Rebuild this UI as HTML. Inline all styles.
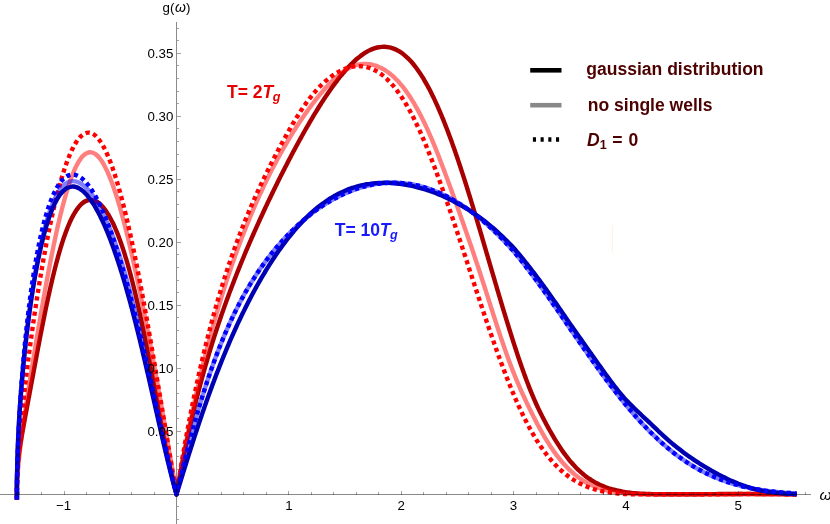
<!DOCTYPE html>
<html><head><meta charset="utf-8"><title>g(omega) plot</title>
<style>html,body{margin:0;padding:0;background:#fff;overflow:hidden}svg{display:block;will-change:transform}</style>
</head><body>
<svg width="830" height="524" viewBox="0 0 830 524">
<rect width="830" height="524" fill="#fff"/>
<rect x="611.8" y="225" width="1.1" height="27.5" fill="#fff1e0"/>
<g fill="none" stroke-width="4.4" stroke-linejoin="round" stroke-linecap="butt">
<path d="M16.90,499.60 L16.90,494.30C16.90,493.74 16.91,492.01 16.91,490.96C16.91,489.90 16.92,488.95 16.92,487.95C16.92,486.95 16.93,485.95 16.93,484.94C16.93,483.94 16.93,482.94 16.94,481.94C16.95,480.93 16.97,479.93 16.99,478.93C17.01,477.93 17.03,476.93 17.07,475.92C17.10,474.92 17.13,473.92 17.18,472.92C17.22,471.92 17.27,470.92 17.33,469.92C17.39,468.92 17.46,467.92 17.53,466.92C17.61,465.92 17.69,464.92 17.78,463.92C17.87,462.92 17.96,461.93 18.07,460.93C18.17,459.93 18.28,458.94 18.40,457.94C18.52,456.95 18.65,455.95 18.77,454.96C18.90,453.96 19.04,452.97 19.18,451.98C19.32,450.99 19.47,449.99 19.61,449.00C19.76,448.01 19.92,447.02 20.07,446.03C20.23,445.04 20.39,444.05 20.55,443.06C20.71,442.07 20.88,441.09 21.04,440.10C21.21,439.11 21.38,438.12 21.55,437.13C21.72,436.15 21.89,435.16 22.07,434.17C22.24,433.19 22.41,432.20 22.59,431.21C22.77,430.23 22.94,429.24 23.12,428.25C23.30,427.27 23.48,426.28 23.66,425.29C23.84,424.31 24.02,423.32 24.20,422.34C24.38,421.35 24.56,420.37 24.74,419.38C24.92,418.39 25.10,417.41 25.28,416.42C25.47,415.44 25.65,414.45 25.83,413.47C26.01,412.48 26.20,411.50 26.38,410.51C26.56,409.52 26.74,408.54 26.93,407.55C27.11,406.57 27.29,405.58 27.47,404.60C27.66,403.61 27.84,402.63 28.02,401.64C28.21,400.66 28.39,399.67 28.57,398.69C28.76,397.70 28.94,396.71 29.12,395.73C29.30,394.74 29.49,393.76 29.67,392.77C29.85,391.79 30.04,390.80 30.22,389.82C30.40,388.83 30.59,387.85 30.77,386.86C30.95,385.88 31.14,384.89 31.32,383.91C31.50,382.92 31.69,381.93 31.87,380.95C32.05,379.96 32.24,378.98 32.42,377.99C32.60,377.01 32.79,376.02 32.97,375.04C33.15,374.05 33.34,373.07 33.52,372.08C33.70,371.10 33.89,370.11 34.07,369.13C34.26,368.14 34.44,367.16 34.62,366.17C34.81,365.19 34.99,364.20 35.18,363.22C35.36,362.23 35.55,361.25 35.73,360.26C35.92,359.28 36.10,358.29 36.29,357.31C36.47,356.32 36.66,355.34 36.85,354.35C37.03,353.37 37.22,352.38 37.41,351.40C37.59,350.41 37.78,349.43 37.97,348.44C38.15,347.46 38.34,346.48 38.53,345.49C38.72,344.51 38.91,343.52 39.10,342.54C39.28,341.55 39.47,340.57 39.66,339.59C39.85,338.60 40.04,337.62 40.23,336.63C40.42,335.65 40.62,334.67 40.81,333.68C41.00,332.70 41.19,331.72 41.38,330.73C41.58,329.75 41.77,328.76 41.96,327.78C42.16,326.80 42.35,325.82 42.55,324.83C42.74,323.85 42.94,322.87 43.14,321.88C43.33,320.90 43.53,319.92 43.73,318.94C43.93,317.95 44.12,316.97 44.32,315.99C44.52,315.01 44.72,314.03 44.92,313.04C45.13,312.06 45.33,311.08 45.53,310.10C45.73,309.12 45.94,308.14 46.14,307.16C46.35,306.17 46.55,305.19 46.76,304.21C46.97,303.23 47.18,302.25 47.39,301.27C47.59,300.29 47.80,299.31 48.02,298.33C48.23,297.35 48.44,296.37 48.65,295.39C48.87,294.41 49.08,293.44 49.30,292.46C49.52,291.48 49.73,290.50 49.95,289.52C50.17,288.54 50.39,287.57 50.62,286.59C50.84,285.61 51.06,284.64 51.29,283.66C51.51,282.68 51.74,281.71 51.97,280.73C52.20,279.76 52.43,278.78 52.66,277.81C52.89,276.83 53.13,275.86 53.36,274.88C53.60,273.91 53.84,272.93 54.08,271.96C54.32,270.99 54.56,270.02 54.81,269.04C55.05,268.07 55.30,267.10 55.55,266.13C55.80,265.16 56.05,264.19 56.30,263.22C56.56,262.25 56.82,261.28 57.08,260.32C57.34,259.35 57.60,258.38 57.86,257.41C58.13,256.45 58.40,255.48 58.67,254.52C58.94,253.55 59.22,252.59 59.50,251.63C59.78,250.66 60.06,249.70 60.35,248.74C60.64,247.78 60.93,246.82 61.22,245.87C61.52,244.91 61.81,243.95 62.12,243.00C62.42,242.04 62.73,241.09 63.05,240.14C63.36,239.18 63.68,238.23 64.00,237.29C64.33,236.34 64.66,235.39 65.00,234.45C65.33,233.50 65.68,232.56 66.03,231.62C66.38,230.69 66.73,229.75 67.10,228.82C67.47,227.88 67.84,226.95 68.22,226.03C68.61,225.10 69.00,224.18 69.40,223.26C69.80,222.34 70.22,221.43 70.64,220.52C71.07,219.61 71.50,218.71 71.95,217.82C72.41,216.92 72.87,216.03 73.35,215.16C73.84,214.28 74.33,213.41 74.85,212.55C75.37,211.70 75.91,210.85 76.48,210.02C77.04,209.19 77.63,208.38 78.25,207.59C78.87,206.81 79.52,206.04 80.21,205.31C80.90,204.59 81.62,203.88 82.39,203.25C83.17,202.62 83.99,202.02 84.85,201.53C85.72,201.05 86.65,200.61 87.61,200.34C88.56,200.07 89.58,199.91 90.57,199.90C91.56,199.90 92.58,200.06 93.54,200.32C94.50,200.58 95.43,200.99 96.31,201.46C97.19,201.93 98.03,202.51 98.82,203.11C99.62,203.72 100.36,204.40 101.08,205.10C101.80,205.79 102.47,206.54 103.13,207.30C103.78,208.06 104.40,208.85 105.00,209.65C105.60,210.45 106.17,211.27 106.73,212.11C107.29,212.94 107.82,213.79 108.34,214.64C108.86,215.50 109.36,216.37 109.85,217.24C110.34,218.12 110.82,219.00 111.28,219.89C111.74,220.78 112.19,221.67 112.63,222.57C113.07,223.47 113.50,224.38 113.92,225.29C114.34,226.20 114.75,227.12 115.15,228.03C115.55,228.95 115.95,229.87 116.33,230.80C116.72,231.72 117.10,232.65 117.47,233.58C117.84,234.51 118.20,235.45 118.56,236.38C118.92,237.32 119.27,238.26 119.62,239.20C119.97,240.14 120.31,241.08 120.64,242.02C120.98,242.97 121.31,243.91 121.64,244.86C121.96,245.81 122.28,246.76 122.60,247.71C122.92,248.66 123.23,249.61 123.54,250.57C123.85,251.52 124.15,252.47 124.45,253.43C124.75,254.39 125.05,255.34 125.34,256.30C125.64,257.26 125.93,258.22 126.21,259.18C126.50,260.14 126.78,261.10 127.06,262.06C127.34,263.03 127.62,263.99 127.89,264.95C128.17,265.92 128.44,266.88 128.71,267.85C128.97,268.81 129.24,269.78 129.50,270.75C129.77,271.71 130.03,272.68 130.29,273.65C130.54,274.62 130.80,275.59 131.05,276.56C131.31,277.53 131.56,278.50 131.81,279.47C132.06,280.44 132.31,281.41 132.55,282.38C132.80,283.35 133.04,284.32 133.28,285.30C133.52,286.27 133.76,287.24 134.00,288.22C134.24,289.19 134.47,290.16 134.71,291.14C134.94,292.11 135.17,293.09 135.40,294.06C135.63,295.04 135.86,296.01 136.09,296.99C136.32,297.97 136.54,298.94 136.77,299.92C136.99,300.90 137.22,301.87 137.44,302.85C137.66,303.83 137.88,304.81 138.10,305.78C138.32,306.76 138.54,307.74 138.75,308.72C138.97,309.70 139.18,310.68 139.40,311.65C139.61,312.63 139.83,313.61 140.04,314.59C140.25,315.57 140.46,316.55 140.67,317.53C140.88,318.51 141.09,319.49 141.30,320.47C141.50,321.45 141.71,322.43 141.92,323.41C142.12,324.40 142.33,325.38 142.53,326.36C142.73,327.34 142.94,328.32 143.14,329.30C143.34,330.28 143.54,331.27 143.74,332.25C143.94,333.23 144.14,334.21 144.34,335.19C144.54,336.18 144.74,337.16 144.93,338.14C145.13,339.12 145.33,340.11 145.52,341.09C145.72,342.07 145.92,343.06 146.11,344.04C146.31,345.02 146.50,346.00 146.69,346.99C146.89,347.97 147.08,348.95 147.27,349.94C147.46,350.92 147.65,351.91 147.85,352.89C148.04,353.87 148.23,354.86 148.42,355.84C148.61,356.82 148.80,357.81 148.99,358.79C149.18,359.78 149.37,360.76 149.55,361.75C149.74,362.73 149.93,363.71 150.12,364.70C150.31,365.68 150.49,366.67 150.68,367.65C150.87,368.64 151.05,369.62 151.24,370.61C151.43,371.59 151.61,372.58 151.80,373.56C151.98,374.55 152.17,375.53 152.35,376.52C152.54,377.50 152.72,378.49 152.91,379.47C153.09,380.46 153.28,381.44 153.46,382.43C153.65,383.41 153.83,384.40 154.01,385.38C154.20,386.37 154.38,387.35 154.57,388.34C154.75,389.32 154.93,390.31 155.12,391.29C155.30,392.28 155.49,393.26 155.67,394.25C155.85,395.23 156.04,396.22 156.22,397.20C156.40,398.19 156.59,399.17 156.77,400.16C156.96,401.14 157.14,402.13 157.32,403.11C157.51,404.10 157.69,405.08 157.88,406.07C158.06,407.06 158.24,408.04 158.43,409.03C158.61,410.01 158.80,411.00 158.98,411.98C159.17,412.97 159.35,413.95 159.54,414.94C159.72,415.92 159.91,416.90 160.09,417.89C160.28,418.87 160.47,419.86 160.65,420.84C160.84,421.83 161.03,422.81 161.21,423.80C161.40,424.78 161.59,425.77 161.78,426.75C161.96,427.74 162.15,428.72 162.34,429.70C162.53,430.69 162.72,431.67 162.91,432.66C163.10,433.64 163.29,434.62 163.48,435.61C163.67,436.59 163.87,437.58 164.06,438.56C164.25,439.54 164.45,440.53 164.64,441.51C164.83,442.49 165.03,443.48 165.22,444.46C165.42,445.44 165.62,446.42 165.81,447.41C166.01,448.39 166.21,449.37 166.41,450.35C166.61,451.34 166.81,452.32 167.01,453.30C167.21,454.28 167.41,455.26 167.62,456.24C167.82,457.22 168.03,458.21 168.23,459.19C168.44,460.17 168.65,461.15 168.85,462.13C169.06,463.11 169.27,464.09 169.49,465.07C169.70,466.05 169.91,467.03 170.13,468.01C170.34,468.98 170.56,469.96 170.78,470.94C171.00,471.92 171.22,472.90 171.44,473.87C171.66,474.85 171.89,475.83 172.11,476.80C172.34,477.78 172.57,478.76 172.80,479.73C173.03,480.71 173.27,481.68 173.50,482.65C173.74,483.63 173.98,484.60 174.22,485.57C174.47,486.55 174.71,487.52 174.96,488.49C175.21,489.46 175.46,490.43 175.72,491.40C175.98,492.37 176.37,493.82 176.50,494.30C176.59,493.81 176.85,492.33 177.02,491.34C177.19,490.36 177.37,489.37 177.55,488.38C177.72,487.40 177.90,486.41 178.08,485.43C178.26,484.44 178.43,483.46 178.61,482.47C178.79,481.49 178.98,480.50 179.16,479.52C179.34,478.53 179.52,477.55 179.71,476.56C179.89,475.58 180.07,474.59 180.26,473.61C180.44,472.63 180.63,471.64 180.82,470.66C181.01,469.68 181.20,468.69 181.39,467.71C181.57,466.73 181.77,465.74 181.96,464.76C182.15,463.78 182.34,462.79 182.54,461.81C182.73,460.83 182.92,459.85 183.12,458.87C183.32,457.88 183.51,456.90 183.71,455.92C183.91,454.94 184.11,453.96 184.31,452.98C184.51,452.00 184.71,451.01 184.91,450.03C185.11,449.05 185.32,448.07 185.52,447.09C185.72,446.11 185.93,445.13 186.14,444.15C186.34,443.17 186.55,442.19 186.76,441.21C186.97,440.23 187.18,439.25 187.39,438.28C187.60,437.30 187.81,436.32 188.03,435.34C188.24,434.36 188.45,433.38 188.67,432.41C188.89,431.43 189.10,430.45 189.32,429.47C189.54,428.50 189.76,427.52 189.98,426.54C190.20,425.57 190.42,424.59 190.64,423.61C190.87,422.64 191.09,421.66 191.32,420.69C191.54,419.71 191.77,418.73 192.00,417.76C192.22,416.78 192.45,415.81 192.68,414.83C192.91,413.86 193.14,412.89 193.38,411.91C193.61,410.94 193.84,409.96 194.08,408.99C194.31,408.02 194.55,407.04 194.79,406.07C195.03,405.10 195.27,404.13 195.51,403.16C195.75,402.18 195.99,401.21 196.23,400.24C196.47,399.27 196.72,398.30 196.96,397.33C197.21,396.36 197.46,395.39 197.70,394.42C197.95,393.45 198.20,392.48 198.45,391.51C198.70,390.54 198.96,389.57 199.21,388.60C199.46,387.63 199.72,386.66 199.98,385.69C200.23,384.73 200.49,383.76 200.75,382.79C201.01,381.82 201.27,380.86 201.53,379.89C201.79,378.92 202.06,377.96 202.32,376.99C202.59,376.03 202.85,375.06 203.12,374.10C203.39,373.13 203.66,372.17 203.93,371.20C204.20,370.24 204.47,369.28 204.74,368.31C205.01,367.35 205.29,366.39 205.56,365.42C205.84,364.46 206.12,363.50 206.40,362.54C206.68,361.57 206.96,360.61 207.24,359.65C207.52,358.69 207.80,357.73 208.09,356.77C208.37,355.81 208.66,354.85 208.95,353.89C209.23,352.93 209.52,351.97 209.81,351.02C210.10,350.06 210.39,349.10 210.69,348.14C210.98,347.19 211.28,346.23 211.57,345.27C211.87,344.32 212.17,343.36 212.47,342.40C212.76,341.45 213.07,340.49 213.37,339.54C213.67,338.58 213.97,337.63 214.28,336.68C214.58,335.72 214.89,334.77 215.20,333.82C215.51,332.86 215.82,331.91 216.13,330.96C216.44,330.01 216.75,329.06 217.06,328.11C217.38,327.15 217.69,326.20 218.01,325.25C218.33,324.30 218.65,323.35 218.97,322.41C219.29,321.46 219.61,320.51 219.93,319.56C220.25,318.61 220.58,317.67 220.90,316.72C221.23,315.77 221.55,314.83 221.88,313.88C222.21,312.93 222.54,311.99 222.87,311.04C223.20,310.10 223.54,309.15 223.87,308.21C224.21,307.27 224.54,306.32 224.88,305.38C225.22,304.44 225.56,303.50 225.90,302.55C226.24,301.61 226.58,300.67 226.92,299.73C227.26,298.79 227.61,297.85 227.95,296.91C228.30,295.97 228.65,295.03 229.00,294.09C229.34,293.15 229.69,292.21 230.05,291.28C230.40,290.34 230.75,289.40 231.10,288.47C231.46,287.53 231.81,286.59 232.17,285.66C232.53,284.72 232.89,283.79 233.25,282.85C233.61,281.92 233.97,280.98 234.33,280.05C234.69,279.12 235.06,278.18 235.42,277.25C235.79,276.32 236.15,275.39 236.52,274.46C236.89,273.53 237.26,272.59 237.63,271.66C238.00,270.73 238.37,269.80 238.74,268.88C239.12,267.95 239.49,267.02 239.87,266.09C240.24,265.16 240.62,264.23 241.00,263.31C241.38,262.38 241.76,261.45 242.14,260.53C242.52,259.60 242.90,258.67 243.28,257.75C243.67,256.82 244.05,255.90 244.44,254.98C244.82,254.05 245.21,253.13 245.60,252.21C245.99,251.28 246.38,250.36 246.77,249.44C247.16,248.52 247.55,247.60 247.94,246.67C248.34,245.75 248.73,244.83 249.13,243.91C249.52,242.99 249.92,242.07 250.32,241.15C250.72,240.24 251.11,239.32 251.51,238.40C251.92,237.48 252.32,236.56 252.72,235.65C253.12,234.73 253.53,233.81 253.93,232.90C254.33,231.98 254.74,231.07 255.15,230.15C255.55,229.24 255.96,228.32 256.37,227.41C256.78,226.50 257.19,225.58 257.60,224.67C258.01,223.76 258.43,222.84 258.84,221.93C259.25,221.02 259.67,220.11 260.09,219.20C260.50,218.29 260.92,217.38 261.34,216.47C261.75,215.56 262.17,214.65 262.59,213.74C263.01,212.83 263.43,211.92 263.86,211.01C264.28,210.11 264.70,209.20 265.13,208.29C265.55,207.38 265.98,206.48 266.40,205.57C266.83,204.67 267.26,203.76 267.68,202.85C268.11,201.95 268.54,201.05 268.97,200.14C269.40,199.24 269.84,198.33 270.27,197.43C270.70,196.53 271.13,195.62 271.57,194.72C272.00,193.82 272.44,192.92 272.88,192.02C273.31,191.12 273.75,190.22 274.19,189.32C274.63,188.42 275.07,187.52 275.51,186.62C275.95,185.72 276.39,184.82 276.84,183.92C277.28,183.02 277.72,182.13 278.17,181.23C278.61,180.33 279.06,179.44 279.51,178.54C279.95,177.65 280.40,176.75 280.85,175.85C281.30,174.96 281.75,174.07 282.20,173.17C282.66,172.28 283.11,171.39 283.56,170.49C284.02,169.60 284.47,168.71 284.93,167.82C285.38,166.93 285.84,166.03 286.30,165.14C286.76,164.25 287.22,163.36 287.68,162.48C288.14,161.59 288.60,160.70 289.06,159.81C289.53,158.92 289.99,158.03 290.45,157.15C290.92,156.26 291.39,155.38 291.85,154.49C292.32,153.60 292.79,152.72 293.26,151.84C293.73,150.95 294.20,150.07 294.68,149.19C295.15,148.30 295.62,147.42 296.10,146.54C296.58,145.66 297.05,144.78 297.53,143.90C298.01,143.02 298.49,142.14 298.97,141.26C299.45,140.38 299.93,139.51 300.42,138.63C300.90,137.75 301.39,136.88 301.88,136.00C302.36,135.13 302.85,134.26 303.34,133.38C303.83,132.51 304.32,131.64 304.82,130.77C305.31,129.89 305.81,129.02 306.30,128.16C306.80,127.29 307.30,126.42 307.80,125.55C308.30,124.68 308.80,123.82 309.31,122.95C309.81,122.09 310.32,121.22 310.83,120.36C311.34,119.50 311.85,118.64 312.36,117.78C312.87,116.92 313.39,116.06 313.90,115.20C314.42,114.34 314.94,113.49 315.46,112.63C315.98,111.78 316.50,110.92 317.03,110.07C317.56,109.22 318.08,108.37 318.62,107.52C319.15,106.67 319.68,105.82 320.22,104.98C320.75,104.13 321.29,103.29 321.83,102.44C322.38,101.60 322.92,100.76 323.47,99.92C324.02,99.09 324.57,98.25 325.12,97.41C325.67,96.58 326.23,95.75 326.79,94.92C327.35,94.09 327.92,93.26 328.48,92.44C329.05,91.61 329.62,90.79 330.20,89.97C330.77,89.15 331.35,88.33 331.94,87.52C332.52,86.71 333.11,85.89 333.70,85.09C334.29,84.28 334.89,83.48 335.49,82.67C336.09,81.87 336.69,81.08 337.31,80.28C337.92,79.49 338.53,78.70 339.15,77.92C339.78,77.13 340.40,76.35 341.04,75.57C341.67,74.80 342.31,74.03 342.96,73.26C343.60,72.50 344.25,71.74 344.91,70.98C345.57,70.23 346.24,69.48 346.91,68.74C347.59,68.00 348.27,67.27 348.96,66.54C349.65,65.82 350.34,65.10 351.05,64.39C351.76,63.68 352.47,62.98 353.20,62.29C353.93,61.60 354.66,60.92 355.41,60.25C356.16,59.59 356.91,58.93 357.68,58.29C358.45,57.65 359.23,57.02 360.02,56.41C360.82,55.80 361.62,55.20 362.44,54.62C363.26,54.05 364.09,53.49 364.94,52.96C365.79,52.42 366.65,51.91 367.52,51.43C368.40,50.94 369.29,50.48 370.20,50.06C371.10,49.64 372.03,49.24 372.96,48.89C373.90,48.53 374.85,48.21 375.81,47.94C376.77,47.67 377.75,47.43 378.73,47.25C379.72,47.07 380.72,46.94 381.71,46.86C382.71,46.79 383.72,46.76 384.71,46.80C385.71,46.83 386.72,46.92 387.70,47.06C388.69,47.21 389.68,47.41 390.65,47.66C391.61,47.91 392.57,48.22 393.51,48.57C394.45,48.91 395.37,49.32 396.27,49.75C397.17,50.19 398.05,50.67 398.91,51.18C399.77,51.69 400.61,52.24 401.43,52.81C402.25,53.38 403.05,53.99 403.83,54.61C404.62,55.24 405.38,55.89 406.12,56.56C406.87,57.23 407.59,57.92 408.30,58.62C409.01,59.33 409.71,60.05 410.39,60.79C411.06,61.52 411.73,62.28 412.38,63.04C413.03,63.80 413.66,64.57 414.29,65.35C414.91,66.14 415.52,66.93 416.12,67.73C416.73,68.53 417.31,69.34 417.89,70.16C418.47,70.98 419.04,71.80 419.60,72.63C420.16,73.46 420.71,74.30 421.25,75.15C421.79,75.99 422.32,76.84 422.84,77.69C423.37,78.54 423.88,79.40 424.39,80.26C424.90,81.13 425.40,81.99 425.89,82.86C426.39,83.74 426.88,84.61 427.36,85.49C427.84,86.37 428.31,87.25 428.78,88.13C429.25,89.02 429.72,89.90 430.17,90.79C430.63,91.69 431.08,92.58 431.53,93.47C431.98,94.37 432.42,95.27 432.86,96.17C433.30,97.07 433.73,97.97 434.16,98.88C434.59,99.78 435.01,100.69 435.43,101.60C435.85,102.51 436.27,103.42 436.68,104.33C437.09,105.24 437.50,106.16 437.91,107.07C438.31,107.99 438.71,108.91 439.11,109.82C439.51,110.74 439.90,111.66 440.29,112.59C440.69,113.51 441.07,114.43 441.46,115.36C441.84,116.28 442.22,117.21 442.60,118.13C442.98,119.06 443.36,119.99 443.73,120.92C444.11,121.85 444.48,122.78 444.85,123.71C445.21,124.64 445.58,125.57 445.94,126.50C446.31,127.44 446.67,128.37 447.02,129.31C447.38,130.24 447.74,131.18 448.09,132.11C448.45,133.05 448.80,133.99 449.15,134.93C449.50,135.86 449.85,136.80 450.19,137.74C450.54,138.68 450.88,139.62 451.22,140.56C451.57,141.50 451.91,142.45 452.24,143.39C452.58,144.33 452.92,145.27 453.25,146.22C453.59,147.16 453.92,148.11 454.25,149.05C454.59,150.00 454.92,150.94 455.24,151.89C455.57,152.83 455.90,153.78 456.23,154.73C456.55,155.67 456.87,156.62 457.20,157.57C457.52,158.52 457.84,159.46 458.16,160.41C458.48,161.36 458.80,162.31 459.12,163.26C459.44,164.21 459.75,165.16 460.07,166.11C460.38,167.06 460.70,168.01 461.01,168.96C461.32,169.92 461.63,170.87 461.94,171.82C462.25,172.77 462.56,173.72 462.87,174.68C463.18,175.63 463.49,176.58 463.79,177.54C464.10,178.49 464.40,179.44 464.71,180.40C465.01,181.35 465.32,182.30 465.62,183.26C465.92,184.21 466.22,185.17 466.52,186.12C466.83,187.08 467.13,188.03 467.42,188.99C467.72,189.94 468.02,190.90 468.32,191.86C468.62,192.81 468.92,193.77 469.21,194.73C469.51,195.68 469.80,196.64 470.10,197.60C470.39,198.55 470.69,199.51 470.98,200.47C471.27,201.42 471.57,202.38 471.86,203.34C472.15,204.30 472.44,205.25 472.74,206.21C473.03,207.17 473.32,208.13 473.61,209.09C473.90,210.05 474.19,211.00 474.48,211.96C474.77,212.92 475.05,213.88 475.34,214.84C475.63,215.80 475.92,216.76 476.21,217.72C476.49,218.68 476.78,219.64 477.07,220.59C477.35,221.55 477.64,222.51 477.92,223.47C478.21,224.43 478.50,225.39 478.78,226.35C479.07,227.31 479.35,228.27 479.63,229.23C479.92,230.19 480.20,231.15 480.49,232.11C480.77,233.07 481.05,234.03 481.34,234.99C481.62,235.96 481.90,236.92 482.19,237.88C482.47,238.84 482.75,239.80 483.03,240.76C483.32,241.72 483.60,242.68 483.88,243.64C484.16,244.60 484.45,245.56 484.73,246.52C485.01,247.48 485.29,248.44 485.57,249.41C485.85,250.37 486.14,251.33 486.42,252.29C486.70,253.25 486.98,254.21 487.26,255.17C487.54,256.13 487.82,257.09 488.10,258.05C488.39,259.02 488.67,259.98 488.95,260.94C489.23,261.90 489.51,262.86 489.79,263.82C490.07,264.78 490.35,265.74 490.64,266.70C490.92,267.66 491.20,268.63 491.48,269.59C491.76,270.55 492.04,271.51 492.32,272.47C492.61,273.43 492.89,274.39 493.17,275.35C493.45,276.31 493.73,277.27 494.02,278.23C494.30,279.19 494.58,280.16 494.86,281.12C495.15,282.08 495.43,283.04 495.71,284.00C495.99,284.96 496.28,285.92 496.56,286.88C496.85,287.84 497.13,288.80 497.41,289.76C497.70,290.72 497.98,291.68 498.27,292.64C498.55,293.60 498.84,294.56 499.12,295.52C499.41,296.48 499.69,297.44 499.98,298.40C500.26,299.36 500.55,300.32 500.84,301.28C501.12,302.24 501.41,303.20 501.70,304.16C501.99,305.11 502.27,306.07 502.56,307.03C502.85,307.99 503.14,308.95 503.43,309.91C503.72,310.87 504.01,311.83 504.30,312.78C504.59,313.74 504.88,314.70 505.17,315.66C505.46,316.62 505.76,317.57 506.05,318.53C506.34,319.49 506.64,320.45 506.93,321.40C507.22,322.36 507.52,323.32 507.81,324.27C508.11,325.23 508.40,326.19 508.70,327.14C509.00,328.10 509.29,329.06 509.59,330.01C509.89,330.97 510.19,331.93 510.49,332.88C510.79,333.84 511.09,334.79 511.39,335.75C511.69,336.70 511.99,337.66 512.30,338.61C512.60,339.56 512.90,340.52 513.21,341.47C513.51,342.43 513.82,343.38 514.13,344.33C514.44,345.29 514.74,346.24 515.05,347.19C515.36,348.14 515.67,349.09 515.99,350.05C516.30,351.00 516.61,351.95 516.93,352.90C517.24,353.85 517.56,354.80 517.87,355.75C518.19,356.70 518.51,357.65 518.83,358.60C519.15,359.55 519.47,360.49 519.80,361.44C520.12,362.39 520.45,363.34 520.77,364.28C521.10,365.23 521.43,366.17 521.76,367.12C522.09,368.06 522.42,369.01 522.76,369.95C523.09,370.90 523.43,371.84 523.77,372.78C524.11,373.72 524.45,374.67 524.79,375.61C525.13,376.55 525.48,377.49 525.83,378.43C526.17,379.36 526.53,380.30 526.88,381.24C527.23,382.18 527.59,383.11 527.95,384.05C528.30,384.98 528.67,385.92 529.03,386.85C529.39,387.78 529.76,388.71 530.13,389.64C530.50,390.57 530.88,391.50 531.26,392.43C531.63,393.36 532.01,394.28 532.40,395.21C532.79,396.13 533.17,397.05 533.57,397.98C533.96,398.90 534.36,399.82 534.76,400.73C535.16,401.65 535.57,402.56 535.98,403.48C536.39,404.39 536.81,405.30 537.23,406.21C537.65,407.12 538.08,408.02 538.51,408.93C538.94,409.83 539.38,410.73 539.82,411.63C540.26,412.53 540.71,413.43 541.16,414.32C541.61,415.21 542.06,416.11 542.52,417.00C542.98,417.89 543.44,418.78 543.91,419.66C544.37,420.55 544.84,421.43 545.31,422.32C545.78,423.20 546.26,424.08 546.73,424.96C547.21,425.84 547.69,426.72 548.18,427.60C548.66,428.47 549.15,429.35 549.64,430.22C550.13,431.09 550.63,431.96 551.13,432.83C551.63,433.70 552.13,434.56 552.64,435.43C553.15,436.29 553.66,437.15 554.18,438.01C554.69,438.87 555.21,439.72 555.74,440.57C556.27,441.42 556.80,442.27 557.33,443.12C557.87,443.97 558.41,444.81 558.96,445.65C559.50,446.49 560.06,447.32 560.61,448.15C561.17,448.98 561.74,449.81 562.31,450.63C562.88,451.46 563.45,452.28 564.04,453.09C564.62,453.90 565.21,454.71 565.81,455.52C566.41,456.32 567.01,457.12 567.63,457.91C568.24,458.70 568.87,459.48 569.50,460.26C570.13,461.03 570.77,461.80 571.43,462.56C572.08,463.32 572.74,464.07 573.41,464.81C574.09,465.55 574.77,466.29 575.46,467.01C576.16,467.73 576.86,468.44 577.58,469.14C578.29,469.84 579.02,470.53 579.76,471.21C580.49,471.89 581.24,472.55 582.00,473.20C582.76,473.85 583.54,474.49 584.32,475.12C585.10,475.74 585.90,476.35 586.70,476.95C587.51,477.54 588.32,478.12 589.15,478.68C589.98,479.24 590.82,479.79 591.67,480.32C592.52,480.85 593.38,481.37 594.25,481.86C595.12,482.36 596.00,482.83 596.89,483.30C597.78,483.76 598.68,484.20 599.58,484.62C600.49,485.05 601.41,485.45 602.33,485.84C603.25,486.23 604.18,486.60 605.12,486.95C606.05,487.31 607.00,487.64 607.95,487.96C608.90,488.28 609.85,488.58 610.81,488.87C611.77,489.15 612.74,489.42 613.70,489.68C614.67,489.93 615.65,490.17 616.62,490.40C617.60,490.62 618.58,490.83 619.56,491.03C620.54,491.23 621.52,491.41 622.51,491.58C623.50,491.75 624.49,491.91 625.48,492.06C626.47,492.21 627.46,492.35 628.45,492.48C629.44,492.61 630.44,492.73 631.43,492.84C632.43,492.95 633.42,493.05 634.42,493.14C635.42,493.23 636.42,493.32 637.41,493.40C638.41,493.48 639.41,493.55 640.41,493.61C641.41,493.68 642.41,493.74 643.41,493.79C644.41,493.85 645.41,493.90 646.41,493.94C647.41,493.99 648.41,494.03 649.41,494.06C650.41,494.10 651.41,494.13 652.41,494.16C653.41,494.19 654.42,494.21 655.42,494.23C656.42,494.26 657.42,494.28 658.42,494.29C659.42,494.30 660.42,494.30 661.42,494.30C662.43,494.30 663.43,494.30 664.43,494.30C665.43,494.30 666.43,494.30 667.43,494.30C668.43,494.30 669.43,494.30 670.44,494.30C671.44,494.30 672.44,494.30 673.44,494.30C674.44,494.30 675.44,494.30 676.44,494.30C677.45,494.30 678.45,494.30 679.45,494.30C680.45,494.30 681.45,494.30 682.45,494.30C683.45,494.30 684.45,494.30 685.46,494.30C686.46,494.30 687.46,494.30 688.46,494.30C689.46,494.30 690.46,494.30 691.46,494.29C692.47,494.29 693.47,494.28 694.47,494.27C695.47,494.26 696.47,494.25 697.47,494.24C698.47,494.23 699.47,494.22 700.48,494.21C701.48,494.20 702.48,494.19 703.48,494.18C704.48,494.17 705.48,494.17 706.48,494.16C707.48,494.15 708.49,494.14 709.49,494.13C710.49,494.12 711.49,494.11 712.49,494.10C713.49,494.09 714.49,494.08 715.50,494.08C716.50,494.07 717.50,494.06 718.50,494.05C719.50,494.04 720.50,494.03 721.50,494.03C722.50,494.02 723.51,494.01 724.51,494.01C725.51,494.00 726.51,493.99 727.51,493.99C728.51,493.98 729.51,493.97 730.51,493.97C731.52,493.96 732.52,493.96 733.52,493.95C734.52,493.95 735.52,493.94 736.52,493.94C737.52,493.93 738.53,493.93 739.53,493.93C740.53,493.92 741.53,493.92 742.53,493.92C743.53,493.92 744.53,493.92 745.53,493.91C746.54,493.91 747.54,493.91 748.54,493.91C749.54,493.91 750.54,493.91 751.54,493.91C752.54,493.92 753.55,493.92 754.55,493.92C755.55,493.92 756.55,493.93 757.55,493.93C758.55,493.93 759.55,493.94 760.55,493.94C761.56,493.95 762.56,493.95 763.56,493.96C764.56,493.97 765.56,493.97 766.56,493.98C767.56,493.99 768.57,494.00 769.57,494.01C770.57,494.02 771.57,494.03 772.57,494.04C773.57,494.05 774.57,494.06 775.57,494.07C776.58,494.09 777.58,494.10 778.58,494.12C779.58,494.13 780.58,494.15 781.58,494.16C782.58,494.18 783.58,494.20 784.58,494.21C785.59,494.23 786.59,494.26 787.59,494.27C788.59,494.28 789.59,494.30 790.59,494.30C791.59,494.30 792.59,494.30 793.60,494.30C794.60,494.30 796.10,494.30 796.60,494.30" stroke="#a80000"/>
<path d="M16.90,499.60 L16.90,494.30C16.90,493.80 16.92,492.29 16.93,491.29C16.94,490.29 16.95,489.28 16.98,488.28C17.00,487.28 17.03,486.28 17.07,485.28C17.10,484.28 17.14,483.27 17.19,482.27C17.23,481.27 17.28,480.27 17.33,479.27C17.39,478.27 17.44,477.27 17.51,476.27C17.57,475.27 17.63,474.27 17.71,473.27C17.78,472.27 17.85,471.27 17.93,470.27C18.01,469.27 18.09,468.27 18.17,467.27C18.26,466.27 18.34,465.28 18.44,464.28C18.53,463.28 18.62,462.28 18.72,461.28C18.82,460.29 18.92,459.29 19.02,458.29C19.12,457.30 19.23,456.30 19.33,455.30C19.44,454.31 19.55,453.31 19.67,452.31C19.78,451.32 19.89,450.32 20.01,449.33C20.13,448.33 20.24,447.34 20.37,446.34C20.49,445.35 20.61,444.35 20.73,443.36C20.86,442.36 20.98,441.37 21.11,440.37C21.24,439.38 21.37,438.39 21.50,437.39C21.63,436.40 21.76,435.41 21.89,434.41C22.03,433.42 22.16,432.43 22.30,431.43C22.43,430.44 22.57,429.45 22.71,428.45C22.84,427.46 22.98,426.47 23.12,425.48C23.26,424.48 23.40,423.49 23.54,422.50C23.69,421.51 23.83,420.52 23.97,419.52C24.12,418.53 24.26,417.54 24.40,416.55C24.55,415.56 24.70,414.57 24.84,413.57C24.99,412.58 25.13,411.59 25.28,410.60C25.43,409.61 25.58,408.62 25.73,407.63C25.88,406.63 26.03,405.64 26.18,404.65C26.33,403.66 26.48,402.67 26.63,401.68C26.78,400.69 26.93,399.70 27.08,398.71C27.23,397.72 27.39,396.73 27.54,395.74C27.69,394.75 27.84,393.76 28.00,392.77C28.15,391.77 28.31,390.78 28.46,389.79C28.61,388.80 28.77,387.81 28.92,386.82C29.08,385.83 29.23,384.84 29.39,383.85C29.55,382.86 29.70,381.87 29.86,380.88C30.02,379.89 30.17,378.90 30.33,377.91C30.49,376.92 30.64,375.93 30.80,374.94C30.96,373.95 31.12,372.96 31.27,371.98C31.43,370.99 31.59,370.00 31.75,369.01C31.91,368.02 32.07,367.03 32.23,366.04C32.39,365.05 32.55,364.06 32.71,363.07C32.87,362.08 33.03,361.09 33.19,360.10C33.35,359.11 33.51,358.12 33.67,357.13C33.83,356.14 33.99,355.16 34.15,354.17C34.31,353.18 34.48,352.19 34.64,351.20C34.80,350.21 34.96,349.22 35.12,348.23C35.29,347.24 35.45,346.25 35.61,345.27C35.78,344.28 35.94,343.29 36.10,342.30C36.27,341.31 36.43,340.32 36.60,339.33C36.76,338.34 36.93,337.36 37.09,336.37C37.25,335.38 37.42,334.39 37.59,333.40C37.75,332.41 37.92,331.42 38.08,330.44C38.25,329.45 38.42,328.46 38.58,327.47C38.75,326.48 38.92,325.49 39.08,324.51C39.25,323.52 39.42,322.53 39.59,321.54C39.76,320.55 39.92,319.57 40.09,318.58C40.26,317.59 40.43,316.60 40.60,315.62C40.77,314.63 40.94,313.64 41.11,312.65C41.28,311.66 41.45,310.68 41.63,309.69C41.80,308.70 41.97,307.71 42.14,306.73C42.31,305.74 42.49,304.75 42.66,303.77C42.83,302.78 43.01,301.79 43.18,300.80C43.35,299.82 43.53,298.83 43.70,297.84C43.88,296.86 44.05,295.87 44.23,294.88C44.41,293.90 44.58,292.91 44.76,291.92C44.94,290.94 45.11,289.95 45.29,288.96C45.47,287.98 45.65,286.99 45.83,286.01C46.01,285.02 46.19,284.03 46.37,283.05C46.55,282.06 46.73,281.08 46.91,280.09C47.10,279.11 47.28,278.12 47.46,277.14C47.64,276.15 47.83,275.16 48.01,274.18C48.20,273.19 48.38,272.21 48.57,271.23C48.76,270.24 48.94,269.26 49.13,268.27C49.32,267.29 49.51,266.30 49.70,265.32C49.89,264.33 50.08,263.35 50.27,262.37C50.46,261.38 50.65,260.40 50.84,259.42C51.04,258.43 51.23,257.45 51.42,256.47C51.62,255.48 51.82,254.50 52.01,253.52C52.21,252.53 52.41,251.55 52.61,250.57C52.80,249.59 53.00,248.60 53.21,247.62C53.41,246.64 53.61,245.66 53.81,244.68C54.02,243.70 54.22,242.72 54.43,241.74C54.63,240.75 54.84,239.77 55.05,238.79C55.26,237.81 55.47,236.83 55.68,235.85C55.89,234.87 56.10,233.89 56.32,232.92C56.53,231.94 56.75,230.96 56.97,229.98C57.18,229.00 57.40,228.02 57.62,227.05C57.84,226.07 58.07,225.09 58.29,224.11C58.52,223.14 58.74,222.16 58.97,221.19C59.20,220.21 59.43,219.23 59.66,218.26C59.89,217.28 60.13,216.31 60.37,215.34C60.60,214.36 60.84,213.39 61.08,212.42C61.32,211.44 61.57,210.47 61.81,209.50C62.06,208.53 62.31,207.56 62.56,206.59C62.81,205.62 63.07,204.65 63.33,203.68C63.58,202.71 63.84,201.74 64.11,200.78C64.37,199.81 64.64,198.84 64.91,197.88C65.18,196.91 65.46,195.95 65.74,194.99C66.02,194.03 66.30,193.06 66.59,192.10C66.87,191.14 67.17,190.18 67.46,189.23C67.76,188.27 68.06,187.31 68.37,186.36C68.68,185.41 68.99,184.45 69.31,183.50C69.63,182.56 69.95,181.61 70.29,180.66C70.62,179.72 70.96,178.77 71.31,177.83C71.66,176.89 72.01,175.96 72.38,175.02C72.74,174.09 73.12,173.16 73.50,172.24C73.89,171.31 74.29,170.39 74.70,169.48C75.11,168.56 75.53,167.65 75.97,166.75C76.42,165.85 76.87,164.96 77.35,164.08C77.83,163.20 78.32,162.33 78.85,161.47C79.37,160.62 79.92,159.78 80.50,158.97C81.09,158.16 81.70,157.35 82.38,156.61C83.05,155.87 83.75,155.14 84.53,154.53C85.32,153.91 86.16,153.31 87.07,152.93C87.98,152.54 89.00,152.26 89.97,152.22C90.95,152.19 91.99,152.39 92.92,152.71C93.85,153.03 94.74,153.58 95.55,154.15C96.36,154.72 97.10,155.42 97.81,156.13C98.52,156.84 99.16,157.61 99.78,158.40C100.40,159.18 100.98,160.01 101.54,160.84C102.10,161.67 102.62,162.53 103.13,163.39C103.64,164.25 104.13,165.13 104.60,166.01C105.08,166.89 105.53,167.79 105.97,168.69C106.42,169.58 106.84,170.49 107.26,171.40C107.68,172.31 108.09,173.23 108.48,174.15C108.88,175.07 109.27,175.99 109.65,176.92C110.03,177.85 110.40,178.78 110.76,179.71C111.12,180.65 111.48,181.59 111.83,182.52C112.18,183.46 112.52,184.41 112.86,185.35C113.20,186.29 113.53,187.24 113.86,188.18C114.19,189.13 114.51,190.08 114.83,191.03C115.15,191.98 115.46,192.93 115.77,193.89C116.08,194.84 116.38,195.79 116.69,196.75C116.99,197.71 117.28,198.66 117.58,199.62C117.87,200.58 118.16,201.54 118.45,202.50C118.74,203.46 119.03,204.42 119.31,205.38C119.59,206.34 119.87,207.31 120.14,208.27C120.42,209.23 120.69,210.20 120.97,211.16C121.24,212.13 121.51,213.09 121.77,214.06C122.04,215.02 122.30,215.99 122.56,216.96C122.83,217.93 123.09,218.89 123.34,219.86C123.60,220.83 123.86,221.80 124.11,222.77C124.37,223.74 124.62,224.71 124.87,225.68C125.12,226.65 125.37,227.62 125.61,228.59C125.86,229.56 126.10,230.53 126.35,231.51C126.59,232.48 126.83,233.45 127.07,234.42C127.31,235.40 127.55,236.37 127.79,237.34C128.03,238.32 128.26,239.29 128.50,240.27C128.73,241.24 128.96,242.22 129.20,243.19C129.43,244.17 129.66,245.14 129.89,246.12C130.12,247.09 130.35,248.07 130.57,249.04C130.80,250.02 131.03,251.00 131.25,251.97C131.48,252.95 131.70,253.93 131.92,254.90C132.15,255.88 132.37,256.86 132.59,257.84C132.81,258.81 133.03,259.79 133.25,260.77C133.47,261.75 133.68,262.73 133.90,263.71C134.12,264.68 134.33,265.66 134.55,266.64C134.76,267.62 134.98,268.60 135.19,269.58C135.40,270.56 135.61,271.54 135.83,272.52C136.04,273.50 136.25,274.48 136.46,275.46C136.67,276.44 136.88,277.42 137.09,278.40C137.29,279.38 137.50,280.36 137.71,281.34C137.92,282.32 138.12,283.30 138.33,284.28C138.53,285.26 138.74,286.24 138.94,287.22C139.15,288.21 139.35,289.19 139.55,290.17C139.76,291.15 139.96,292.13 140.16,293.11C140.36,294.09 140.56,295.08 140.76,296.06C140.96,297.04 141.16,298.02 141.36,299.00C141.56,299.99 141.76,300.97 141.96,301.95C142.16,302.93 142.35,303.92 142.55,304.90C142.75,305.88 142.94,306.87 143.14,307.85C143.34,308.83 143.53,309.81 143.73,310.80C143.92,311.78 144.12,312.76 144.31,313.75C144.50,314.73 144.70,315.71 144.89,316.70C145.08,317.68 145.28,318.66 145.47,319.65C145.66,320.63 145.85,321.61 146.04,322.60C146.23,323.58 146.42,324.57 146.61,325.55C146.80,326.53 146.99,327.52 147.18,328.50C147.37,329.49 147.56,330.47 147.75,331.46C147.94,332.44 148.13,333.42 148.31,334.41C148.50,335.39 148.69,336.38 148.88,337.36C149.06,338.35 149.25,339.33 149.44,340.32C149.62,341.30 149.81,342.29 149.99,343.27C150.18,344.26 150.37,345.24 150.55,346.23C150.74,347.21 150.92,348.20 151.10,349.18C151.29,350.17 151.47,351.15 151.66,352.14C151.84,353.12 152.02,354.11 152.20,355.09C152.39,356.08 152.57,357.06 152.75,358.05C152.93,359.03 153.12,360.02 153.30,361.01C153.48,361.99 153.66,362.98 153.84,363.96C154.02,364.95 154.20,365.93 154.38,366.92C154.56,367.91 154.74,368.89 154.92,369.88C155.10,370.86 155.28,371.85 155.46,372.84C155.64,373.82 155.82,374.81 156.00,375.79C156.18,376.78 156.36,377.77 156.54,378.75C156.71,379.74 156.89,380.73 157.07,381.71C157.25,382.70 157.43,383.68 157.60,384.67C157.78,385.66 157.96,386.64 158.13,387.63C158.31,388.62 158.49,389.60 158.66,390.59C158.84,391.58 159.02,392.56 159.19,393.55C159.37,394.54 159.54,395.52 159.72,396.51C159.89,397.50 160.07,398.48 160.24,399.47C160.42,400.46 160.59,401.44 160.77,402.43C160.94,403.42 161.12,404.40 161.29,405.39C161.46,406.38 161.64,407.37 161.81,408.35C161.99,409.34 162.16,410.33 162.33,411.31C162.51,412.30 162.68,413.29 162.85,414.28C163.02,415.26 163.20,416.25 163.37,417.24C163.54,418.22 163.71,419.21 163.89,420.20C164.06,421.19 164.23,422.17 164.40,423.16C164.57,424.15 164.75,425.14 164.92,426.12C165.09,427.11 165.26,428.10 165.43,429.09C165.60,430.07 165.77,431.06 165.94,432.05C166.11,433.04 166.29,434.02 166.46,435.01C166.63,436.00 166.80,436.99 166.97,437.97C167.14,438.96 167.31,439.95 167.48,440.94C167.65,441.93 167.81,442.91 167.98,443.90C168.15,444.89 168.32,445.88 168.49,446.86C168.66,447.85 168.83,448.84 169.00,449.83C169.17,450.82 169.34,451.80 169.50,452.79C169.67,453.78 169.84,454.77 170.01,455.76C170.18,456.74 170.35,457.73 170.51,458.72C170.68,459.71 170.85,460.70 171.02,461.68C171.18,462.67 171.35,463.66 171.52,464.65C171.69,465.64 171.85,466.63 172.02,467.61C172.19,468.60 172.35,469.59 172.52,470.58C172.69,471.57 172.86,472.55 173.02,473.54C173.19,474.53 173.35,475.52 173.52,476.51C173.69,477.50 173.85,478.48 174.02,479.47C174.19,480.46 174.35,481.45 174.52,482.44C174.68,483.43 174.85,484.41 175.01,485.40C175.18,486.39 175.34,487.38 175.51,488.37C175.68,489.36 175.84,490.35 176.01,491.33C176.17,492.32 176.42,493.81 176.50,494.30C176.59,493.81 176.85,492.33 177.03,491.34C177.20,490.35 177.38,489.37 177.55,488.38C177.73,487.39 177.91,486.41 178.08,485.42C178.26,484.44 178.44,483.45 178.62,482.46C178.80,481.48 178.97,480.49 179.15,479.51C179.33,478.52 179.51,477.53 179.69,476.55C179.87,475.56 180.05,474.58 180.23,473.59C180.42,472.61 180.60,471.62 180.78,470.64C180.96,469.65 181.14,468.67 181.33,467.68C181.51,466.70 181.69,465.71 181.88,464.73C182.06,463.74 182.25,462.76 182.43,461.77C182.62,460.79 182.80,459.80 182.99,458.82C183.18,457.83 183.36,456.85 183.55,455.86C183.74,454.88 183.93,453.90 184.11,452.91C184.30,451.93 184.49,450.94 184.68,449.96C184.87,448.98 185.06,447.99 185.25,447.01C185.44,446.02 185.64,445.04 185.83,444.06C186.02,443.07 186.21,442.09 186.41,441.11C186.60,440.12 186.79,439.14 186.99,438.16C187.18,437.18 187.38,436.19 187.57,435.21C187.77,434.23 187.97,433.25 188.16,432.26C188.36,431.28 188.56,430.30 188.76,429.32C188.96,428.33 189.16,427.35 189.36,426.37C189.56,425.39 189.76,424.41 189.96,423.42C190.16,422.44 190.36,421.46 190.56,420.48C190.77,419.50 190.97,418.52 191.18,417.54C191.38,416.56 191.58,415.58 191.79,414.59C192.00,413.61 192.20,412.63 192.41,411.65C192.62,410.67 192.82,409.69 193.03,408.71C193.24,407.73 193.45,406.75 193.66,405.77C193.87,404.79 194.08,403.81 194.30,402.83C194.51,401.86 194.72,400.88 194.93,399.90C195.15,398.92 195.36,397.94 195.58,396.96C195.79,395.98 196.01,395.00 196.22,394.03C196.44,393.05 196.66,392.07 196.88,391.09C197.10,390.11 197.32,389.14 197.54,388.16C197.76,387.18 197.98,386.20 198.20,385.23C198.42,384.25 198.65,383.27 198.87,382.30C199.09,381.32 199.32,380.34 199.54,379.37C199.77,378.39 200.00,377.41 200.22,376.44C200.45,375.46 200.68,374.49 200.91,373.51C201.14,372.54 201.37,371.56 201.60,370.59C201.84,369.61 202.07,368.64 202.30,367.66C202.54,366.69 202.77,365.71 203.01,364.74C203.24,363.77 203.48,362.79 203.72,361.82C203.95,360.85 204.19,359.87 204.43,358.90C204.67,357.93 204.91,356.96 205.16,355.98C205.40,355.01 205.64,354.04 205.89,353.07C206.13,352.10 206.38,351.12 206.62,350.15C206.87,349.18 207.12,348.21 207.37,347.24C207.62,346.27 207.87,345.30 208.12,344.33C208.37,343.36 208.62,342.39 208.88,341.42C209.13,340.45 209.39,339.48 209.64,338.51C209.90,337.55 210.16,336.58 210.41,335.61C210.67,334.64 210.93,333.67 211.19,332.71C211.45,331.74 211.72,330.77 211.98,329.80C212.24,328.84 212.51,327.87 212.78,326.91C213.04,325.94 213.31,324.97 213.58,324.01C213.85,323.04 214.12,322.08 214.39,321.11C214.66,320.15 214.93,319.19 215.21,318.22C215.48,317.26 215.76,316.29 216.03,315.33C216.31,314.37 216.59,313.41 216.87,312.44C217.15,311.48 217.43,310.52 217.71,309.56C217.99,308.60 218.28,307.64 218.56,306.68C218.85,305.71 219.13,304.75 219.42,303.79C219.71,302.84 220.00,301.88 220.29,300.92C220.58,299.96 220.87,299.00 221.17,298.04C221.46,297.08 221.75,296.13 222.05,295.17C222.35,294.21 222.65,293.26 222.94,292.30C223.24,291.34 223.55,290.39 223.85,289.43C224.15,288.48 224.45,287.52 224.76,286.57C225.06,285.61 225.37,284.66 225.68,283.71C225.99,282.75 226.30,281.80 226.61,280.85C226.92,279.89 227.23,278.94 227.55,277.99C227.86,277.04 228.18,276.09 228.49,275.14C228.81,274.19 229.13,273.24 229.45,272.29C229.77,271.34 230.09,270.39 230.42,269.44C230.74,268.49 231.07,267.55 231.39,266.60C231.72,265.65 232.05,264.70 232.38,263.76C232.71,262.81 233.04,261.87 233.37,260.92C233.70,259.98 234.04,259.03 234.37,258.09C234.71,257.14 235.04,256.20 235.38,255.26C235.72,254.31 236.06,253.37 236.40,252.43C236.74,251.49 237.09,250.54 237.43,249.60C237.78,248.66 238.12,247.72 238.47,246.78C238.82,245.84 239.17,244.90 239.52,243.97C239.87,243.03 240.22,242.09 240.58,241.15C240.93,240.21 241.29,239.28 241.64,238.34C242.00,237.41 242.36,236.47 242.72,235.54C243.08,234.60 243.44,233.67 243.81,232.73C244.17,231.80 244.54,230.87 244.90,229.93C245.27,229.00 245.64,228.07 246.01,227.14C246.38,226.21 246.76,225.28 247.13,224.35C247.50,223.42 247.88,222.49 248.26,221.56C248.64,220.64 249.02,219.71 249.40,218.78C249.78,217.85 250.16,216.93 250.55,216.00C250.93,215.08 251.32,214.15 251.71,213.23C252.09,212.31 252.49,211.38 252.88,210.46C253.27,209.54 253.66,208.62 254.06,207.70C254.46,206.78 254.86,205.86 255.26,204.94C255.66,204.02 256.06,203.10 256.46,202.19C256.87,201.27 257.27,200.35 257.68,199.44C258.09,198.52 258.50,197.61 258.91,196.70C259.32,195.78 259.74,194.87 260.15,193.96C260.57,193.05 260.99,192.14 261.41,191.23C261.83,190.32 262.25,189.41 262.68,188.50C263.10,187.59 263.53,186.69 263.96,185.78C264.39,184.88 264.82,183.97 265.25,183.07C265.69,182.17 266.12,181.27 266.56,180.36C267.00,179.46 267.44,178.56 267.89,177.67C268.33,176.77 268.77,175.87 269.22,174.97C269.67,174.08 270.12,173.18 270.57,172.29C271.03,171.39 271.48,170.50 271.94,169.61C272.40,168.72 272.86,167.83 273.32,166.94C273.78,166.05 274.25,165.16 274.72,164.28C275.18,163.39 275.65,162.51 276.13,161.62C276.60,160.74 277.07,159.86 277.55,158.98C278.03,158.09 278.51,157.21 278.99,156.34C279.47,155.46 279.96,154.58 280.44,153.71C280.93,152.83 281.42,151.96 281.91,151.08C282.40,150.21 282.90,149.34 283.40,148.47C283.89,147.60 284.39,146.73 284.90,145.86C285.40,145.00 285.90,144.13 286.41,143.27C286.92,142.40 287.43,141.54 287.94,140.68C288.46,139.82 288.97,138.96 289.49,138.10C290.01,137.25 290.53,136.39 291.05,135.54C291.58,134.68 292.10,133.83 292.63,132.98C293.16,132.13 293.70,131.28 294.23,130.43C294.77,129.59 295.30,128.74 295.85,127.90C296.39,127.05 296.93,126.21 297.48,125.37C298.02,124.53 298.57,123.70 299.13,122.86C299.68,122.02 300.24,121.19 300.80,120.36C301.35,119.53 301.92,118.70 302.48,117.87C303.05,117.05 303.62,116.22 304.19,115.40C304.76,114.58 305.34,113.75 305.92,112.94C306.50,112.12 307.08,111.30 307.66,110.49C308.25,109.68 308.84,108.87 309.43,108.06C310.03,107.25 310.62,106.45 311.22,105.65C311.83,104.85 312.43,104.05 313.04,103.25C313.65,102.46 314.26,101.66 314.88,100.87C315.50,100.08 316.12,99.30 316.74,98.51C317.37,97.73 318.00,96.95 318.63,96.18C319.27,95.40 319.91,94.63 320.55,93.86C321.19,93.10 321.84,92.33 322.50,91.57C323.15,90.81 323.81,90.06 324.48,89.31C325.14,88.56 325.81,87.81 326.49,87.07C327.16,86.33 327.84,85.60 328.53,84.87C329.22,84.14 329.91,83.42 330.62,82.71C331.32,81.99 332.03,81.28 332.75,80.59C333.47,79.89 334.19,79.20 334.93,78.52C335.66,77.84 336.41,77.17 337.16,76.51C337.92,75.85 338.68,75.20 339.46,74.57C340.24,73.94 341.03,73.32 341.83,72.72C342.63,72.12 343.44,71.53 344.27,70.97C345.10,70.40 345.94,69.86 346.80,69.34C347.65,68.82 348.53,68.32 349.41,67.86C350.30,67.40 351.21,66.96 352.13,66.57C353.05,66.17 353.98,65.81 354.93,65.49C355.88,65.18 356.85,64.90 357.83,64.67C358.80,64.45 359.79,64.26 360.78,64.13C361.77,64.00 362.77,63.91 363.77,63.88C364.77,63.84 365.78,63.86 366.78,63.92C367.78,63.98 368.78,64.09 369.77,64.24C370.76,64.40 371.74,64.60 372.71,64.84C373.68,65.08 374.65,65.36 375.60,65.68C376.55,65.99 377.49,66.35 378.41,66.73C379.34,67.12 380.25,67.54 381.14,67.99C382.04,68.44 382.92,68.92 383.78,69.43C384.64,69.93 385.49,70.47 386.32,71.03C387.16,71.59 387.97,72.17 388.77,72.78C389.57,73.38 390.35,74.00 391.12,74.65C391.89,75.29 392.64,75.95 393.38,76.63C394.12,77.30 394.85,78.00 395.56,78.70C396.27,79.41 396.96,80.13 397.65,80.86C398.33,81.59 399.00,82.34 399.66,83.09C400.32,83.85 400.97,84.61 401.61,85.38C402.25,86.16 402.87,86.94 403.49,87.73C404.10,88.52 404.71,89.32 405.30,90.13C405.90,90.93 406.48,91.75 407.06,92.57C407.64,93.39 408.20,94.21 408.76,95.04C409.32,95.87 409.87,96.71 410.42,97.55C410.96,98.39 411.50,99.24 412.03,100.09C412.56,100.94 413.08,101.80 413.59,102.66C414.11,103.52 414.62,104.38 415.12,105.25C415.62,106.11 416.12,106.98 416.61,107.86C417.10,108.73 417.58,109.61 418.06,110.49C418.54,111.37 419.01,112.25 419.48,113.14C419.95,114.03 420.41,114.91 420.87,115.81C421.33,116.70 421.78,117.59 422.23,118.49C422.68,119.38 423.12,120.28 423.56,121.18C424.00,122.08 424.44,122.98 424.87,123.89C425.30,124.79 425.73,125.70 426.15,126.61C426.57,127.51 426.99,128.42 427.41,129.34C427.83,130.25 428.24,131.16 428.65,132.08C429.06,132.99 429.46,133.91 429.86,134.82C430.27,135.74 430.67,136.66 431.06,137.58C431.46,138.50 431.85,139.42 432.24,140.35C432.63,141.27 433.02,142.19 433.40,143.12C433.79,144.04 434.17,144.97 434.55,145.90C434.92,146.83 435.30,147.76 435.67,148.68C436.05,149.61 436.42,150.54 436.79,151.48C437.16,152.41 437.53,153.34 437.89,154.27C438.26,155.20 438.62,156.14 438.99,157.07C439.35,158.01 439.71,158.94 440.07,159.88C440.43,160.81 440.79,161.75 441.14,162.68C441.50,163.62 441.86,164.56 442.21,165.49C442.56,166.43 442.92,167.37 443.27,168.31C443.62,169.25 443.97,170.18 444.32,171.12C444.67,172.06 445.02,173.00 445.37,173.94C445.72,174.88 446.07,175.82 446.42,176.76C446.77,177.70 447.11,178.64 447.46,179.58C447.81,180.52 448.15,181.46 448.50,182.40C448.85,183.34 449.19,184.28 449.54,185.22C449.88,186.16 450.22,187.10 450.57,188.04C450.91,188.98 451.25,189.93 451.60,190.87C451.94,191.81 452.28,192.75 452.62,193.69C452.96,194.63 453.31,195.58 453.65,196.52C453.99,197.46 454.33,198.40 454.67,199.35C455.01,200.29 455.34,201.23 455.68,202.18C456.02,203.12 456.36,204.06 456.70,205.01C457.03,205.95 457.37,206.89 457.71,207.84C458.04,208.78 458.38,209.72 458.71,210.67C459.05,211.61 459.39,212.56 459.72,213.50C460.05,214.45 460.39,215.39 460.72,216.34C461.06,217.28 461.39,218.23 461.72,219.17C462.05,220.12 462.39,221.06 462.72,222.01C463.05,222.95 463.38,223.90 463.71,224.84C464.04,225.79 464.37,226.74 464.70,227.68C465.03,228.63 465.36,229.57 465.69,230.52C466.02,231.47 466.35,232.41 466.68,233.36C467.00,234.31 467.33,235.25 467.66,236.20C467.99,237.15 468.31,238.10 468.64,239.04C468.97,239.99 469.29,240.94 469.62,241.89C469.94,242.83 470.26,243.78 470.59,244.73C470.91,245.68 471.24,246.63 471.56,247.58C471.88,248.52 472.20,249.47 472.52,250.42C472.85,251.37 473.17,252.32 473.49,253.27C473.81,254.22 474.13,255.17 474.45,256.12C474.77,257.07 475.08,258.02 475.40,258.97C475.72,259.92 476.04,260.87 476.35,261.82C476.67,262.77 476.99,263.72 477.30,264.67C477.62,265.62 477.93,266.58 478.24,267.53C478.56,268.48 478.87,269.43 479.18,270.38C479.50,271.33 479.81,272.29 480.12,273.24C480.43,274.19 480.74,275.14 481.05,276.10C481.36,277.05 481.67,278.00 481.98,278.96C482.29,279.91 482.59,280.86 482.90,281.82C483.21,282.77 483.52,283.72 483.82,284.68C484.13,285.63 484.43,286.59 484.74,287.54C485.05,288.50 485.35,289.45 485.66,290.40C485.96,291.36 486.27,292.31 486.57,293.27C486.87,294.22 487.18,295.18 487.48,296.13C487.79,297.09 488.09,298.04 488.40,299.00C488.70,299.95 489.00,300.91 489.31,301.86C489.61,302.81 489.92,303.77 490.22,304.72C490.53,305.68 490.83,306.63 491.13,307.59C491.44,308.54 491.74,309.50 492.05,310.45C492.36,311.41 492.66,312.36 492.97,313.31C493.27,314.27 493.58,315.22 493.89,316.18C494.19,317.13 494.50,318.08 494.81,319.04C495.12,319.99 495.43,320.94 495.74,321.90C496.04,322.85 496.35,323.80 496.66,324.76C496.98,325.71 497.29,326.66 497.60,327.61C497.91,328.56 498.22,329.52 498.54,330.47C498.85,331.42 499.17,332.37 499.48,333.32C499.80,334.27 500.12,335.22 500.43,336.17C500.75,337.12 501.07,338.07 501.39,339.02C501.71,339.97 502.03,340.92 502.36,341.87C502.68,342.82 503.00,343.77 503.33,344.71C503.66,345.66 503.98,346.61 504.31,347.55C504.64,348.50 504.97,349.45 505.30,350.39C505.63,351.34 505.97,352.28 506.30,353.23C506.64,354.17 506.98,355.11 507.31,356.06C507.65,357.00 508.00,357.94 508.34,358.88C508.68,359.83 509.03,360.77 509.38,361.71C509.72,362.64 510.07,363.58 510.43,364.52C510.78,365.46 511.14,366.40 511.49,367.33C511.85,368.27 512.21,369.20 512.58,370.14C512.94,371.07 513.31,372.00 513.68,372.93C514.05,373.86 514.42,374.79 514.80,375.72C515.18,376.65 515.56,377.58 515.94,378.50C516.32,379.43 516.71,380.36 517.09,381.28C517.48,382.20 517.87,383.13 518.27,384.05C518.66,384.97 519.06,385.89 519.46,386.81C519.86,387.73 520.26,388.64 520.67,389.56C521.07,390.48 521.48,391.39 521.89,392.30C522.30,393.22 522.72,394.13 523.13,395.04C523.55,395.95 523.97,396.86 524.39,397.77C524.81,398.68 525.23,399.59 525.66,400.50C526.09,401.40 526.51,402.31 526.94,403.21C527.37,404.12 527.81,405.02 528.24,405.93C528.68,406.83 529.11,407.73 529.55,408.63C529.99,409.53 530.43,410.43 530.87,411.33C531.32,412.23 531.76,413.13 532.21,414.02C532.66,414.92 533.11,415.81 533.56,416.71C534.02,417.60 534.47,418.49 534.93,419.38C535.39,420.27 535.85,421.16 536.32,422.05C536.78,422.94 537.25,423.82 537.72,424.71C538.20,425.59 538.67,426.47 539.15,427.35C539.63,428.23 540.11,429.11 540.60,429.99C541.09,430.86 541.58,431.74 542.07,432.61C542.57,433.48 543.06,434.35 543.57,435.22C544.07,436.08 544.58,436.95 545.09,437.81C545.61,438.67 546.13,439.52 546.65,440.38C547.17,441.23 547.70,442.08 548.24,442.93C548.77,443.78 549.31,444.62 549.86,445.46C550.41,446.30 550.96,447.14 551.52,447.97C552.08,448.80 552.65,449.62 553.22,450.45C553.79,451.27 554.37,452.08 554.96,452.89C555.55,453.71 556.15,454.51 556.75,455.31C557.36,456.11 557.97,456.90 558.59,457.69C559.21,458.48 559.84,459.26 560.48,460.03C561.11,460.80 561.76,461.57 562.42,462.33C563.07,463.08 563.74,463.83 564.41,464.57C565.09,465.31 565.77,466.05 566.47,466.77C567.16,467.49 567.86,468.20 568.58,468.91C569.29,469.61 570.02,470.30 570.75,470.98C571.49,471.66 572.24,472.33 572.99,472.98C573.75,473.64 574.52,474.28 575.30,474.91C576.08,475.54 576.87,476.16 577.67,476.76C578.47,477.36 579.28,477.95 580.11,478.52C580.93,479.09 581.76,479.65 582.61,480.19C583.45,480.73 584.31,481.25 585.17,481.76C586.03,482.27 586.91,482.75 587.79,483.23C588.68,483.70 589.57,484.15 590.48,484.59C591.38,485.02 592.29,485.44 593.21,485.84C594.13,486.24 595.05,486.62 595.99,486.98C596.92,487.34 597.86,487.69 598.81,488.01C599.76,488.34 600.71,488.65 601.67,488.94C602.63,489.23 603.59,489.51 604.56,489.77C605.53,490.03 606.50,490.27 607.47,490.50C608.45,490.73 609.43,490.94 610.41,491.14C611.39,491.34 612.38,491.52 613.37,491.70C614.35,491.87 615.34,492.03 616.33,492.18C617.32,492.33 618.32,492.46 619.31,492.59C620.30,492.71 621.30,492.83 622.30,492.94C623.29,493.04 624.29,493.14 625.29,493.23C626.29,493.32 627.28,493.40 628.28,493.48C629.28,493.55 630.28,493.62 631.28,493.68C632.28,493.74 633.28,493.79 634.28,493.84C635.28,493.90 636.29,493.94 637.29,493.98C638.29,494.02 639.29,494.06 640.29,494.09C641.29,494.12 642.29,494.15 643.30,494.18C644.30,494.20 645.30,494.22 646.30,494.24C647.30,494.26 648.30,494.29 649.31,494.30C650.31,494.31 651.31,494.30 652.31,494.30C653.31,494.30 654.32,494.30 655.32,494.30C656.32,494.30 657.32,494.30 658.32,494.30C659.33,494.30 660.33,494.30 661.33,494.30C662.33,494.30 663.33,494.30 664.34,494.30C665.34,494.30 666.34,494.30 667.34,494.30C668.34,494.30 669.35,494.30 670.35,494.30C671.35,494.30 672.35,494.30 673.35,494.30C674.36,494.30 675.36,494.30 676.36,494.30C677.36,494.30 678.36,494.30 679.37,494.30C680.37,494.30 681.37,494.30 682.37,494.30C683.37,494.30 684.38,494.30 685.38,494.30C686.38,494.30 687.38,494.30 688.38,494.30C689.39,494.30 690.39,494.30 691.39,494.30C692.39,494.30 693.39,494.30 694.40,494.30C695.40,494.30 696.40,494.30 697.40,494.30C698.40,494.30 699.41,494.30 700.41,494.30C701.41,494.30 702.41,494.30 703.41,494.30C704.42,494.30 705.42,494.30 706.42,494.30C707.42,494.30 708.42,494.30 709.43,494.30C710.43,494.30 711.43,494.30 712.43,494.30C713.43,494.30 714.44,494.30 715.44,494.30C716.44,494.30 717.44,494.29 718.44,494.29C719.45,494.29 720.45,494.29 721.45,494.28C722.45,494.28 723.45,494.28 724.46,494.28C725.46,494.27 726.46,494.27 727.46,494.27C728.46,494.27 729.47,494.26 730.47,494.26C731.47,494.26 732.47,494.26 733.47,494.25C734.48,494.25 735.48,494.25 736.48,494.25C737.48,494.25 738.48,494.25 739.49,494.24C740.49,494.24 741.49,494.24 742.49,494.24C743.49,494.24 744.50,494.24 745.50,494.24C746.50,494.23 747.50,494.23 748.50,494.23C749.51,494.23 750.51,494.23 751.51,494.23C752.51,494.23 753.51,494.23 754.52,494.23C755.52,494.23 756.52,494.23 757.52,494.23C758.52,494.23 759.53,494.23 760.53,494.23C761.53,494.23 762.53,494.23 763.53,494.23C764.54,494.23 765.54,494.23 766.54,494.23C767.54,494.23 768.54,494.23 769.55,494.24C770.55,494.24 771.55,494.24 772.55,494.24C773.55,494.24 774.56,494.24 775.56,494.25C776.56,494.25 777.56,494.25 778.56,494.25C779.57,494.25 780.57,494.26 781.57,494.26C782.57,494.26 783.57,494.27 784.58,494.27C785.58,494.27 786.58,494.28 787.58,494.28C788.58,494.28 789.59,494.29 790.59,494.29C791.59,494.30 792.59,494.30 793.59,494.30C794.60,494.30 796.10,494.30 796.60,494.30" stroke="#ff0000" stroke-opacity="0.5"/>
<path d="M16.90,499.60 L16.90,494.30C16.91,493.80 16.92,492.29 16.93,491.29C16.95,490.29 16.97,489.28 16.99,488.28C17.02,487.28 17.04,486.27 17.07,485.27C17.10,484.27 17.14,483.27 17.17,482.26C17.21,481.26 17.25,480.26 17.29,479.26C17.33,478.25 17.37,477.25 17.42,476.25C17.46,475.25 17.51,474.25 17.56,473.24C17.60,472.24 17.66,471.24 17.71,470.24C17.76,469.24 17.81,468.23 17.87,467.23C17.93,466.23 17.98,465.23 18.04,464.23C18.10,463.23 18.16,462.23 18.23,461.22C18.29,460.22 18.35,459.22 18.42,458.22C18.49,457.22 18.55,456.22 18.62,455.22C18.69,454.22 18.76,453.22 18.83,452.22C18.90,451.21 18.97,450.21 19.05,449.21C19.12,448.21 19.20,447.21 19.27,446.21C19.35,445.21 19.43,444.21 19.51,443.21C19.58,442.21 19.66,441.21 19.75,440.21C19.83,439.21 19.91,438.21 19.99,437.21C20.08,436.21 20.16,435.21 20.25,434.21C20.33,433.21 20.42,432.21 20.51,431.22C20.59,430.22 20.68,429.22 20.77,428.22C20.86,427.22 20.95,426.22 21.05,425.22C21.14,424.22 21.23,423.22 21.32,422.22C21.42,421.23 21.51,420.23 21.61,419.23C21.70,418.23 21.80,417.23 21.90,416.23C22.00,415.23 22.09,414.24 22.19,413.24C22.29,412.24 22.39,411.24 22.49,410.24C22.60,409.24 22.70,408.25 22.80,407.25C22.90,406.25 23.01,405.25 23.11,404.26C23.22,403.26 23.32,402.26 23.43,401.26C23.53,400.26 23.64,399.27 23.75,398.27C23.86,397.27 23.96,396.28 24.07,395.28C24.18,394.28 24.29,393.28 24.40,392.29C24.52,391.29 24.63,390.29 24.74,389.30C24.85,388.30 24.96,387.30 25.08,386.31C25.19,385.31 25.31,384.31 25.42,383.32C25.54,382.32 25.65,381.32 25.77,380.33C25.89,379.33 26.01,378.33 26.12,377.34C26.24,376.34 26.36,375.34 26.48,374.35C26.60,373.35 26.72,372.36 26.84,371.36C26.96,370.37 27.08,369.37 27.21,368.37C27.33,367.38 27.45,366.38 27.58,365.39C27.70,364.39 27.83,363.40 27.95,362.40C28.08,361.41 28.20,360.41 28.33,359.41C28.46,358.42 28.58,357.42 28.71,356.43C28.84,355.43 28.97,354.44 29.10,353.44C29.23,352.45 29.36,351.46 29.49,350.46C29.62,349.47 29.75,348.47 29.88,347.48C30.01,346.48 30.14,345.49 30.28,344.49C30.41,343.50 30.55,342.51 30.68,341.51C30.81,340.52 30.95,339.52 31.09,338.53C31.22,337.54 31.36,336.54 31.50,335.55C31.63,334.55 31.77,333.56 31.91,332.57C32.05,331.57 32.19,330.58 32.33,329.59C32.47,328.59 32.61,327.60 32.75,326.61C32.89,325.61 33.03,324.62 33.18,323.63C33.32,322.63 33.46,321.64 33.61,320.65C33.75,319.66 33.89,318.66 34.04,317.67C34.19,316.68 34.33,315.69 34.48,314.69C34.62,313.70 34.77,312.71 34.92,311.72C35.07,310.72 35.22,309.73 35.37,308.74C35.52,307.75 35.67,306.76 35.82,305.76C35.97,304.77 36.12,303.78 36.27,302.79C36.43,301.80 36.58,300.81 36.73,299.81C36.89,298.82 37.04,297.83 37.20,296.84C37.35,295.85 37.51,294.86 37.67,293.87C37.82,292.88 37.98,291.89 38.14,290.90C38.30,289.91 38.46,288.92 38.62,287.93C38.78,286.93 38.94,285.94 39.10,284.95C39.26,283.96 39.43,282.97 39.59,281.98C39.75,280.99 39.92,280.01 40.08,279.02C40.25,278.03 40.41,277.04 40.58,276.05C40.75,275.06 40.91,274.07 41.08,273.08C41.25,272.09 41.42,271.10 41.59,270.11C41.76,269.13 41.93,268.14 42.10,267.15C42.28,266.16 42.45,265.17 42.62,264.18C42.80,263.20 42.97,262.21 43.15,261.22C43.33,260.23 43.50,259.25 43.68,258.26C43.86,257.27 44.04,256.28 44.22,255.30C44.40,254.31 44.58,253.32 44.76,252.34C44.94,251.35 45.13,250.36 45.31,249.38C45.50,248.39 45.68,247.41 45.87,246.42C46.05,245.43 46.24,244.45 46.43,243.46C46.62,242.48 46.81,241.49 47.00,240.51C47.19,239.52 47.39,238.54 47.58,237.56C47.77,236.57 47.97,235.59 48.17,234.60C48.36,233.62 48.56,232.64 48.76,231.65C48.96,230.67 49.16,229.69 49.36,228.70C49.57,227.72 49.77,226.74 49.97,225.76C50.18,224.78 50.39,223.79 50.59,222.81C50.80,221.83 51.01,220.85 51.22,219.87C51.44,218.89 51.65,217.91 51.86,216.93C52.08,215.95 52.30,214.97 52.51,213.99C52.73,213.01 52.95,212.03 53.17,211.05C53.40,210.08 53.62,209.10 53.85,208.12C54.07,207.14 54.30,206.17 54.53,205.19C54.76,204.21 54.99,203.24 55.23,202.26C55.46,201.29 55.70,200.31 55.94,199.34C56.18,198.36 56.42,197.39 56.67,196.42C56.91,195.44 57.16,194.47 57.41,193.50C57.66,192.53 57.91,191.56 58.17,190.59C58.42,189.62 58.68,188.65 58.94,187.68C59.20,186.71 59.47,185.74 59.73,184.78C60.00,183.81 60.27,182.84 60.55,181.88C60.82,180.92 61.10,179.95 61.39,178.99C61.67,178.03 61.95,177.06 62.25,176.10C62.54,175.14 62.83,174.19 63.13,173.23C63.43,172.27 63.74,171.32 64.05,170.36C64.36,169.41 64.67,168.45 64.99,167.50C65.31,166.55 65.64,165.61 65.97,164.66C66.31,163.71 66.65,162.77 66.99,161.83C67.34,160.89 67.70,159.95 68.06,159.01C68.42,158.08 68.79,157.15 69.17,156.22C69.55,155.29 69.94,154.36 70.34,153.45C70.75,152.53 71.16,151.61 71.58,150.70C72.01,149.79 72.44,148.89 72.90,148.00C73.35,147.10 73.82,146.21 74.31,145.34C74.80,144.46 75.31,143.60 75.84,142.75C76.37,141.90 76.93,141.06 77.52,140.25C78.11,139.44 78.72,138.64 79.38,137.88C80.04,137.13 80.73,136.39 81.49,135.74C82.24,135.09 83.05,134.45 83.92,133.97C84.78,133.49 85.74,133.06 86.70,132.86C87.66,132.66 88.72,132.62 89.69,132.76C90.66,132.90 91.64,133.26 92.54,133.70C93.43,134.13 94.26,134.73 95.04,135.36C95.82,135.98 96.53,136.70 97.22,137.43C97.90,138.16 98.53,138.95 99.14,139.74C99.75,140.54 100.32,141.37 100.87,142.20C101.43,143.04 101.95,143.90 102.45,144.76C102.96,145.63 103.45,146.51 103.92,147.39C104.39,148.28 104.84,149.18 105.28,150.08C105.72,150.98 106.15,151.88 106.57,152.80C106.98,153.71 107.39,154.63 107.78,155.55C108.18,156.47 108.56,157.40 108.94,158.33C109.32,159.26 109.69,160.19 110.05,161.13C110.41,162.06 110.77,163.00 111.12,163.94C111.46,164.88 111.80,165.82 112.14,166.77C112.48,167.71 112.81,168.66 113.13,169.61C113.46,170.56 113.78,171.51 114.09,172.46C114.41,173.42 114.72,174.37 115.02,175.33C115.33,176.28 115.63,177.24 115.93,178.20C116.22,179.15 116.52,180.11 116.81,181.07C117.10,182.03 117.38,183.00 117.67,183.96C117.95,184.92 118.23,185.88 118.51,186.85C118.78,187.81 119.06,188.78 119.33,189.74C119.60,190.71 119.87,191.68 120.13,192.64C120.40,193.61 120.66,194.58 120.92,195.55C121.18,196.52 121.44,197.49 121.70,198.46C121.95,199.43 122.20,200.40 122.46,201.37C122.71,202.34 122.96,203.31 123.20,204.28C123.45,205.26 123.69,206.23 123.94,207.20C124.18,208.18 124.42,209.15 124.66,210.12C124.90,211.10 125.14,212.07 125.37,213.05C125.61,214.02 125.84,215.00 126.07,215.97C126.31,216.95 126.54,217.93 126.77,218.90C126.99,219.88 127.22,220.86 127.45,221.83C127.67,222.81 127.90,223.79 128.12,224.77C128.35,225.75 128.57,226.72 128.79,227.70C129.01,228.68 129.23,229.66 129.45,230.64C129.66,231.62 129.88,232.60 130.10,233.58C130.31,234.56 130.53,235.54 130.74,236.52C130.95,237.50 131.17,238.48 131.38,239.46C131.59,240.44 131.80,241.42 132.01,242.40C132.22,243.38 132.42,244.37 132.63,245.35C132.84,246.33 133.04,247.31 133.25,248.29C133.45,249.27 133.66,250.26 133.86,251.24C134.06,252.22 134.27,253.20 134.47,254.19C134.67,255.17 134.87,256.15 135.07,257.14C135.27,258.12 135.47,259.10 135.66,260.09C135.86,261.07 136.06,262.05 136.26,263.04C136.45,264.02 136.65,265.00 136.84,265.99C137.04,266.97 137.23,267.96 137.42,268.94C137.62,269.93 137.81,270.91 138.00,271.89C138.19,272.88 138.39,273.86 138.58,274.85C138.77,275.83 138.96,276.82 139.15,277.80C139.34,278.79 139.52,279.77 139.71,280.76C139.90,281.75 140.09,282.73 140.28,283.72C140.46,284.70 140.65,285.69 140.83,286.67C141.02,287.66 141.21,288.65 141.39,289.63C141.58,290.62 141.76,291.60 141.94,292.59C142.13,293.58 142.31,294.56 142.49,295.55C142.68,296.54 142.86,297.52 143.04,298.51C143.22,299.49 143.40,300.48 143.58,301.47C143.76,302.46 143.94,303.44 144.12,304.43C144.30,305.42 144.48,306.40 144.66,307.39C144.84,308.38 145.02,309.36 145.20,310.35C145.38,311.34 145.55,312.33 145.73,313.31C145.91,314.30 146.09,315.29 146.26,316.28C146.44,317.26 146.61,318.25 146.79,319.24C146.97,320.23 147.14,321.21 147.32,322.20C147.49,323.19 147.67,324.18 147.84,325.17C148.02,326.15 148.19,327.14 148.36,328.13C148.54,329.12 148.71,330.11 148.88,331.09C149.06,332.08 149.23,333.07 149.40,334.06C149.58,335.05 149.75,336.03 149.92,337.02C150.09,338.01 150.26,339.00 150.43,339.99C150.61,340.98 150.78,341.96 150.95,342.95C151.12,343.94 151.29,344.93 151.46,345.92C151.63,346.91 151.80,347.90 151.97,348.89C152.14,349.87 152.31,350.86 152.48,351.85C152.65,352.84 152.82,353.83 152.99,354.82C153.16,355.81 153.33,356.80 153.49,357.78C153.66,358.77 153.83,359.76 154.00,360.75C154.17,361.74 154.34,362.73 154.50,363.72C154.67,364.71 154.84,365.70 155.01,366.69C155.18,367.67 155.34,368.66 155.51,369.65C155.68,370.64 155.84,371.63 156.01,372.62C156.18,373.61 156.35,374.60 156.51,375.59C156.68,376.58 156.85,377.57 157.01,378.56C157.18,379.55 157.34,380.53 157.51,381.52C157.68,382.51 157.84,383.50 158.01,384.49C158.17,385.48 158.34,386.47 158.51,387.46C158.67,388.45 158.84,389.44 159.00,390.43C159.17,391.42 159.33,392.41 159.50,393.40C159.67,394.39 159.83,395.38 160.00,396.36C160.16,397.35 160.33,398.34 160.49,399.33C160.66,400.32 160.82,401.31 160.99,402.30C161.15,403.29 161.32,404.28 161.48,405.27C161.65,406.26 161.81,407.25 161.98,408.24C162.14,409.23 162.31,410.22 162.47,411.21C162.64,412.20 162.80,413.19 162.97,414.18C163.13,415.17 163.30,416.16 163.46,417.14C163.63,418.13 163.79,419.12 163.96,420.11C164.12,421.10 164.29,422.09 164.45,423.08C164.62,424.07 164.78,425.06 164.95,426.05C165.11,427.04 165.28,428.03 165.44,429.02C165.61,430.01 165.77,431.00 165.94,431.99C166.10,432.98 166.27,433.97 166.43,434.96C166.60,435.95 166.76,436.94 166.93,437.92C167.09,438.91 167.26,439.90 167.42,440.89C167.59,441.88 167.75,442.87 167.92,443.86C168.09,444.85 168.25,445.84 168.42,446.83C168.58,447.82 168.75,448.81 168.92,449.80C169.08,450.79 169.25,451.78 169.41,452.77C169.58,453.76 169.75,454.74 169.91,455.73C170.08,456.72 170.25,457.71 170.41,458.70C170.58,459.69 170.75,460.68 170.91,461.67C171.08,462.66 171.25,463.65 171.42,464.64C171.58,465.63 171.75,466.61 171.92,467.60C172.09,468.59 172.25,469.58 172.42,470.57C172.59,471.56 172.76,472.55 172.93,473.54C173.10,474.53 173.27,475.52 173.43,476.50C173.60,477.49 173.77,478.48 173.94,479.47C174.11,480.46 174.28,481.45 174.45,482.44C174.62,483.43 174.79,484.41 174.96,485.40C175.13,486.39 175.30,487.38 175.47,488.37C175.64,489.36 175.81,490.35 175.99,491.33C176.16,492.32 176.41,493.81 176.50,494.30C176.58,493.81 176.81,492.32 176.96,491.33C177.12,490.34 177.27,489.35 177.43,488.36C177.59,487.37 177.74,486.38 177.90,485.40C178.06,484.41 178.21,483.42 178.37,482.43C178.53,481.44 178.69,480.45 178.85,479.46C179.01,478.47 179.17,477.48 179.33,476.50C179.50,475.51 179.66,474.52 179.82,473.53C179.98,472.54 180.15,471.55 180.31,470.57C180.47,469.58 180.64,468.59 180.80,467.60C180.97,466.62 181.14,465.63 181.30,464.64C181.47,463.65 181.64,462.66 181.81,461.68C181.97,460.69 182.14,459.70 182.31,458.72C182.48,457.73 182.65,456.74 182.82,455.76C183.00,454.77 183.17,453.78 183.34,452.80C183.51,451.81 183.69,450.82 183.86,449.84C184.03,448.85 184.21,447.86 184.38,446.88C184.56,445.89 184.74,444.91 184.91,443.92C185.09,442.93 185.27,441.95 185.45,440.96C185.63,439.98 185.81,438.99 185.99,438.01C186.17,437.02 186.35,436.04 186.53,435.05C186.71,434.07 186.89,433.08 187.08,432.10C187.26,431.11 187.44,430.13 187.63,429.14C187.81,428.16 188.00,427.18 188.19,426.19C188.37,425.21 188.56,424.22 188.75,423.24C188.94,422.26 189.13,421.27 189.32,420.29C189.51,419.31 189.70,418.32 189.89,417.34C190.08,416.36 190.27,415.37 190.47,414.39C190.66,413.41 190.85,412.43 191.05,411.44C191.24,410.46 191.44,409.48 191.64,408.50C191.83,407.51 192.03,406.53 192.23,405.55C192.43,404.57 192.63,403.59 192.83,402.61C193.03,401.63 193.23,400.64 193.43,399.66C193.64,398.68 193.84,397.70 194.04,396.72C194.25,395.74 194.45,394.76 194.66,393.78C194.86,392.80 195.07,391.82 195.28,390.84C195.49,389.86 195.70,388.88 195.91,387.90C196.12,386.92 196.33,385.94 196.54,384.96C196.75,383.99 196.96,383.01 197.18,382.03C197.39,381.05 197.60,380.07 197.82,379.09C198.04,378.12 198.25,377.14 198.47,376.16C198.69,375.18 198.91,374.21 199.13,373.23C199.35,372.25 199.57,371.27 199.79,370.30C200.01,369.32 200.23,368.34 200.46,367.37C200.68,366.39 200.91,365.42 201.13,364.44C201.36,363.46 201.59,362.49 201.81,361.51C202.04,360.54 202.27,359.56 202.50,358.59C202.73,357.61 202.96,356.64 203.20,355.67C203.43,354.69 203.66,353.72 203.90,352.74C204.13,351.77 204.37,350.80 204.60,349.82C204.84,348.85 205.08,347.88 205.32,346.91C205.56,345.93 205.80,344.96 206.04,343.99C206.28,343.02 206.53,342.04 206.77,341.07C207.01,340.10 207.26,339.13 207.50,338.16C207.75,337.19 208.00,336.22 208.25,335.25C208.50,334.28 208.75,333.31 209.00,332.34C209.25,331.37 209.50,330.40 209.75,329.43C210.01,328.46 210.26,327.49 210.52,326.53C210.77,325.56 211.03,324.59 211.29,323.62C211.55,322.65 211.81,321.69 212.07,320.72C212.33,319.75 212.59,318.79 212.86,317.82C213.12,316.85 213.39,315.89 213.65,314.92C213.92,313.96 214.19,312.99 214.46,312.03C214.73,311.06 215.00,310.10 215.27,309.13C215.54,308.17 215.81,307.21 216.09,306.24C216.36,305.28 216.64,304.32 216.91,303.36C217.19,302.39 217.47,301.43 217.75,300.47C218.03,299.51 218.31,298.55 218.59,297.59C218.88,296.62 219.16,295.66 219.45,294.70C219.73,293.74 220.02,292.79 220.31,291.83C220.60,290.87 220.89,289.91 221.18,288.95C221.47,287.99 221.76,287.03 222.06,286.08C222.35,285.12 222.65,284.16 222.95,283.21C223.24,282.25 223.54,281.29 223.84,280.34C224.14,279.38 224.45,278.43 224.75,277.47C225.05,276.52 225.36,275.57 225.67,274.61C225.97,273.66 226.28,272.71 226.59,271.75C226.90,270.80 227.21,269.85 227.53,268.90C227.84,267.95 228.16,267.00 228.47,266.05C228.79,265.10 229.11,264.15 229.43,263.20C229.75,262.25 230.07,261.30 230.39,260.35C230.72,259.40 231.04,258.46 231.37,257.51C231.70,256.56 232.02,255.62 232.35,254.67C232.68,253.73 233.02,252.78 233.35,251.84C233.69,250.89 234.02,249.95 234.36,249.01C234.70,248.06 235.04,247.12 235.38,246.18C235.72,245.24 236.06,244.30 236.41,243.36C236.75,242.42 237.10,241.48 237.45,240.54C237.80,239.60 238.15,238.66 238.50,237.73C238.85,236.79 239.21,235.85 239.56,234.92C239.92,233.98 240.28,233.04 240.64,232.11C241.00,231.17 241.36,230.24 241.73,229.31C242.09,228.37 242.46,227.44 242.82,226.51C243.19,225.58 243.56,224.65 243.93,223.72C244.30,222.79 244.68,221.86 245.05,220.93C245.43,220.00 245.81,219.07 246.19,218.15C246.57,217.22 246.95,216.29 247.33,215.37C247.71,214.44 248.10,213.52 248.49,212.60C248.87,211.67 249.26,210.75 249.65,209.83C250.04,208.91 250.44,207.98 250.83,207.06C251.23,206.14 251.62,205.22 252.02,204.31C252.42,203.39 252.82,202.47 253.23,201.55C253.63,200.63 254.03,199.72 254.44,198.80C254.85,197.89 255.26,196.97 255.67,196.06C256.08,195.15 256.49,194.23 256.90,193.32C257.32,192.41 257.73,191.50 258.15,190.59C258.57,189.68 258.99,188.77 259.41,187.86C259.84,186.95 260.26,186.05 260.69,185.14C261.11,184.23 261.54,183.33 261.97,182.42C262.40,181.52 262.83,180.61 263.26,179.71C263.69,178.81 264.13,177.91 264.57,177.00C265.00,176.10 265.44,175.20 265.88,174.30C266.32,173.40 266.76,172.50 267.21,171.61C267.65,170.71 268.10,169.81 268.54,168.91C268.99,168.02 269.44,167.12 269.89,166.23C270.34,165.33 270.79,164.44 271.24,163.55C271.70,162.65 272.15,161.76 272.61,160.87C273.07,159.98 273.52,159.09 273.98,158.20C274.44,157.31 274.90,156.42 275.37,155.53C275.83,154.64 276.29,153.76 276.76,152.87C277.23,151.98 277.69,151.10 278.16,150.21C278.63,149.33 279.10,148.44 279.57,147.56C280.04,146.67 280.52,145.79 280.99,144.91C281.46,144.03 281.94,143.15 282.42,142.26C282.89,141.38 283.37,140.50 283.85,139.63C284.33,138.75 284.82,137.87 285.30,136.99C285.79,136.12 286.27,135.24 286.76,134.37C287.25,133.49 287.74,132.62 288.23,131.75C288.73,130.88 289.22,130.00 289.72,129.14C290.22,128.27 290.72,127.40 291.22,126.53C291.72,125.67 292.23,124.80 292.74,123.94C293.25,123.08 293.76,122.22 294.27,121.36C294.79,120.50 295.31,119.64 295.83,118.79C296.35,117.93 296.88,117.08 297.41,116.23C297.94,115.38 298.47,114.53 299.01,113.69C299.55,112.85 300.09,112.00 300.64,111.16C301.19,110.33 301.74,109.49 302.30,108.66C302.86,107.83 303.42,107.00 303.99,106.17C304.56,105.35 305.13,104.53 305.71,103.71C306.29,102.90 306.88,102.09 307.48,101.28C308.07,100.47 308.67,99.67 309.28,98.88C309.89,98.08 310.50,97.29 311.13,96.51C311.75,95.72 312.38,94.95 313.02,94.17C313.66,93.40 314.30,92.64 314.96,91.88C315.61,91.12 316.28,90.37 316.95,89.63C317.62,88.89 318.30,88.15 318.99,87.42C319.68,86.70 320.38,85.98 321.09,85.27C321.80,84.57 322.52,83.87 323.25,83.18C323.98,82.50 324.72,81.82 325.47,81.16C326.22,80.50 326.98,79.84 327.75,79.21C328.52,78.57 329.31,77.95 330.10,77.34C330.90,76.73 331.71,76.14 332.53,75.56C333.35,74.99 334.18,74.43 335.03,73.89C335.87,73.36 336.73,72.84 337.60,72.34C338.47,71.85 339.35,71.37 340.25,70.92C341.14,70.47 342.05,70.05 342.97,69.65C343.89,69.25 344.82,68.88 345.76,68.55C346.70,68.21 347.66,67.90 348.62,67.62C349.58,67.35 350.56,67.11 351.54,66.90C352.52,66.70 353.51,66.54 354.50,66.41C355.49,66.29 356.50,66.21 357.49,66.17C358.49,66.14 359.50,66.14 360.50,66.20C361.50,66.25 362.50,66.35 363.49,66.49C364.48,66.63 365.46,66.82 366.44,67.06C367.41,67.29 368.38,67.57 369.33,67.88C370.28,68.20 371.21,68.55 372.13,68.95C373.05,69.34 373.96,69.77 374.85,70.23C375.74,70.69 376.61,71.19 377.47,71.71C378.32,72.23 379.16,72.78 379.98,73.35C380.80,73.92 381.61,74.52 382.39,75.14C383.18,75.76 383.95,76.40 384.71,77.06C385.46,77.71 386.20,78.39 386.93,79.08C387.66,79.77 388.37,80.47 389.07,81.19C389.76,81.91 390.45,82.64 391.12,83.38C391.79,84.13 392.45,84.88 393.10,85.64C393.75,86.41 394.38,87.18 395.01,87.97C395.63,88.75 396.25,89.54 396.85,90.34C397.45,91.14 398.05,91.94 398.63,92.76C399.22,93.57 399.79,94.39 400.36,95.22C400.92,96.04 401.48,96.88 402.03,97.71C402.58,98.55 403.12,99.39 403.65,100.24C404.19,101.09 404.71,101.94 405.23,102.80C405.75,103.65 406.26,104.52 406.77,105.38C407.27,106.25 407.77,107.11 408.26,107.99C408.76,108.86 409.24,109.73 409.72,110.61C410.20,111.49 410.68,112.37 411.15,113.26C411.62,114.14 412.08,115.03 412.54,115.92C413.00,116.81 413.45,117.70 413.90,118.60C414.35,119.49 414.79,120.39 415.23,121.29C415.67,122.19 416.11,123.09 416.54,124.00C416.97,124.90 417.40,125.81 417.82,126.71C418.25,127.62 418.67,128.53 419.08,129.44C419.50,130.35 419.91,131.27 420.32,132.18C420.73,133.10 421.13,134.01 421.54,134.93C421.94,135.85 422.34,136.76 422.73,137.68C423.13,138.60 423.52,139.53 423.91,140.45C424.30,141.37 424.69,142.29 425.08,143.22C425.46,144.14 425.85,145.07 426.23,145.99C426.61,146.92 426.98,147.85 427.36,148.78C427.74,149.70 428.11,150.63 428.48,151.56C428.85,152.49 429.22,153.42 429.59,154.36C429.96,155.29 430.32,156.22 430.69,157.15C431.05,158.09 431.42,159.02 431.78,159.95C432.14,160.89 432.49,161.82 432.85,162.76C433.21,163.70 433.56,164.63 433.92,165.57C434.27,166.51 434.63,167.44 434.98,168.38C435.33,169.32 435.68,170.26 436.03,171.20C436.38,172.13 436.72,173.07 437.07,174.01C437.42,174.95 437.76,175.89 438.11,176.83C438.45,177.77 438.79,178.72 439.13,179.66C439.48,180.60 439.82,181.54 440.16,182.48C440.50,183.43 440.83,184.37 441.17,185.31C441.51,186.25 441.85,187.20 442.18,188.14C442.52,189.08 442.85,190.03 443.18,190.97C443.52,191.92 443.85,192.86 444.18,193.81C444.52,194.75 444.85,195.70 445.18,196.64C445.51,197.59 445.84,198.53 446.17,199.48C446.49,200.43 446.82,201.37 447.15,202.32C447.48,203.27 447.80,204.21 448.13,205.16C448.45,206.11 448.78,207.05 449.10,208.00C449.43,208.95 449.75,209.90 450.07,210.84C450.40,211.79 450.72,212.74 451.04,213.69C451.36,214.64 451.68,215.59 452.01,216.54C452.33,217.48 452.65,218.43 452.97,219.38C453.29,220.33 453.60,221.28 453.92,222.23C454.24,223.18 454.56,224.13 454.88,225.08C455.19,226.03 455.51,226.98 455.83,227.93C456.15,228.88 456.46,229.83 456.78,230.78C457.09,231.73 457.41,232.68 457.72,233.63C458.04,234.58 458.35,235.53 458.67,236.48C458.98,237.44 459.30,238.39 459.61,239.34C459.92,240.29 460.24,241.24 460.55,242.19C460.86,243.14 461.18,244.09 461.49,245.05C461.80,246.00 462.11,246.95 462.43,247.90C462.74,248.85 463.05,249.80 463.36,250.76C463.67,251.71 463.99,252.66 464.30,253.61C464.61,254.56 464.92,255.52 465.23,256.47C465.54,257.42 465.85,258.37 466.17,259.32C466.48,260.28 466.79,261.23 467.10,262.18C467.41,263.13 467.72,264.08 468.03,265.04C468.34,265.99 468.65,266.94 468.96,267.89C469.27,268.84 469.58,269.80 469.89,270.75C470.20,271.70 470.51,272.65 470.83,273.61C471.14,274.56 471.45,275.51 471.76,276.46C472.07,277.41 472.38,278.37 472.69,279.32C473.00,280.27 473.31,281.22 473.62,282.17C473.94,283.13 474.25,284.08 474.56,285.03C474.87,285.98 475.18,286.93 475.49,287.89C475.80,288.84 476.12,289.79 476.43,290.74C476.74,291.69 477.05,292.64 477.37,293.59C477.68,294.55 477.99,295.50 478.31,296.45C478.62,297.40 478.93,298.35 479.25,299.30C479.56,300.25 479.87,301.20 480.19,302.16C480.50,303.11 480.82,304.06 481.13,305.01C481.45,305.96 481.77,306.91 482.08,307.86C482.40,308.81 482.71,309.76 483.03,310.71C483.35,311.66 483.66,312.61 483.98,313.56C484.30,314.51 484.62,315.46 484.94,316.41C485.26,317.36 485.58,318.31 485.90,319.26C486.22,320.21 486.54,321.15 486.86,322.10C487.18,323.05 487.50,324.00 487.82,324.95C488.14,325.90 488.47,326.85 488.79,327.79C489.11,328.74 489.44,329.69 489.76,330.64C490.09,331.58 490.41,332.53 490.74,333.48C491.07,334.42 491.39,335.37 491.72,336.32C492.05,337.26 492.38,338.21 492.71,339.16C493.04,340.10 493.37,341.05 493.70,341.99C494.03,342.94 494.36,343.88 494.69,344.83C495.03,345.77 495.36,346.72 495.70,347.66C496.03,348.60 496.37,349.55 496.71,350.49C497.04,351.43 497.38,352.38 497.72,353.32C498.06,354.26 498.40,355.20 498.74,356.14C499.08,357.08 499.43,358.03 499.77,358.97C500.12,359.91 500.46,360.85 500.81,361.79C501.16,362.73 501.50,363.66 501.85,364.60C502.20,365.54 502.56,366.48 502.91,367.42C503.26,368.35 503.61,369.29 503.97,370.23C504.33,371.16 504.68,372.10 505.04,373.03C505.40,373.97 505.76,374.90 506.12,375.84C506.49,376.77 506.85,377.70 507.22,378.64C507.58,379.57 507.95,380.50 508.32,381.43C508.69,382.36 509.06,383.29 509.44,384.22C509.81,385.15 510.19,386.08 510.56,387.01C510.94,387.93 511.32,388.86 511.71,389.78C512.09,390.71 512.47,391.64 512.86,392.56C513.25,393.48 513.64,394.41 514.03,395.33C514.42,396.25 514.82,397.17 515.21,398.09C515.61,399.01 516.01,399.93 516.41,400.84C516.82,401.76 517.22,402.68 517.63,403.59C518.04,404.50 518.45,405.42 518.87,406.33C519.28,407.24 519.70,408.15 520.12,409.06C520.54,409.97 520.97,410.88 521.39,411.78C521.82,412.69 522.25,413.59 522.69,414.49C523.12,415.39 523.56,416.29 524.01,417.19C524.45,418.09 524.90,418.99 525.35,419.88C525.80,420.77 526.26,421.67 526.72,422.56C527.18,423.45 527.64,424.33 528.11,425.22C528.58,426.10 529.05,426.99 529.53,427.87C530.01,428.75 530.49,429.62 530.98,430.50C531.47,431.37 531.96,432.24 532.46,433.11C532.96,433.98 533.46,434.85 533.97,435.71C534.48,436.57 535.00,437.43 535.52,438.29C536.04,439.14 536.57,439.99 537.10,440.84C537.63,441.69 538.17,442.53 538.72,443.37C539.26,444.21 539.81,445.05 540.37,445.88C540.93,446.71 541.50,447.54 542.07,448.36C542.64,449.18 543.22,450.00 543.81,450.81C544.40,451.62 544.99,452.43 545.59,453.23C546.20,454.03 546.81,454.82 547.42,455.61C548.04,456.40 548.67,457.18 549.30,457.95C549.94,458.73 550.58,459.49 551.23,460.25C551.89,461.01 552.55,461.77 553.22,462.51C553.89,463.25 554.57,463.99 555.26,464.72C555.95,465.44 556.65,466.16 557.35,466.87C558.06,467.58 558.78,468.28 559.51,468.96C560.24,469.65 560.98,470.33 561.72,470.99C562.47,471.66 563.23,472.31 564.00,472.95C564.77,473.60 565.55,474.22 566.34,474.84C567.13,475.46 567.93,476.06 568.74,476.65C569.55,477.24 570.37,477.81 571.20,478.37C572.03,478.93 572.87,479.47 573.72,480.00C574.57,480.53 575.43,481.04 576.30,481.54C577.17,482.04 578.05,482.52 578.94,482.98C579.83,483.45 580.72,483.90 581.63,484.33C582.53,484.76 583.44,485.18 584.36,485.57C585.28,485.97 586.21,486.35 587.14,486.72C588.07,487.08 589.01,487.43 589.96,487.76C590.90,488.09 591.85,488.41 592.81,488.71C593.76,489.01 594.72,489.29 595.69,489.56C596.65,489.83 597.62,490.08 598.59,490.32C599.57,490.56 600.54,490.79 601.52,491.00C602.50,491.21 603.48,491.41 604.47,491.60C605.45,491.78 606.44,491.96 607.43,492.12C608.41,492.28 609.40,492.43 610.40,492.57C611.39,492.71 612.38,492.84 613.38,492.96C614.37,493.08 615.36,493.20 616.36,493.30C617.36,493.40 618.35,493.50 619.35,493.59C620.35,493.67 621.35,493.75 622.35,493.83C623.35,493.90 624.34,493.97 625.34,494.03C626.34,494.09 627.34,494.16 628.34,494.20C629.34,494.25 630.35,494.28 631.35,494.30C632.35,494.32 633.35,494.30 634.35,494.30C635.35,494.30 636.35,494.30 637.36,494.30C638.36,494.30 639.36,494.30 640.36,494.30C641.36,494.30 642.36,494.30 643.37,494.30C644.37,494.30 645.37,494.30 646.37,494.30C647.37,494.30 648.37,494.30 649.37,494.30C650.38,494.30 651.38,494.30 652.38,494.30C653.38,494.30 654.38,494.30 655.38,494.30C656.39,494.30 657.39,494.30 658.39,494.30C659.39,494.30 660.39,494.30 661.39,494.30C662.39,494.30 663.40,494.30 664.40,494.30C665.40,494.30 666.40,494.30 667.40,494.30C668.40,494.30 669.41,494.30 670.41,494.30C671.41,494.30 672.41,494.30 673.41,494.30C674.41,494.30 675.41,494.30 676.42,494.30C677.42,494.30 678.42,494.30 679.42,494.30C680.42,494.30 681.42,494.30 682.43,494.30C683.43,494.30 684.43,494.30 685.43,494.30C686.43,494.30 687.43,494.30 688.44,494.30C689.44,494.30 690.44,494.30 691.44,494.30C692.44,494.30 693.44,494.30 694.44,494.30C695.45,494.30 696.45,494.30 697.45,494.30C698.45,494.30 699.45,494.30 700.45,494.30C701.46,494.30 702.46,494.30 703.46,494.30C704.46,494.30 705.46,494.30 706.46,494.30C707.46,494.30 708.47,494.30 709.47,494.30C710.47,494.30 711.47,494.28 712.47,494.27C713.47,494.26 714.48,494.25 715.48,494.24C716.48,494.23 717.48,494.22 718.48,494.21C719.48,494.20 720.48,494.19 721.49,494.18C722.49,494.17 723.49,494.16 724.49,494.15C725.49,494.14 726.49,494.14 727.49,494.13C728.50,494.12 729.50,494.11 730.50,494.10C731.50,494.10 732.50,494.09 733.50,494.08C734.51,494.07 735.51,494.07 736.51,494.06C737.51,494.06 738.51,494.05 739.51,494.04C740.51,494.04 741.52,494.03 742.52,494.03C743.52,494.03 744.52,494.02 745.52,494.02C746.52,494.01 747.53,494.01 748.53,494.01C749.53,494.01 750.53,494.00 751.53,494.00C752.53,494.00 753.53,494.00 754.54,494.00C755.54,494.00 756.54,494.00 757.54,494.00C758.54,494.00 759.54,494.00 760.55,494.01C761.55,494.01 762.55,494.01 763.55,494.01C764.55,494.02 765.55,494.02 766.56,494.03C767.56,494.03 768.56,494.04 769.56,494.04C770.56,494.05 771.56,494.06 772.56,494.07C773.57,494.07 774.57,494.08 775.57,494.09C776.57,494.10 777.57,494.11 778.57,494.12C779.57,494.13 780.58,494.14 781.58,494.16C782.58,494.17 783.58,494.18 784.58,494.20C785.58,494.21 786.59,494.23 787.59,494.24C788.59,494.26 789.59,494.28 790.59,494.29C791.59,494.30 792.59,494.30 793.60,494.30C794.60,494.30 796.10,494.30 796.60,494.30" stroke="#ff0000" stroke-dasharray="4.2 3.5"/>
<path d="M16.90,499.60 L16.90,494.30C16.90,493.80 16.91,492.28 16.91,491.27C16.92,490.27 16.92,489.27 16.93,488.26C16.93,487.26 16.93,486.25 16.94,485.25C16.95,484.25 16.96,483.24 16.97,482.24C16.98,481.23 16.99,480.23 17.00,479.23C17.02,478.22 17.03,477.22 17.05,476.21C17.07,475.21 17.08,474.21 17.10,473.20C17.12,472.20 17.14,471.19 17.16,470.19C17.18,469.19 17.21,468.18 17.23,467.18C17.25,466.17 17.28,465.17 17.30,464.17C17.33,463.16 17.36,462.16 17.39,461.16C17.42,460.15 17.45,459.15 17.48,458.15C17.51,457.14 17.54,456.14 17.57,455.13C17.61,454.13 17.64,453.13 17.68,452.12C17.71,451.12 17.75,450.12 17.79,449.11C17.83,448.11 17.87,447.11 17.91,446.10C17.95,445.10 17.99,444.10 18.03,443.09C18.08,442.09 18.12,441.09 18.17,440.09C18.21,439.08 18.26,438.08 18.31,437.08C18.35,436.07 18.40,435.07 18.45,434.07C18.50,433.06 18.55,432.06 18.60,431.06C18.66,430.06 18.71,429.05 18.76,428.05C18.82,427.05 18.87,426.05 18.93,425.04C18.99,424.04 19.04,423.04 19.10,422.04C19.16,421.03 19.22,420.03 19.28,419.03C19.34,418.03 19.40,417.03 19.46,416.02C19.53,415.02 19.59,414.02 19.66,413.02C19.72,412.01 19.79,411.01 19.85,410.01C19.92,409.01 19.99,408.01 20.06,407.01C20.12,406.00 20.19,405.00 20.27,404.00C20.34,403.00 20.41,402.00 20.48,401.00C20.55,399.99 20.63,398.99 20.70,397.99C20.78,396.99 20.85,395.99 20.93,394.99C21.01,393.99 21.08,392.99 21.16,391.99C21.24,390.98 21.32,389.98 21.40,388.98C21.48,387.98 21.56,386.98 21.64,385.98C21.73,384.98 21.81,383.98 21.89,382.98C21.98,381.98 22.06,380.98 22.15,379.98C22.24,378.98 22.32,377.98 22.41,376.98C22.50,375.98 22.59,374.98 22.68,373.98C22.77,372.98 22.86,371.98 22.95,370.98C23.04,369.98 23.14,368.98 23.23,367.98C23.32,366.98 23.42,365.98 23.51,364.98C23.61,363.98 23.71,362.98 23.80,361.98C23.90,360.98 24.00,359.98 24.10,358.98C24.20,357.98 24.30,356.98 24.40,355.98C24.50,354.99 24.60,353.99 24.71,352.99C24.81,351.99 24.91,350.99 25.02,349.99C25.12,348.99 25.23,348.00 25.34,347.00C25.44,346.00 25.55,345.00 25.66,344.00C25.77,343.00 25.88,342.01 25.99,341.01C26.10,340.01 26.21,339.01 26.32,338.01C26.44,337.02 26.55,336.02 26.67,335.02C26.78,334.02 26.90,333.03 27.01,332.03C27.13,331.03 27.25,330.03 27.37,329.04C27.49,328.04 27.61,327.04 27.73,326.05C27.85,325.05 27.97,324.05 28.09,323.06C28.22,322.06 28.34,321.06 28.46,320.07C28.59,319.07 28.72,318.08 28.84,317.08C28.97,316.08 29.10,315.09 29.23,314.09C29.36,313.10 29.49,312.10 29.62,311.11C29.75,310.11 29.89,309.12 30.02,308.12C30.16,307.13 30.29,306.13 30.43,305.14C30.57,304.14 30.70,303.15 30.84,302.15C30.98,301.16 31.12,300.16 31.27,299.17C31.41,298.18 31.55,297.18 31.70,296.19C31.84,295.19 31.99,294.20 32.13,293.21C32.28,292.21 32.43,291.22 32.58,290.23C32.73,289.24 32.88,288.24 33.03,287.25C33.19,286.26 33.34,285.27 33.50,284.28C33.65,283.28 33.81,282.29 33.97,281.30C34.13,280.31 34.29,279.32 34.45,278.33C34.62,277.34 34.78,276.35 34.95,275.36C35.11,274.37 35.28,273.38 35.45,272.39C35.62,271.40 35.79,270.41 35.96,269.42C36.14,268.43 36.31,267.44 36.49,266.45C36.66,265.46 36.84,264.47 37.02,263.49C37.21,262.50 37.39,261.51 37.57,260.53C37.76,259.54 37.95,258.55 38.14,257.57C38.33,256.58 38.52,255.60 38.71,254.61C38.91,253.63 39.11,252.64 39.31,251.66C39.51,250.67 39.71,249.69 39.91,248.71C40.12,247.72 40.33,246.74 40.54,245.76C40.75,244.78 40.96,243.80 41.18,242.82C41.40,241.84 41.62,240.86 41.84,239.88C42.06,238.90 42.29,237.92 42.52,236.94C42.75,235.97 42.99,234.99 43.22,234.01C43.46,233.04 43.70,232.06 43.95,231.09C44.20,230.12 44.45,229.15 44.70,228.17C44.96,227.20 45.22,226.23 45.48,225.26C45.75,224.30 46.02,223.33 46.29,222.36C46.57,221.40 46.85,220.43 47.13,219.47C47.42,218.51 47.71,217.55 48.01,216.59C48.31,215.63 48.62,214.68 48.93,213.72C49.25,212.77 49.57,211.82 49.90,210.87C50.23,209.92 50.56,208.97 50.91,208.03C51.26,207.09 51.62,206.15 51.99,205.22C52.36,204.28 52.73,203.35 53.13,202.43C53.52,201.51 53.92,200.59 54.34,199.67C54.76,198.76 55.20,197.86 55.65,196.96C56.10,196.07 56.57,195.18 57.06,194.30C57.56,193.43 58.07,192.56 58.61,191.71C59.15,190.87 59.71,190.03 60.31,189.23C60.90,188.42 61.53,187.63 62.20,186.89C62.87,186.14 63.57,185.41 64.33,184.76C65.09,184.11 65.89,183.48 66.75,182.97C67.60,182.45 68.52,181.99 69.46,181.68C70.41,181.37 71.42,181.16 72.41,181.10C73.40,181.04 74.43,181.12 75.41,181.31C76.38,181.49 77.35,181.82 78.28,182.20C79.20,182.59 80.09,183.08 80.94,183.61C81.79,184.14 82.60,184.74 83.39,185.36C84.17,185.98 84.92,186.66 85.65,187.35C86.37,188.04 87.07,188.77 87.75,189.51C88.43,190.24 89.08,191.01 89.72,191.78C90.36,192.56 90.97,193.35 91.57,194.16C92.18,194.96 92.76,195.78 93.33,196.60C93.90,197.43 94.46,198.27 95.00,199.11C95.55,199.95 96.08,200.80 96.60,201.66C97.12,202.52 97.63,203.38 98.14,204.25C98.64,205.12 99.13,206.00 99.61,206.88C100.09,207.76 100.56,208.65 101.03,209.54C101.49,210.43 101.95,211.32 102.40,212.22C102.85,213.12 103.29,214.02 103.73,214.92C104.17,215.83 104.59,216.74 105.02,217.65C105.44,218.56 105.86,219.47 106.27,220.39C106.68,221.30 107.08,222.22 107.48,223.14C107.88,224.06 108.27,224.99 108.66,225.91C109.05,226.84 109.44,227.77 109.82,228.70C110.19,229.63 110.57,230.56 110.94,231.49C111.31,232.43 111.67,233.36 112.04,234.30C112.40,235.23 112.75,236.17 113.11,237.11C113.46,238.05 113.81,238.99 114.15,239.94C114.50,240.88 114.84,241.82 115.18,242.77C115.52,243.71 115.85,244.66 116.18,245.61C116.52,246.56 116.84,247.51 117.17,248.46C117.49,249.41 117.81,250.36 118.13,251.31C118.45,252.26 118.77,253.21 119.08,254.17C119.39,255.12 119.70,256.08 120.01,257.03C120.32,257.99 120.62,258.95 120.92,259.90C121.22,260.86 121.52,261.82 121.82,262.78C122.12,263.74 122.41,264.70 122.70,265.66C122.99,266.62 123.28,267.58 123.57,268.54C123.86,269.51 124.14,270.47 124.42,271.43C124.71,272.40 124.99,273.36 125.27,274.33C125.54,275.29 125.82,276.26 126.10,277.22C126.37,278.19 126.64,279.15 126.91,280.12C127.18,281.09 127.45,282.05 127.72,283.02C127.99,283.99 128.25,284.96 128.51,285.93C128.78,286.90 129.04,287.87 129.30,288.84C129.56,289.81 129.82,290.78 130.07,291.75C130.33,292.72 130.59,293.69 130.84,294.66C131.09,295.63 131.34,296.60 131.60,297.58C131.85,298.55 132.10,299.52 132.34,300.49C132.59,301.47 132.84,302.44 133.08,303.41C133.33,304.39 133.57,305.36 133.81,306.34C134.06,307.31 134.30,308.29 134.54,309.26C134.78,310.24 135.02,311.21 135.25,312.19C135.49,313.16 135.73,314.14 135.96,315.11C136.20,316.09 136.43,317.07 136.67,318.04C136.90,319.02 137.13,320.00 137.36,320.97C137.59,321.95 137.82,322.93 138.05,323.91C138.28,324.88 138.51,325.86 138.74,326.84C138.96,327.82 139.19,328.80 139.42,329.77C139.64,330.75 139.87,331.73 140.09,332.71C140.31,333.69 140.54,334.67 140.76,335.65C140.98,336.63 141.20,337.60 141.42,338.58C141.64,339.56 141.86,340.54 142.08,341.52C142.30,342.50 142.52,343.48 142.74,344.46C142.96,345.44 143.17,346.42 143.39,347.40C143.61,348.38 143.82,349.37 144.04,350.35C144.25,351.33 144.47,352.31 144.68,353.29C144.90,354.27 145.11,355.25 145.32,356.23C145.54,357.21 145.75,358.19 145.96,359.18C146.17,360.16 146.38,361.14 146.60,362.12C146.81,363.10 147.02,364.08 147.23,365.07C147.44,366.05 147.65,367.03 147.86,368.01C148.07,368.99 148.28,369.98 148.49,370.96C148.69,371.94 148.90,372.92 149.11,373.90C149.32,374.89 149.53,375.87 149.73,376.85C149.94,377.83 150.15,378.82 150.36,379.80C150.56,380.78 150.77,381.76 150.98,382.75C151.18,383.73 151.39,384.71 151.60,385.69C151.80,386.68 152.01,387.66 152.22,388.64C152.42,389.62 152.63,390.61 152.83,391.59C153.04,392.57 153.25,393.56 153.45,394.54C153.66,395.52 153.86,396.50 154.07,397.49C154.27,398.47 154.48,399.45 154.69,400.43C154.89,401.42 155.10,402.40 155.30,403.38C155.51,404.37 155.71,405.35 155.92,406.33C156.13,407.31 156.33,408.30 156.54,409.28C156.75,410.26 156.95,411.24 157.16,412.23C157.37,413.21 157.57,414.19 157.78,415.17C157.99,416.16 158.19,417.14 158.40,418.12C158.61,419.10 158.82,420.09 159.03,421.07C159.23,422.05 159.44,423.03 159.65,424.02C159.86,425.00 160.07,425.98 160.28,426.96C160.49,427.94 160.70,428.92 160.91,429.91C161.12,430.89 161.33,431.87 161.54,432.85C161.76,433.83 161.97,434.81 162.18,435.80C162.39,436.78 162.61,437.76 162.82,438.74C163.04,439.72 163.25,440.70 163.47,441.68C163.68,442.66 163.90,443.64 164.12,444.62C164.34,445.60 164.55,446.58 164.77,447.56C164.99,448.54 165.21,449.52 165.43,450.50C165.65,451.48 165.88,452.46 166.10,453.44C166.32,454.42 166.55,455.40 166.77,456.37C167.00,457.35 167.22,458.33 167.45,459.31C167.68,460.29 167.91,461.26 168.14,462.24C168.37,463.22 168.60,464.20 168.84,465.17C169.07,466.15 169.31,467.13 169.54,468.10C169.78,469.08 170.02,470.05 170.26,471.03C170.50,472.00 170.74,472.98 170.99,473.95C171.23,474.92 171.48,475.90 171.73,476.87C171.97,477.84 172.22,478.81 172.48,479.79C172.73,480.76 172.99,481.73 173.25,482.70C173.50,483.67 173.77,484.64 174.03,485.61C174.29,486.58 174.56,487.54 174.83,488.51C175.10,489.48 175.38,490.44 175.66,491.41C175.93,492.37 176.36,493.82 176.50,494.30C176.61,493.81 176.95,492.35 177.18,491.38C177.41,490.40 177.64,489.43 177.87,488.46C178.10,487.48 178.33,486.51 178.56,485.54C178.79,484.56 179.02,483.59 179.25,482.62C179.48,481.64 179.71,480.67 179.94,479.70C180.18,478.72 180.41,477.75 180.65,476.78C180.88,475.81 181.11,474.83 181.35,473.86C181.59,472.89 181.82,471.92 182.06,470.95C182.30,469.97 182.53,469.00 182.77,468.03C183.01,467.06 183.25,466.09 183.49,465.12C183.73,464.15 183.97,463.18 184.21,462.21C184.46,461.23 184.70,460.26 184.94,459.29C185.19,458.32 185.43,457.35 185.68,456.38C185.92,455.42 186.17,454.45 186.42,453.48C186.66,452.51 186.91,451.54 187.16,450.57C187.41,449.60 187.66,448.63 187.91,447.66C188.16,446.70 188.41,445.73 188.67,444.76C188.92,443.79 189.17,442.82 189.43,441.86C189.68,440.89 189.94,439.92 190.20,438.96C190.45,437.99 190.71,437.02 190.97,436.06C191.23,435.09 191.49,434.13 191.75,433.16C192.01,432.19 192.28,431.23 192.54,430.26C192.80,429.30 193.07,428.34 193.33,427.37C193.60,426.41 193.87,425.44 194.14,424.48C194.41,423.52 194.68,422.55 194.95,421.59C195.22,420.63 195.49,419.66 195.76,418.70C196.04,417.74 196.31,416.78 196.59,415.82C196.87,414.86 197.14,413.90 197.42,412.94C197.70,411.97 197.98,411.01 198.27,410.05C198.55,409.10 198.83,408.14 199.12,407.18C199.40,406.22 199.69,405.26 199.97,404.30C200.26,403.34 200.55,402.39 200.84,401.43C201.13,400.47 201.43,399.52 201.72,398.56C202.01,397.60 202.31,396.65 202.61,395.69C202.90,394.74 203.20,393.78 203.50,392.83C203.80,391.88 204.11,390.92 204.41,389.97C204.71,389.02 205.02,388.06 205.33,387.11C205.63,386.16 205.94,385.21 206.26,384.26C206.57,383.31 206.88,382.36 207.19,381.41C207.51,380.46 207.83,379.51 208.14,378.56C208.46,377.61 208.78,376.67 209.10,375.72C209.43,374.77 209.75,373.83 210.08,372.88C210.40,371.93 210.73,370.99 211.06,370.05C211.39,369.10 211.73,368.16 212.06,367.22C212.39,366.27 212.73,365.33 213.07,364.39C213.41,363.45 213.75,362.51 214.09,361.57C214.44,360.63 214.78,359.69 215.13,358.75C215.48,357.81 215.83,356.88 216.18,355.94C216.53,355.01 216.89,354.07 217.24,353.14C217.60,352.20 217.96,351.27 218.32,350.34C218.68,349.40 219.05,348.47 219.42,347.54C219.78,346.61 220.15,345.68 220.52,344.75C220.90,343.82 221.27,342.90 221.65,341.97C222.03,341.04 222.41,340.12 222.79,339.19C223.17,338.27 223.56,337.35 223.94,336.42C224.33,335.50 224.72,334.58 225.12,333.66C225.51,332.74 225.91,331.82 226.31,330.91C226.70,329.99 227.11,329.07 227.51,328.16C227.92,327.25 228.33,326.33 228.74,325.42C229.15,324.51 229.56,323.60 229.98,322.69C230.40,321.78 230.82,320.87 231.24,319.97C231.66,319.06 232.09,318.15 232.52,317.25C232.95,316.35 233.38,315.45 233.82,314.55C234.25,313.65 234.69,312.75 235.14,311.85C235.58,310.95 236.02,310.06 236.47,309.16C236.92,308.27 237.38,307.38 237.83,306.49C238.29,305.60 238.75,304.71 239.21,303.82C239.68,302.94 240.14,302.05 240.61,301.17C241.08,300.29 241.56,299.41 242.03,298.53C242.51,297.65 242.99,296.77 243.48,295.90C243.96,295.02 244.45,294.15 244.94,293.28C245.43,292.41 245.93,291.54 246.43,290.67C246.93,289.81 247.43,288.94 247.94,288.08C248.45,287.22 248.96,286.36 249.47,285.50C249.99,284.64 250.51,283.79 251.03,282.93C251.56,282.08 252.08,281.23 252.61,280.38C253.14,279.54 253.68,278.69 254.22,277.85C254.76,277.01 255.30,276.17 255.85,275.33C256.39,274.49 256.94,273.66 257.50,272.82C258.05,271.99 258.61,271.16 259.18,270.34C259.74,269.51 260.31,268.69 260.88,267.86C261.45,267.04 262.03,266.23 262.61,265.41C263.19,264.60 263.77,263.78 264.36,262.98C264.95,262.17 265.54,261.36 266.14,260.56C266.74,259.76 267.34,258.96 267.94,258.16C268.55,257.37 269.16,256.57 269.77,255.78C270.39,254.99 271.01,254.21 271.63,253.43C272.25,252.64 272.88,251.86 273.51,251.09C274.14,250.31 274.78,249.54 275.42,248.77C276.06,248.00 276.71,247.24 277.36,246.48C278.01,245.72 278.66,244.96 279.32,244.21C279.98,243.45 280.64,242.71 281.30,241.96C281.97,241.21 282.64,240.47 283.32,239.74C283.99,239.00 284.68,238.27 285.36,237.54C286.05,236.81 286.73,236.08 287.43,235.36C288.12,234.64 288.82,233.92 289.52,233.21C290.23,232.50 290.93,231.79 291.65,231.09C292.36,230.39 293.07,229.69 293.79,229.00C294.52,228.30 295.24,227.61 295.97,226.93C296.70,226.25 297.43,225.57 298.17,224.89C298.91,224.22 299.66,223.55 300.41,222.89C301.15,222.22 301.91,221.57 302.66,220.91C303.42,220.26 304.18,219.61 304.95,218.97C305.72,218.33 306.49,217.69 307.26,217.06C308.04,216.43 308.82,215.80 309.61,215.18C310.39,214.56 311.18,213.95 311.98,213.34C312.77,212.73 313.57,212.13 314.37,211.54C315.18,210.94 315.99,210.35 316.80,209.77C317.61,209.19 318.43,208.61 319.25,208.05C320.08,207.48 320.91,206.91 321.74,206.36C322.57,205.80 323.41,205.26 324.25,204.72C325.09,204.18 325.94,203.64 326.79,203.12C327.64,202.59 328.49,202.07 329.35,201.56C330.21,201.05 331.08,200.55 331.95,200.05C332.82,199.56 333.69,199.07 334.57,198.60C335.45,198.12 336.33,197.65 337.22,197.19C338.11,196.73 339.00,196.28 339.90,195.83C340.80,195.39 341.70,194.96 342.60,194.53C343.51,194.11 344.42,193.70 345.33,193.29C346.25,192.89 347.17,192.49 348.09,192.11C349.01,191.72 349.94,191.35 350.87,190.98C351.80,190.62 352.74,190.26 353.68,189.92C354.62,189.58 355.56,189.24 356.51,188.92C357.46,188.60 358.41,188.29 359.36,187.99C360.32,187.70 361.28,187.41 362.24,187.13C363.20,186.86 364.16,186.60 365.13,186.34C366.10,186.09 367.07,185.85 368.05,185.63C369.02,185.40 370.00,185.19 370.98,184.99C371.96,184.79 372.94,184.60 373.93,184.42C374.91,184.25 375.90,184.08 376.89,183.93C377.88,183.79 378.87,183.65 379.86,183.53C380.85,183.41 381.85,183.30 382.84,183.20C383.84,183.11 384.84,183.02 385.83,182.96C386.83,182.89 387.83,182.84 388.83,182.80C389.83,182.76 390.83,182.73 391.83,182.72C392.83,182.70 393.83,182.71 394.83,182.72C395.83,182.74 396.83,182.77 397.83,182.81C398.83,182.86 399.83,182.91 400.82,182.98C401.82,183.06 402.82,183.14 403.81,183.24C404.81,183.34 405.80,183.45 406.80,183.58C407.79,183.71 408.78,183.85 409.77,184.00C410.75,184.16 411.74,184.33 412.72,184.51C413.71,184.69 414.69,184.88 415.67,185.09C416.65,185.30 417.62,185.52 418.59,185.75C419.57,185.99 420.54,186.24 421.50,186.50C422.47,186.75 423.43,187.03 424.39,187.31C425.35,187.60 426.30,187.89 427.26,188.20C428.21,188.51 429.15,188.83 430.10,189.16C431.04,189.49 431.98,189.84 432.92,190.19C433.85,190.55 434.78,190.91 435.71,191.29C436.64,191.67 437.56,192.06 438.47,192.45C439.39,192.85 440.31,193.26 441.21,193.68C442.12,194.10 443.03,194.53 443.92,194.97C444.82,195.41 445.72,195.86 446.61,196.31C447.50,196.77 448.38,197.24 449.26,197.72C450.14,198.19 451.01,198.68 451.88,199.17C452.75,199.66 453.62,200.17 454.48,200.68C455.34,201.19 456.19,201.72 457.04,202.23C457.90,202.75 458.76,203.26 459.61,203.79C460.46,204.31 461.31,204.84 462.15,205.38C463.00,205.92 463.83,206.47 464.67,207.02C465.50,207.57 466.33,208.14 467.15,208.70C467.98,209.27 468.79,209.85 469.61,210.43C470.42,211.01 471.23,211.60 472.03,212.19C472.84,212.79 473.64,213.39 474.43,213.99C475.23,214.60 476.02,215.21 476.81,215.83C477.59,216.45 478.37,217.08 479.15,217.71C479.93,218.34 480.70,218.97 481.47,219.61C482.24,220.25 483.00,220.90 483.76,221.55C484.52,222.20 485.28,222.85 486.03,223.51C486.78,224.17 487.53,224.84 488.27,225.51C489.01,226.18 489.75,226.85 490.49,227.53C491.23,228.21 491.96,228.89 492.68,229.57C493.41,230.26 494.14,230.95 494.86,231.64C495.58,232.34 496.29,233.04 497.01,233.74C497.72,234.44 498.43,235.14 499.14,235.85C499.84,236.56 500.54,237.27 501.24,237.99C501.94,238.70 502.64,239.42 503.33,240.14C504.02,240.86 504.71,241.59 505.40,242.32C506.09,243.04 506.77,243.77 507.45,244.51C508.13,245.24 508.81,245.98 509.48,246.72C510.16,247.46 510.83,248.20 511.50,248.94C512.16,249.69 512.84,250.42 513.49,251.18C514.15,251.94 514.78,252.71 515.42,253.49C516.05,254.26 516.69,255.03 517.32,255.80C517.95,256.58 518.58,257.35 519.21,258.13C519.84,258.91 520.47,259.69 521.09,260.47C521.71,261.25 522.34,262.04 522.96,262.82C523.58,263.61 524.19,264.40 524.81,265.18C525.42,265.97 526.04,266.76 526.65,267.55C527.26,268.35 527.87,269.14 528.48,269.93C529.09,270.73 529.69,271.52 530.30,272.32C530.90,273.12 531.50,273.92 532.10,274.72C532.70,275.52 533.30,276.32 533.90,277.12C534.50,277.92 535.09,278.72 535.69,279.53C536.28,280.33 536.88,281.14 537.47,281.95C538.06,282.75 538.65,283.56 539.24,284.37C539.83,285.18 540.41,285.99 541.00,286.80C541.59,287.61 542.17,288.42 542.76,289.23C543.34,290.04 543.92,290.86 544.50,291.67C545.08,292.49 545.66,293.30 546.24,294.12C546.82,294.93 547.40,295.75 547.98,296.56C548.55,297.38 549.13,298.20 549.70,299.02C550.28,299.84 550.85,300.66 551.43,301.48C552.00,302.29 552.57,303.12 553.14,303.94C553.72,304.76 554.29,305.58 554.86,306.40C555.43,307.22 556.00,308.04 556.57,308.87C557.13,309.69 557.70,310.51 558.27,311.34C558.84,312.16 559.40,312.98 559.97,313.81C560.54,314.63 561.10,315.46 561.67,316.28C562.23,317.11 562.80,317.93 563.36,318.76C563.93,319.59 564.49,320.41 565.06,321.24C565.62,322.06 566.18,322.89 566.75,323.72C567.31,324.54 567.87,325.37 568.44,326.20C569.00,327.02 569.56,327.85 570.13,328.67C570.70,329.50 571.27,330.32 571.84,331.14C572.41,331.96 572.98,332.78 573.56,333.60C574.13,334.42 574.70,335.25 575.27,336.07C575.84,336.89 576.41,337.71 576.98,338.53C577.55,339.35 578.12,340.17 578.69,340.99C579.26,341.82 579.84,342.64 580.41,343.46C580.98,344.28 581.55,345.10 582.12,345.92C582.70,346.74 583.27,347.56 583.84,348.38C584.42,349.20 584.99,350.02 585.56,350.84C586.14,351.66 586.71,352.47 587.29,353.29C587.86,354.11 588.44,354.93 589.01,355.75C589.59,356.56 590.17,357.38 590.75,358.20C591.32,359.01 591.90,359.83 592.48,360.65C593.06,361.46 593.64,362.28 594.22,363.09C594.80,363.91 595.38,364.72 595.97,365.53C596.55,366.34 597.13,367.16 597.72,367.97C598.30,368.78 598.89,369.59 599.47,370.40C600.06,371.21 600.65,372.02 601.24,372.83C601.83,373.64 602.42,374.45 603.01,375.25C603.60,376.06 604.19,376.86 604.79,377.67C605.38,378.47 605.98,379.28 606.57,380.08C607.17,380.88 607.77,381.69 608.37,382.49C608.97,383.29 609.57,384.09 610.17,384.88C610.77,385.68 611.38,386.48 611.98,387.28C612.59,388.07 613.20,388.87 613.81,389.66C614.42,390.45 615.03,391.24 615.64,392.03C616.25,392.83 616.87,393.61 617.48,394.40C618.10,395.19 618.72,395.98 619.34,396.76C619.96,397.54 620.58,398.33 621.21,399.11C621.83,399.89 622.46,400.67 623.09,401.45C623.72,402.22 624.35,403.00 624.98,403.77C625.62,404.55 626.25,405.32 626.89,406.09C627.53,406.86 628.17,407.63 628.81,408.40C629.46,409.16 630.10,409.93 630.75,410.69C631.40,411.45 632.05,412.21 632.70,412.97C633.35,413.72 634.01,414.48 634.67,415.23C635.33,415.98 635.99,416.73 636.65,417.48C637.32,418.23 637.99,418.97 638.66,419.72C639.33,420.46 640.00,421.20 640.68,421.94C641.35,422.67 642.03,423.41 642.72,424.14C643.40,424.87 644.08,425.60 644.77,426.32C645.46,427.05 646.15,427.77 646.85,428.49C647.55,429.21 648.25,429.92 648.95,430.63C649.65,431.35 650.36,432.05 651.07,432.76C651.78,433.46 652.49,434.17 653.21,434.86C653.92,435.56 654.64,436.25 655.37,436.95C656.09,437.64 656.82,438.32 657.55,439.00C658.28,439.69 659.02,440.36 659.76,441.04C660.50,441.71 661.24,442.38 661.99,443.05C662.73,443.71 663.48,444.37 664.24,445.03C664.99,445.68 665.75,446.34 666.52,446.98C667.28,447.63 668.05,448.27 668.82,448.91C669.59,449.54 670.37,450.17 671.15,450.80C671.93,451.43 672.71,452.05 673.50,452.66C674.29,453.28 675.08,453.89 675.88,454.49C676.67,455.10 677.47,455.70 678.28,456.29C679.09,456.88 679.90,457.47 680.71,458.05C681.53,458.63 682.34,459.21 683.17,459.77C683.99,460.34 684.82,460.90 685.65,461.46C686.48,462.01 687.32,462.56 688.16,463.11C689.00,463.65 689.84,464.18 690.69,464.71C691.54,465.24 692.40,465.76 693.25,466.28C694.11,466.79 694.97,467.30 695.84,467.80C696.71,468.30 697.58,468.79 698.45,469.28C699.33,469.76 700.21,470.24 701.09,470.71C701.97,471.18 702.86,471.64 703.75,472.10C704.64,472.55 705.53,473.00 706.43,473.44C707.33,473.88 708.24,474.31 709.14,474.73C710.05,475.15 710.96,475.57 711.87,475.98C712.79,476.38 713.70,476.78 714.62,477.17C715.54,477.56 716.47,477.95 717.40,478.32C718.32,478.69 719.25,479.06 720.19,479.42C721.12,479.78 722.06,480.13 723.00,480.47C723.94,480.81 724.88,481.15 725.83,481.47C726.77,481.80 727.72,482.12 728.67,482.43C729.62,482.74 730.58,483.04 731.53,483.33C732.49,483.63 733.45,483.91 734.41,484.19C735.37,484.47 736.33,484.74 737.30,485.00C738.26,485.27 739.23,485.52 740.20,485.77C741.17,486.02 742.14,486.26 743.11,486.49C744.08,486.72 745.06,486.95 746.03,487.17C747.01,487.39 747.99,487.60 748.97,487.81C749.95,488.01 750.93,488.21 751.91,488.40C752.89,488.59 753.87,488.78 754.86,488.96C755.84,489.13 756.83,489.31 757.81,489.47C758.80,489.64 759.79,489.80 760.77,489.95C761.76,490.11 762.75,490.25 763.74,490.40C764.73,490.54 765.72,490.68 766.72,490.81C767.71,490.94 768.70,491.06 769.69,491.18C770.68,491.31 771.68,491.42 772.67,491.53C773.67,491.64 774.66,491.75 775.66,491.85C776.65,491.95 777.65,492.05 778.64,492.14C779.64,492.24 780.64,492.33 781.63,492.41C782.63,492.50 783.63,492.58 784.62,492.65C785.62,492.73 786.62,492.81 787.62,492.88C788.61,492.95 789.61,493.02 790.61,493.08C791.61,493.14 792.61,493.21 793.60,493.27C794.60,493.32 796.10,493.41 796.60,493.44" stroke="#0000ff" stroke-opacity="0.5"/>
<path d="M16.90,499.60 L16.90,494.30C16.90,493.80 16.91,492.29 16.91,491.28C16.92,490.28 16.92,489.28 16.92,488.28C16.93,487.28 16.93,486.28 16.94,485.28C16.94,484.28 16.95,483.28 16.96,482.28C16.97,481.28 16.98,480.27 16.99,479.27C17.01,478.27 17.02,477.27 17.03,476.27C17.05,475.27 17.06,474.27 17.08,473.27C17.10,472.27 17.12,471.27 17.14,470.27C17.16,469.27 17.18,468.27 17.20,467.27C17.22,466.27 17.24,465.27 17.27,464.27C17.29,463.27 17.32,462.27 17.34,461.27C17.37,460.27 17.40,459.27 17.43,458.26C17.46,457.26 17.49,456.26 17.52,455.26C17.55,454.26 17.58,453.26 17.61,452.26C17.65,451.26 17.68,450.26 17.72,449.26C17.75,448.26 17.79,447.26 17.83,446.26C17.87,445.26 17.91,444.26 17.95,443.26C17.99,442.26 18.03,441.26 18.07,440.26C18.12,439.26 18.16,438.26 18.20,437.27C18.25,436.27 18.30,435.27 18.34,434.27C18.39,433.27 18.44,432.27 18.49,431.27C18.54,430.27 18.59,429.27 18.64,428.27C18.69,427.27 18.74,426.27 18.80,425.27C18.85,424.27 18.91,423.27 18.96,422.27C19.02,421.28 19.07,420.28 19.13,419.28C19.19,418.28 19.25,417.28 19.31,416.28C19.37,415.28 19.43,414.28 19.49,413.28C19.56,412.29 19.62,411.29 19.69,410.29C19.75,409.29 19.82,408.29 19.88,407.29C19.95,406.29 20.02,405.30 20.09,404.30C20.15,403.30 20.22,402.30 20.29,401.30C20.37,400.30 20.44,399.31 20.51,398.31C20.58,397.31 20.66,396.31 20.73,395.31C20.81,394.32 20.88,393.32 20.96,392.32C21.04,391.32 21.12,390.33 21.19,389.33C21.27,388.33 21.35,387.33 21.44,386.34C21.52,385.34 21.60,384.34 21.68,383.34C21.77,382.35 21.85,381.35 21.94,380.35C22.02,379.36 22.11,378.36 22.19,377.36C22.28,376.37 22.37,375.37 22.46,374.37C22.55,373.37 22.64,372.38 22.73,371.38C22.82,370.39 22.92,369.39 23.01,368.39C23.10,367.40 23.20,366.40 23.29,365.40C23.39,364.41 23.48,363.41 23.58,362.42C23.68,361.42 23.78,360.42 23.88,359.43C23.98,358.43 24.08,357.44 24.18,356.44C24.28,355.45 24.39,354.45 24.49,353.46C24.59,352.46 24.70,351.47 24.81,350.47C24.91,349.48 25.02,348.48 25.13,347.49C25.24,346.49 25.34,345.50 25.46,344.50C25.57,343.51 25.68,342.51 25.79,341.52C25.90,340.52 26.02,339.53 26.13,338.54C26.25,337.54 26.36,336.55 26.48,335.55C26.60,334.56 26.71,333.57 26.83,332.57C26.95,331.58 27.07,330.59 27.19,329.59C27.32,328.60 27.44,327.61 27.56,326.61C27.69,325.62 27.81,324.63 27.94,323.64C28.07,322.64 28.19,321.65 28.32,320.66C28.45,319.67 28.58,318.67 28.71,317.68C28.84,316.69 28.98,315.70 29.11,314.71C29.24,313.71 29.38,312.72 29.51,311.73C29.65,310.74 29.79,309.75 29.93,308.76C30.07,307.77 30.21,306.78 30.35,305.79C30.49,304.79 30.63,303.80 30.78,302.81C30.92,301.82 31.07,300.83 31.22,299.84C31.36,298.85 31.51,297.86 31.66,296.88C31.81,295.89 31.97,294.90 32.12,293.91C32.27,292.92 32.43,291.93 32.58,290.94C32.74,289.95 32.90,288.97 33.06,287.98C33.22,286.99 33.38,286.00 33.54,285.02C33.71,284.03 33.87,283.04 34.04,282.05C34.20,281.07 34.37,280.08 34.54,279.10C34.71,278.11 34.89,277.12 35.06,276.14C35.23,275.15 35.41,274.17 35.59,273.18C35.77,272.20 35.95,271.21 36.13,270.23C36.31,269.25 36.49,268.26 36.68,267.28C36.87,266.30 37.06,265.31 37.25,264.33C37.44,263.35 37.63,262.37 37.83,261.39C38.02,260.40 38.22,259.42 38.42,258.44C38.62,257.46 38.83,256.48 39.03,255.50C39.24,254.52 39.45,253.55 39.66,252.57C39.87,251.59 40.09,250.61 40.31,249.64C40.52,248.66 40.74,247.68 40.97,246.71C41.19,245.73 41.42,244.76 41.65,243.78C41.88,242.81 42.12,241.84 42.36,240.87C42.59,239.89 42.84,238.92 43.08,237.95C43.33,236.98 43.58,236.02 43.83,235.05C44.09,234.08 44.35,233.11 44.61,232.15C44.87,231.18 45.14,230.22 45.42,229.26C45.69,228.29 45.97,227.33 46.26,226.37C46.54,225.41 46.83,224.46 47.13,223.50C47.42,222.55 47.73,221.59 48.04,220.64C48.35,219.69 48.67,218.74 48.99,217.79C49.32,216.85 49.65,215.90 49.99,214.96C50.33,214.02 50.68,213.08 51.04,212.15C51.40,211.22 51.77,210.29 52.16,209.36C52.54,208.44 52.93,207.52 53.34,206.60C53.75,205.69 54.17,204.78 54.60,203.88C55.04,202.98 55.49,202.09 55.96,201.20C56.43,200.32 56.92,199.45 57.43,198.59C57.94,197.73 58.47,196.88 59.04,196.05C59.60,195.23 60.19,194.41 60.81,193.63C61.44,192.85 62.09,192.09 62.79,191.38C63.50,190.67 64.24,189.98 65.03,189.38C65.83,188.78 66.67,188.22 67.57,187.78C68.46,187.35 69.42,186.99 70.39,186.79C71.36,186.58 72.39,186.51 73.38,186.57C74.36,186.64 75.37,186.86 76.31,187.16C77.26,187.46 78.18,187.89 79.05,188.37C79.93,188.85 80.76,189.42 81.56,190.01C82.36,190.61 83.13,191.27 83.86,191.94C84.60,192.62 85.30,193.34 85.98,194.07C86.66,194.80 87.31,195.56 87.95,196.34C88.58,197.11 89.19,197.90 89.79,198.70C90.39,199.51 90.97,200.32 91.53,201.15C92.10,201.97 92.65,202.81 93.19,203.66C93.72,204.50 94.25,205.35 94.76,206.21C95.28,207.07 95.78,207.93 96.27,208.81C96.76,209.68 97.25,210.55 97.72,211.43C98.20,212.31 98.66,213.20 99.12,214.09C99.58,214.98 100.03,215.87 100.47,216.77C100.91,217.67 101.35,218.57 101.78,219.47C102.21,220.38 102.63,221.28 103.05,222.19C103.46,223.10 103.87,224.02 104.28,224.93C104.69,225.85 105.09,226.76 105.48,227.68C105.88,228.60 106.27,229.52 106.65,230.45C107.04,231.37 107.42,232.29 107.80,233.22C108.17,234.15 108.55,235.08 108.91,236.01C109.28,236.94 109.65,237.87 110.01,238.80C110.37,239.74 110.73,240.67 111.08,241.61C111.43,242.54 111.78,243.48 112.13,244.42C112.47,245.36 112.82,246.30 113.16,247.24C113.50,248.18 113.83,249.12 114.17,250.07C114.50,251.01 114.83,251.96 115.16,252.90C115.49,253.85 115.81,254.79 116.14,255.74C116.46,256.69 116.78,257.64 117.10,258.58C117.41,259.53 117.73,260.48 118.04,261.43C118.35,262.38 118.66,263.34 118.97,264.29C119.28,265.24 119.58,266.19 119.89,267.15C120.19,268.10 120.49,269.06 120.79,270.01C121.09,270.97 121.39,271.92 121.68,272.88C121.97,273.83 122.27,274.79 122.56,275.75C122.85,276.71 123.14,277.66 123.43,278.62C123.71,279.58 124.00,280.54 124.28,281.50C124.57,282.46 124.85,283.42 125.13,284.38C125.41,285.34 125.69,286.30 125.96,287.26C126.24,288.22 126.52,289.19 126.79,290.15C127.06,291.11 127.33,292.07 127.61,293.04C127.88,294.00 128.15,294.97 128.41,295.93C128.68,296.89 128.95,297.86 129.21,298.82C129.48,299.79 129.74,300.75 130.00,301.72C130.27,302.68 130.53,303.65 130.79,304.62C131.05,305.58 131.31,306.55 131.56,307.52C131.82,308.48 132.08,309.45 132.33,310.42C132.59,311.39 132.84,312.35 133.10,313.32C133.35,314.29 133.60,315.26 133.85,316.23C134.10,317.20 134.35,318.16 134.60,319.13C134.85,320.10 135.10,321.07 135.34,322.04C135.59,323.01 135.84,323.98 136.08,324.95C136.33,325.92 136.57,326.89 136.81,327.86C137.06,328.83 137.30,329.81 137.54,330.78C137.78,331.75 138.02,332.72 138.26,333.69C138.50,334.66 138.74,335.63 138.98,336.61C139.22,337.58 139.46,338.55 139.69,339.52C139.93,340.49 140.17,341.47 140.40,342.44C140.64,343.41 140.87,344.38 141.11,345.36C141.34,346.33 141.57,347.30 141.81,348.28C142.04,349.25 142.27,350.22 142.50,351.20C142.73,352.17 142.96,353.14 143.19,354.12C143.42,355.09 143.65,356.07 143.88,357.04C144.11,358.01 144.34,358.99 144.57,359.96C144.80,360.94 145.03,361.91 145.25,362.89C145.48,363.86 145.71,364.83 145.93,365.81C146.16,366.78 146.39,367.76 146.61,368.73C146.84,369.71 147.06,370.68 147.29,371.66C147.51,372.63 147.74,373.61 147.96,374.58C148.19,375.56 148.41,376.54 148.63,377.51C148.86,378.49 149.08,379.46 149.30,380.44C149.53,381.41 149.75,382.39 149.97,383.36C150.19,384.34 150.42,385.31 150.64,386.29C150.86,387.27 151.08,388.24 151.30,389.22C151.52,390.19 151.75,391.17 151.97,392.15C152.19,393.12 152.41,394.10 152.63,395.07C152.85,396.05 153.07,397.03 153.29,398.00C153.51,398.98 153.73,399.95 153.96,400.93C154.18,401.91 154.40,402.88 154.62,403.86C154.84,404.83 155.06,405.81 155.28,406.79C155.50,407.76 155.72,408.74 155.94,409.71C156.16,410.69 156.38,411.67 156.60,412.64C156.82,413.62 157.05,414.59 157.27,415.57C157.49,416.55 157.71,417.52 157.93,418.50C158.15,419.47 158.37,420.45 158.60,421.42C158.82,422.40 159.04,423.38 159.26,424.35C159.48,425.33 159.71,426.30 159.93,427.28C160.15,428.25 160.37,429.23 160.60,430.21C160.82,431.18 161.05,432.16 161.27,433.13C161.49,434.11 161.72,435.08 161.94,436.06C162.17,437.03 162.39,438.01 162.62,438.98C162.85,439.96 163.07,440.93 163.30,441.91C163.53,442.88 163.75,443.86 163.98,444.83C164.21,445.80 164.44,446.78 164.67,447.75C164.90,448.73 165.13,449.70 165.36,450.67C165.59,451.65 165.82,452.62 166.05,453.59C166.28,454.57 166.51,455.54 166.75,456.51C166.98,457.49 167.22,458.46 167.45,459.43C167.69,460.41 167.92,461.38 168.16,462.35C168.40,463.32 168.64,464.29 168.88,465.27C169.12,466.24 169.36,467.21 169.60,468.18C169.84,469.15 170.08,470.12 170.33,471.09C170.57,472.06 170.82,473.03 171.06,474.00C171.31,474.97 171.56,475.94 171.81,476.91C172.06,477.88 172.31,478.85 172.56,479.82C172.82,480.78 173.07,481.75 173.33,482.72C173.58,483.69 173.84,484.65 174.10,485.62C174.36,486.59 174.62,487.55 174.89,488.52C175.15,489.48 175.42,490.45 175.69,491.41C175.96,492.37 176.36,493.82 176.50,494.30C176.65,493.82 177.09,492.38 177.38,491.43C177.68,490.47 177.97,489.51 178.27,488.55C178.56,487.60 178.86,486.64 179.15,485.68C179.45,484.72 179.74,483.77 180.04,482.81C180.33,481.85 180.63,480.89 180.92,479.94C181.22,478.98 181.51,478.02 181.81,477.06C182.10,476.11 182.40,475.15 182.70,474.19C182.99,473.24 183.29,472.28 183.59,471.32C183.88,470.37 184.18,469.41 184.48,468.45C184.77,467.49 185.07,466.54 185.37,465.58C185.67,464.63 185.97,463.67 186.27,462.71C186.56,461.76 186.86,460.80 187.16,459.84C187.46,458.89 187.76,457.93 188.07,456.98C188.37,456.02 188.67,455.07 188.97,454.11C189.27,453.16 189.57,452.20 189.88,451.25C190.18,450.29 190.48,449.34 190.79,448.38C191.09,447.43 191.40,446.47 191.70,445.52C192.01,444.56 192.31,443.61 192.62,442.66C192.93,441.70 193.24,440.75 193.54,439.80C193.85,438.84 194.16,437.89 194.47,436.94C194.78,435.98 195.09,435.03 195.40,434.08C195.72,433.13 196.03,432.17 196.34,431.22C196.65,430.27 196.97,429.32 197.28,428.37C197.60,427.42 197.91,426.47 198.23,425.52C198.55,424.57 198.86,423.62 199.18,422.67C199.50,421.72 199.82,420.77 200.14,419.82C200.46,418.87 200.78,417.92 201.10,416.97C201.43,416.02 201.75,415.07 202.07,414.12C202.40,413.18 202.72,412.23 203.05,411.28C203.37,410.33 203.70,409.39 204.03,408.44C204.36,407.49 204.69,406.55 205.02,405.60C205.35,404.66 205.68,403.71 206.01,402.77C206.35,401.82 206.68,400.88 207.02,399.93C207.35,398.99 207.69,398.04 208.02,397.10C208.36,396.16 208.70,395.21 209.04,394.27C209.38,393.33 209.72,392.39 210.06,391.45C210.41,390.50 210.75,389.56 211.10,388.62C211.44,387.68 211.79,386.74 212.13,385.80C212.48,384.86 212.83,383.92 213.18,382.98C213.53,382.05 213.88,381.11 214.24,380.17C214.59,379.23 214.94,378.30 215.30,377.36C215.65,376.42 216.01,375.49 216.37,374.55C216.73,373.62 217.09,372.68 217.45,371.75C217.81,370.81 218.18,369.88 218.54,368.94C218.90,368.01 219.27,367.08 219.64,366.15C220.01,365.21 220.38,364.28 220.75,363.35C221.12,362.42 221.49,361.49 221.86,360.56C222.24,359.63 222.61,358.70 222.99,357.78C223.37,356.85 223.74,355.92 224.12,354.99C224.51,354.07 224.89,353.14 225.27,352.21C225.65,351.29 226.04,350.36 226.43,349.44C226.81,348.52 227.20,347.59 227.59,346.67C227.98,345.75 228.38,344.82 228.77,343.90C229.16,342.98 229.56,342.06 229.96,341.14C230.35,340.22 230.75,339.30 231.16,338.39C231.56,337.47 231.96,336.55 232.36,335.63C232.77,334.72 233.18,333.80 233.58,332.89C233.99,331.97 234.40,331.06 234.82,330.15C235.23,329.23 235.64,328.32 236.06,327.41C236.48,326.50 236.89,325.59 237.32,324.68C237.74,323.77 238.16,322.86 238.58,321.95C239.01,321.05 239.43,320.14 239.86,319.23C240.29,318.33 240.72,317.42 241.15,316.52C241.59,315.62 242.02,314.71 242.46,313.81C242.90,312.91 243.34,312.01 243.78,311.11C244.22,310.21 244.66,309.31 245.11,308.42C245.55,307.52 246.00,306.62 246.45,305.73C246.90,304.83 247.36,303.94 247.81,303.05C248.27,302.15 248.72,301.26 249.18,300.37C249.64,299.48 250.11,298.59 250.57,297.71C251.04,296.82 251.50,295.93 251.97,295.05C252.44,294.16 252.91,293.28 253.39,292.40C253.86,291.51 254.34,290.63 254.82,289.75C255.30,288.87 255.78,288.00 256.27,287.12C256.75,286.24 257.24,285.37 257.73,284.49C258.22,283.62 258.71,282.75 259.21,281.88C259.70,281.01 260.20,280.14 260.70,279.27C261.21,278.40 261.71,277.54 262.22,276.67C262.72,275.81 263.23,274.95 263.75,274.09C264.26,273.22 264.78,272.37 265.30,271.51C265.82,270.65 266.34,269.80 266.86,268.94C267.39,268.09 267.92,267.24 268.45,266.39C268.98,265.54 269.51,264.69 270.05,263.85C270.59,263.00 271.13,262.16 271.68,261.32C272.22,260.48 272.77,259.64 273.32,258.80C273.87,257.97 274.43,257.13 274.99,256.30C275.55,255.47 276.11,254.64 276.68,253.82C277.24,252.99 277.81,252.16 278.39,251.34C278.96,250.52 279.54,249.70 280.12,248.89C280.70,248.07 281.29,247.26 281.87,246.45C282.46,245.64 283.06,244.83 283.66,244.03C284.25,243.22 284.85,242.42 285.46,241.62C286.07,240.83 286.68,240.03 287.29,239.24C287.91,238.45 288.53,237.66 289.15,236.88C289.78,236.10 290.40,235.31 291.04,234.54C291.67,233.76 292.31,232.99 292.95,232.22C293.59,231.45 294.24,230.69 294.90,229.93C295.55,229.17 296.21,228.41 296.87,227.66C297.53,226.91 298.20,226.16 298.87,225.42C299.55,224.68 300.23,223.95 300.91,223.21C301.60,222.48 302.29,221.76 302.98,221.04C303.68,220.31 304.38,219.60 305.09,218.89C305.80,218.18 306.51,217.48 307.23,216.78C307.95,216.08 308.67,215.39 309.40,214.71C310.14,214.02 310.87,213.34 311.62,212.67C312.36,212.00 313.11,211.34 313.87,210.68C314.63,210.03 315.39,209.38 316.16,208.74C316.93,208.09 317.71,207.46 318.49,206.84C319.27,206.21 320.06,205.60 320.86,204.99C321.66,204.38 322.46,203.78 323.27,203.19C324.08,202.61 324.90,202.03 325.72,201.46C326.55,200.89 327.38,200.33 328.22,199.78C329.05,199.23 329.90,198.69 330.75,198.16C331.60,197.64 332.46,197.12 333.33,196.62C334.19,196.11 335.07,195.62 335.94,195.14C336.82,194.66 337.71,194.19 338.60,193.73C339.49,193.28 340.39,192.83 341.30,192.40C342.20,191.97 343.11,191.56 344.03,191.15C344.95,190.75 345.87,190.36 346.80,189.99C347.73,189.61 348.66,189.25 349.60,188.90C350.54,188.56 351.49,188.23 352.44,187.91C353.39,187.59 354.35,187.29 355.30,187.00C356.26,186.71 357.23,186.44 358.20,186.18C359.16,185.92 360.14,185.68 361.11,185.45C362.09,185.22 363.07,185.01 364.05,184.81C365.03,184.61 366.02,184.43 367.00,184.26C367.99,184.10 368.98,183.94 369.98,183.81C370.97,183.67 371.96,183.55 372.96,183.44C373.95,183.33 374.95,183.23 375.95,183.16C376.95,183.08 377.95,183.01 378.95,182.96C379.95,182.91 380.95,182.87 381.95,182.85C382.95,182.82 383.96,182.81 384.96,182.82C385.96,182.82 386.96,182.84 387.96,182.87C388.96,182.90 389.97,182.94 390.97,183.00C391.97,183.05 392.97,183.12 393.97,183.20C394.96,183.28 395.96,183.37 396.96,183.47C397.95,183.58 398.95,183.69 399.94,183.82C400.94,183.95 401.93,184.09 402.92,184.23C403.91,184.38 404.90,184.54 405.89,184.71C406.87,184.89 407.86,185.07 408.84,185.26C409.83,185.45 410.81,185.65 411.79,185.87C412.77,186.08 413.74,186.30 414.72,186.53C415.69,186.77 416.66,187.01 417.63,187.26C418.60,187.51 419.57,187.77 420.54,188.04C421.50,188.31 422.46,188.60 423.42,188.88C424.38,189.17 425.34,189.47 426.29,189.78C427.24,190.09 428.20,190.40 429.14,190.73C430.09,191.05 431.04,191.39 431.98,191.73C432.92,192.07 433.86,192.42 434.79,192.78C435.73,193.14 436.66,193.51 437.59,193.89C438.52,194.26 439.44,194.65 440.36,195.04C441.28,195.43 442.20,195.84 443.12,196.24C444.03,196.65 444.94,197.07 445.85,197.50C446.76,197.92 447.66,198.36 448.56,198.80C449.46,199.24 450.35,199.69 451.25,200.14C452.14,200.60 453.03,201.06 453.91,201.54C454.79,202.01 455.67,202.49 456.55,202.97C457.43,203.45 458.31,203.92 459.19,204.41C460.07,204.89 460.95,205.37 461.82,205.86C462.69,206.35 463.56,206.86 464.42,207.36C465.29,207.87 466.15,208.39 467.00,208.91C467.86,209.43 468.71,209.96 469.55,210.50C470.40,211.03 471.24,211.58 472.08,212.13C472.92,212.68 473.75,213.24 474.58,213.80C475.40,214.36 476.23,214.93 477.05,215.51C477.87,216.09 478.68,216.67 479.49,217.26C480.30,217.85 481.11,218.45 481.91,219.05C482.71,219.65 483.50,220.26 484.30,220.87C485.09,221.49 485.88,222.11 486.66,222.73C487.44,223.36 488.22,223.99 488.99,224.62C489.77,225.26 490.54,225.90 491.30,226.55C492.07,227.19 492.83,227.85 493.59,228.50C494.34,229.16 495.09,229.82 495.84,230.49C496.59,231.15 497.33,231.83 498.07,232.50C498.81,233.18 499.55,233.86 500.28,234.54C501.01,235.23 501.74,235.92 502.46,236.61C503.19,237.30 503.91,238.00 504.62,238.70C505.34,239.40 506.05,240.11 506.76,240.81C507.47,241.52 508.17,242.24 508.87,242.95C509.57,243.67 510.27,244.39 510.96,245.11C511.66,245.83 512.36,246.55 513.03,247.29C513.71,248.03 514.37,248.78 515.03,249.54C515.69,250.29 516.34,251.05 516.99,251.81C517.64,252.58 518.29,253.34 518.93,254.11C519.58,254.87 520.22,255.64 520.86,256.42C521.50,257.19 522.13,257.96 522.77,258.74C523.40,259.51 524.03,260.29 524.66,261.07C525.29,261.85 525.92,262.63 526.54,263.42C527.16,264.20 527.78,264.99 528.40,265.77C529.02,266.56 529.64,267.35 530.25,268.14C530.87,268.93 531.48,269.73 532.09,270.52C532.70,271.32 533.31,272.11 533.92,272.91C534.52,273.71 535.13,274.51 535.73,275.31C536.33,276.11 536.93,276.91 537.53,277.71C538.13,278.52 538.73,279.32 539.32,280.13C539.92,280.93 540.51,281.74 541.11,282.55C541.70,283.35 542.29,284.16 542.88,284.97C543.47,285.78 544.06,286.60 544.64,287.41C545.23,288.22 545.81,289.03 546.40,289.85C546.98,290.66 547.56,291.48 548.15,292.29C548.73,293.11 549.31,293.93 549.89,294.74C550.47,295.56 551.04,296.38 551.62,297.20C552.20,298.02 552.77,298.84 553.35,299.66C553.92,300.48 554.50,301.30 555.07,302.12C555.65,302.94 556.22,303.76 556.79,304.59C557.36,305.41 557.93,306.23 558.50,307.05C559.08,307.88 559.65,308.70 560.21,309.53C560.78,310.35 561.35,311.18 561.92,312.00C562.49,312.82 563.06,313.65 563.63,314.48C564.19,315.30 564.76,316.13 565.33,316.95C565.90,317.78 566.46,318.60 567.03,319.43C567.60,320.26 568.16,321.08 568.73,321.91C569.30,322.73 569.87,323.56 570.44,324.38C571.01,325.20 571.59,326.02 572.17,326.84C572.74,327.66 573.32,328.48 573.90,329.30C574.47,330.12 575.05,330.94 575.62,331.76C576.20,332.58 576.77,333.40 577.35,334.22C577.93,335.04 578.50,335.86 579.08,336.68C579.65,337.50 580.23,338.32 580.81,339.14C581.38,339.96 581.96,340.78 582.54,341.60C583.11,342.42 583.69,343.23 584.27,344.05C584.84,344.87 585.42,345.69 586.00,346.51C586.57,347.33 587.15,348.15 587.73,348.97C588.31,349.79 588.88,350.61 589.46,351.42C590.04,352.24 590.62,353.06 591.20,353.88C591.77,354.70 592.35,355.51 592.93,356.33C593.51,357.15 594.09,357.97 594.67,358.79C595.25,359.60 595.83,360.42 596.41,361.24C596.99,362.05 597.57,362.87 598.15,363.69C598.73,364.51 599.31,365.32 599.89,366.14C600.47,366.95 601.05,367.77 601.63,368.59C602.21,369.40 602.79,370.22 603.38,371.03C603.96,371.85 604.54,372.66 605.13,373.47C605.72,374.29 606.30,375.10 606.89,375.91C607.48,376.72 608.07,377.53 608.66,378.34C609.26,379.14 609.85,379.95 610.45,380.75C611.05,381.56 611.65,382.36 612.25,383.16C612.86,383.96 613.46,384.76 614.07,385.55C614.68,386.35 615.30,387.14 615.92,387.93C616.54,388.71 617.16,389.50 617.79,390.28C618.42,391.06 619.05,391.84 619.69,392.61C620.32,393.38 620.97,394.15 621.62,394.91C622.27,395.67 622.92,396.43 623.59,397.18C624.25,397.93 624.92,398.68 625.60,399.42C626.27,400.16 626.96,400.89 627.64,401.62C628.33,402.35 629.03,403.07 629.73,403.79C630.42,404.50 631.13,405.22 631.84,405.92C632.55,406.63 633.26,407.33 633.98,408.03C634.70,408.73 635.42,409.43 636.14,410.12C636.87,410.81 637.59,411.50 638.32,412.19C639.05,412.88 639.78,413.56 640.52,414.24C641.25,414.92 641.99,415.61 642.72,416.29C643.45,416.97 644.19,417.65 644.93,418.33C645.66,419.01 646.39,419.69 647.13,420.37C647.86,421.06 648.59,421.74 649.32,422.43C650.05,423.12 650.78,423.81 651.50,424.50C652.23,425.19 652.95,425.88 653.67,426.57C654.40,427.27 655.12,427.96 655.85,428.65C656.57,429.35 657.29,430.04 658.02,430.73C658.74,431.42 659.47,432.11 660.20,432.80C660.93,433.48 661.66,434.17 662.40,434.85C663.14,435.53 663.88,436.20 664.62,436.87C665.36,437.54 666.11,438.21 666.86,438.87C667.61,439.54 668.37,440.20 669.13,440.85C669.89,441.50 670.65,442.15 671.41,442.80C672.18,443.45 672.95,444.09 673.72,444.72C674.50,445.36 675.28,445.99 676.06,446.62C676.84,447.25 677.62,447.87 678.41,448.49C679.20,449.11 679.99,449.72 680.78,450.33C681.58,450.94 682.38,451.55 683.18,452.15C683.98,452.75 684.79,453.34 685.60,453.93C686.41,454.52 687.22,455.11 688.03,455.69C688.85,456.28 689.67,456.85 690.49,457.43C691.31,458.00 692.14,458.57 692.96,459.13C693.79,459.69 694.62,460.25 695.46,460.81C696.29,461.36 697.13,461.91 697.97,462.46C698.81,463.00 699.66,463.54 700.50,464.08C701.35,464.62 702.20,465.15 703.05,465.67C703.90,466.20 704.76,466.72 705.62,467.24C706.47,467.76 707.34,468.27 708.20,468.77C709.06,469.28 709.93,469.78 710.80,470.28C711.67,470.78 712.54,471.27 713.42,471.76C714.29,472.25 715.17,472.73 716.05,473.20C716.93,473.68 717.82,474.15 718.71,474.62C719.59,475.08 720.48,475.54 721.38,476.00C722.27,476.45 723.17,476.90 724.07,477.34C724.97,477.78 725.87,478.22 726.77,478.64C727.68,479.07 728.59,479.50 729.50,479.91C730.41,480.33 731.33,480.73 732.24,481.13C733.16,481.53 734.08,481.93 735.01,482.31C735.93,482.70 736.86,483.08 737.79,483.44C738.72,483.81 739.66,484.17 740.60,484.52C741.54,484.88 742.48,485.22 743.42,485.55C744.37,485.88 745.32,486.21 746.27,486.52C747.22,486.83 748.17,487.14 749.13,487.43C750.09,487.72 751.05,488.00 752.02,488.28C752.98,488.55 753.95,488.81 754.92,489.06C755.89,489.31 756.86,489.55 757.84,489.77C758.81,490.00 759.79,490.22 760.77,490.42C761.75,490.63 762.74,490.82 763.72,491.01C764.71,491.19 765.69,491.37 766.68,491.53C767.67,491.69 768.66,491.84 769.65,491.99C770.64,492.13 771.64,492.26 772.63,492.39C773.62,492.51 774.62,492.63 775.62,492.73C776.61,492.84 777.61,492.94 778.61,493.04C779.60,493.13 780.60,493.21 781.60,493.29C782.60,493.38 783.60,493.45 784.60,493.52C785.60,493.59 786.60,493.66 787.60,493.72C788.60,493.78 789.60,493.84 790.60,493.90C791.60,493.96 792.60,494.01 793.60,494.06C794.60,494.12 796.10,494.20 796.60,494.22" stroke="#0000b3"/>
<path d="M16.90,499.60 L16.90,494.30C16.90,493.80 16.91,492.29 16.92,491.29C16.92,490.28 16.93,489.28 16.94,488.27C16.94,487.27 16.96,486.27 16.97,485.26C16.98,484.26 16.99,483.25 17.01,482.25C17.02,481.25 17.04,480.24 17.06,479.24C17.08,478.24 17.10,477.23 17.12,476.23C17.14,475.23 17.16,474.22 17.18,473.22C17.20,472.21 17.22,471.21 17.25,470.21C17.27,469.20 17.30,468.20 17.32,467.20C17.35,466.19 17.38,465.19 17.41,464.19C17.43,463.18 17.46,462.18 17.49,461.18C17.52,460.17 17.56,459.17 17.59,458.17C17.62,457.16 17.65,456.16 17.69,455.16C17.72,454.15 17.76,453.15 17.79,452.15C17.83,451.14 17.86,450.14 17.90,449.14C17.94,448.13 17.98,447.13 18.02,446.13C18.06,445.12 18.10,444.12 18.14,443.12C18.18,442.11 18.22,441.11 18.26,440.11C18.30,439.11 18.35,438.10 18.39,437.10C18.44,436.10 18.48,435.09 18.53,434.09C18.57,433.09 18.62,432.09 18.67,431.08C18.72,430.08 18.76,429.08 18.81,428.07C18.86,427.07 18.91,426.07 18.96,425.07C19.02,424.06 19.07,423.06 19.12,422.06C19.17,421.06 19.23,420.05 19.28,419.05C19.33,418.05 19.39,417.05 19.44,416.05C19.50,415.04 19.56,414.04 19.61,413.04C19.67,412.04 19.73,411.03 19.79,410.03C19.85,409.03 19.91,408.03 19.97,407.03C20.03,406.02 20.09,405.02 20.15,404.02C20.22,403.02 20.28,402.02 20.34,401.01C20.41,400.01 20.47,399.01 20.54,398.01C20.60,397.01 20.67,396.01 20.74,395.00C20.80,394.00 20.87,393.00 20.94,392.00C21.01,391.00 21.08,390.00 21.15,388.99C21.22,387.99 21.29,386.99 21.36,385.99C21.43,384.99 21.51,383.99 21.58,382.99C21.65,381.99 21.73,380.98 21.80,379.98C21.88,378.98 21.96,377.98 22.03,376.98C22.11,375.98 22.19,374.98 22.27,373.98C22.35,372.98 22.43,371.98 22.51,370.98C22.59,369.98 22.67,368.98 22.75,367.97C22.83,366.97 22.92,365.97 23.00,364.97C23.08,363.97 23.17,362.97 23.25,361.97C23.34,360.97 23.43,359.97 23.51,358.97C23.60,357.97 23.69,356.97 23.78,355.97C23.87,354.97 23.96,353.97 24.05,352.97C24.14,351.97 24.23,350.97 24.33,349.97C24.42,348.97 24.51,347.97 24.61,346.98C24.70,345.98 24.80,344.98 24.90,343.98C24.99,342.98 25.09,341.98 25.19,340.98C25.29,339.98 25.39,338.98 25.49,337.98C25.59,336.99 25.69,335.99 25.80,334.99C25.90,333.99 26.00,332.99 26.11,331.99C26.21,330.99 26.32,330.00 26.42,329.00C26.53,328.00 26.64,327.00 26.75,326.00C26.86,325.01 26.97,324.01 27.08,323.01C27.19,322.01 27.30,321.01 27.42,320.02C27.53,319.02 27.64,318.02 27.76,317.03C27.88,316.03 27.99,315.03 28.11,314.03C28.23,313.04 28.35,312.04 28.47,311.04C28.59,310.05 28.71,309.05 28.83,308.05C28.96,307.06 29.08,306.06 29.21,305.07C29.33,304.07 29.46,303.07 29.59,302.08C29.72,301.08 29.85,300.09 29.98,299.09C30.11,298.10 30.24,297.10 30.37,296.11C30.51,295.11 30.64,294.12 30.78,293.12C30.91,292.13 31.05,291.13 31.19,290.14C31.33,289.15 31.47,288.15 31.61,287.16C31.75,286.16 31.90,285.17 32.04,284.18C32.19,283.18 32.34,282.19 32.48,281.20C32.63,280.21 32.78,279.21 32.93,278.22C33.09,277.23 33.24,276.24 33.40,275.24C33.55,274.25 33.71,273.26 33.87,272.27C34.03,271.28 34.19,270.29 34.35,269.30C34.51,268.31 34.68,267.32 34.84,266.33C35.01,265.34 35.18,264.35 35.35,263.36C35.52,262.37 35.69,261.38 35.87,260.39C36.04,259.40 36.22,258.41 36.40,257.43C36.58,256.44 36.76,255.45 36.94,254.46C37.12,253.48 37.31,252.49 37.50,251.50C37.69,250.52 37.88,249.53 38.07,248.55C38.27,247.56 38.46,246.58 38.66,245.60C38.86,244.61 39.06,243.63 39.27,242.65C39.47,241.66 39.68,240.68 39.89,239.70C40.10,238.72 40.32,237.74 40.54,236.76C40.75,235.78 40.97,234.80 41.20,233.82C41.42,232.84 41.65,231.86 41.88,230.89C42.11,229.91 42.35,228.93 42.59,227.96C42.83,226.98 43.07,226.01 43.32,225.04C43.57,224.06 43.82,223.09 44.08,222.12C44.33,221.15 44.59,220.18 44.86,219.21C45.13,218.25 45.40,217.28 45.68,216.32C45.96,215.35 46.24,214.39 46.53,213.43C46.82,212.47 47.11,211.51 47.41,210.55C47.72,209.59 48.03,208.64 48.34,207.68C48.66,206.73 48.98,205.78 49.31,204.83C49.65,203.89 49.99,202.94 50.34,202.00C50.69,201.06 51.05,200.12 51.42,199.19C51.79,198.26 52.17,197.33 52.56,196.40C52.96,195.48 53.36,194.56 53.78,193.65C54.20,192.74 54.64,191.83 55.09,190.94C55.54,190.04 56.01,189.15 56.50,188.28C56.99,187.40 57.49,186.53 58.03,185.68C58.56,184.83 59.11,183.99 59.70,183.18C60.29,182.37 60.90,181.57 61.56,180.81C62.22,180.06 62.91,179.31 63.65,178.64C64.39,177.97 65.17,177.32 66.00,176.77C66.84,176.23 67.74,175.73 68.67,175.38C69.60,175.02 70.60,174.76 71.58,174.67C72.57,174.57 73.60,174.62 74.58,174.78C75.56,174.95 76.54,175.28 77.46,175.66C78.38,176.05 79.26,176.56 80.10,177.10C80.94,177.64 81.74,178.26 82.50,178.91C83.27,179.55 84.00,180.25 84.70,180.97C85.40,181.68 86.07,182.43 86.73,183.19C87.38,183.96 88.00,184.74 88.61,185.54C89.22,186.34 89.80,187.16 90.38,187.98C90.95,188.81 91.50,189.64 92.04,190.49C92.59,191.33 93.11,192.19 93.63,193.05C94.14,193.91 94.64,194.78 95.14,195.66C95.63,196.53 96.11,197.41 96.58,198.30C97.06,199.18 97.52,200.07 97.97,200.97C98.43,201.86 98.88,202.76 99.32,203.67C99.75,204.57 100.19,205.47 100.61,206.38C101.04,207.29 101.45,208.21 101.87,209.12C102.28,210.04 102.69,210.95 103.09,211.87C103.49,212.80 103.88,213.72 104.27,214.64C104.66,215.57 105.05,216.50 105.43,217.42C105.81,218.35 106.19,219.28 106.56,220.22C106.93,221.15 107.30,222.08 107.66,223.02C108.02,223.96 108.38,224.89 108.74,225.83C109.09,226.77 109.44,227.71 109.79,228.65C110.14,229.59 110.48,230.54 110.83,231.48C111.17,232.42 111.51,233.37 111.84,234.32C112.18,235.26 112.51,236.21 112.84,237.16C113.17,238.11 113.49,239.06 113.82,240.01C114.14,240.96 114.46,241.91 114.78,242.86C115.10,243.81 115.41,244.76 115.73,245.72C116.04,246.67 116.35,247.63 116.66,248.58C116.97,249.54 117.27,250.49 117.58,251.45C117.88,252.41 118.18,253.36 118.48,254.32C118.78,255.28 119.08,256.24 119.38,257.20C119.67,258.16 119.97,259.12 120.26,260.08C120.55,261.04 120.84,262.00 121.13,262.96C121.42,263.92 121.70,264.88 121.99,265.85C122.27,266.81 122.56,267.77 122.84,268.74C123.12,269.70 123.40,270.66 123.68,271.63C123.96,272.59 124.23,273.56 124.51,274.52C124.78,275.49 125.06,276.45 125.33,277.42C125.60,278.39 125.87,279.35 126.14,280.32C126.41,281.29 126.68,282.25 126.95,283.22C127.21,284.19 127.48,285.16 127.74,286.13C128.01,287.10 128.27,288.06 128.53,289.03C128.80,290.00 129.06,290.97 129.32,291.94C129.58,292.91 129.83,293.88 130.09,294.85C130.35,295.82 130.60,296.79 130.86,297.76C131.11,298.73 131.37,299.71 131.62,300.68C131.87,301.65 132.13,302.62 132.38,303.59C132.63,304.56 132.88,305.54 133.13,306.51C133.38,307.48 133.63,308.45 133.87,309.43C134.12,310.40 134.37,311.37 134.61,312.35C134.86,313.32 135.10,314.29 135.35,315.27C135.59,316.24 135.83,317.21 136.07,318.19C136.32,319.16 136.56,320.14 136.80,321.11C137.04,322.09 137.28,323.06 137.52,324.04C137.76,325.01 138.00,325.99 138.23,326.96C138.47,327.94 138.71,328.91 138.94,329.89C139.18,330.86 139.42,331.84 139.65,332.82C139.89,333.79 140.12,334.77 140.35,335.74C140.59,336.72 140.82,337.70 141.05,338.67C141.29,339.65 141.52,340.63 141.75,341.60C141.98,342.58 142.21,343.56 142.44,344.53C142.67,345.51 142.90,346.49 143.13,347.47C143.36,348.44 143.59,349.42 143.82,350.40C144.05,351.38 144.27,352.35 144.50,353.33C144.73,354.31 144.95,355.29 145.18,356.27C145.41,357.24 145.63,358.22 145.86,359.20C146.08,360.18 146.31,361.16 146.53,362.13C146.76,363.11 146.98,364.09 147.21,365.07C147.43,366.05 147.65,367.03 147.88,368.01C148.10,368.99 148.32,369.96 148.54,370.94C148.77,371.92 148.99,372.90 149.21,373.88C149.43,374.86 149.65,375.84 149.88,376.82C150.10,377.80 150.32,378.78 150.54,379.76C150.76,380.73 150.98,381.71 151.20,382.69C151.42,383.67 151.64,384.65 151.86,385.63C152.08,386.61 152.30,387.59 152.52,388.57C152.74,389.55 152.96,390.53 153.17,391.51C153.39,392.49 153.61,393.47 153.83,394.45C154.05,395.43 154.27,396.41 154.49,397.39C154.70,398.37 154.92,399.35 155.14,400.33C155.36,401.31 155.58,402.29 155.79,403.27C156.01,404.25 156.23,405.23 156.45,406.21C156.66,407.19 156.88,408.17 157.10,409.15C157.32,410.13 157.53,411.11 157.75,412.09C157.97,413.07 158.19,414.05 158.40,415.03C158.62,416.01 158.84,416.99 159.05,417.97C159.27,418.95 159.49,419.93 159.71,420.91C159.92,421.89 160.14,422.87 160.36,423.85C160.58,424.83 160.79,425.81 161.01,426.79C161.23,427.77 161.45,428.75 161.66,429.73C161.88,430.71 162.10,431.69 162.32,432.67C162.54,433.65 162.75,434.63 162.97,435.61C163.19,436.59 163.41,437.57 163.63,438.55C163.85,439.53 164.07,440.51 164.28,441.49C164.50,442.47 164.72,443.45 164.94,444.43C165.16,445.40 165.38,446.38 165.60,447.36C165.82,448.34 166.04,449.32 166.26,450.30C166.48,451.28 166.70,452.26 166.92,453.24C167.15,454.22 167.37,455.20 167.59,456.18C167.81,457.16 168.03,458.14 168.26,459.11C168.48,460.09 168.70,461.07 168.92,462.05C169.15,463.03 169.37,464.01 169.60,464.99C169.82,465.96 170.05,466.94 170.27,467.92C170.50,468.90 170.72,469.88 170.95,470.86C171.17,471.83 171.40,472.81 171.63,473.79C171.86,474.77 172.08,475.75 172.31,476.72C172.54,477.70 172.77,478.68 173.00,479.65C173.23,480.63 173.46,481.61 173.69,482.59C173.92,483.56 174.15,484.54 174.39,485.52C174.62,486.49 174.85,487.47 175.09,488.45C175.32,489.42 175.55,490.40 175.79,491.37C176.03,492.35 176.38,493.81 176.50,494.30C176.61,493.81 176.95,492.35 177.18,491.38C177.41,490.40 177.64,489.43 177.87,488.46C178.10,487.48 178.33,486.51 178.56,485.54C178.79,484.56 179.02,483.59 179.25,482.62C179.48,481.64 179.71,480.67 179.94,479.70C180.18,478.72 180.41,477.75 180.65,476.78C180.88,475.81 181.11,474.83 181.35,473.86C181.59,472.89 181.82,471.92 182.06,470.95C182.30,469.97 182.53,469.00 182.77,468.03C183.01,467.06 183.25,466.09 183.49,465.12C183.73,464.15 183.97,463.18 184.21,462.21C184.46,461.23 184.70,460.26 184.94,459.29C185.19,458.32 185.43,457.35 185.68,456.38C185.92,455.42 186.17,454.45 186.42,453.48C186.66,452.51 186.91,451.54 187.16,450.57C187.41,449.60 187.66,448.63 187.91,447.66C188.16,446.70 188.41,445.73 188.67,444.76C188.92,443.79 189.17,442.82 189.43,441.86C189.68,440.89 189.94,439.92 190.20,438.96C190.45,437.99 190.71,437.02 190.97,436.06C191.23,435.09 191.49,434.13 191.75,433.16C192.01,432.19 192.28,431.23 192.54,430.26C192.80,429.30 193.07,428.34 193.33,427.37C193.60,426.41 193.87,425.44 194.14,424.48C194.41,423.52 194.68,422.55 194.95,421.59C195.22,420.63 195.49,419.66 195.76,418.70C196.04,417.74 196.31,416.78 196.59,415.82C196.87,414.86 197.14,413.90 197.42,412.94C197.70,411.97 197.98,411.01 198.27,410.05C198.55,409.10 198.83,408.14 199.12,407.18C199.40,406.22 199.69,405.26 199.97,404.30C200.26,403.34 200.55,402.39 200.84,401.43C201.13,400.47 201.43,399.52 201.72,398.56C202.01,397.60 202.31,396.65 202.61,395.69C202.90,394.74 203.20,393.78 203.50,392.83C203.80,391.88 204.11,390.92 204.41,389.97C204.71,389.02 205.02,388.06 205.33,387.11C205.63,386.16 205.94,385.21 206.26,384.26C206.57,383.31 206.88,382.36 207.19,381.41C207.51,380.46 207.83,379.51 208.14,378.56C208.46,377.61 208.78,376.67 209.10,375.72C209.43,374.77 209.75,373.83 210.08,372.88C210.40,371.93 210.73,370.99 211.06,370.05C211.39,369.10 211.73,368.16 212.06,367.22C212.39,366.27 212.73,365.33 213.07,364.39C213.41,363.45 213.75,362.51 214.09,361.57C214.44,360.63 214.78,359.69 215.13,358.75C215.48,357.81 215.83,356.88 216.18,355.94C216.53,355.01 216.89,354.07 217.24,353.14C217.60,352.20 217.96,351.27 218.32,350.34C218.68,349.40 219.05,348.47 219.42,347.54C219.78,346.61 220.15,345.68 220.52,344.75C220.90,343.82 221.27,342.90 221.65,341.97C222.03,341.04 222.41,340.12 222.79,339.19C223.17,338.27 223.56,337.35 223.94,336.42C224.33,335.50 224.72,334.58 225.12,333.66C225.51,332.74 225.91,331.82 226.31,330.91C226.70,329.99 227.11,329.07 227.51,328.16C227.92,327.25 228.33,326.33 228.74,325.42C229.15,324.51 229.56,323.60 229.98,322.69C230.40,321.78 230.82,320.87 231.24,319.97C231.66,319.06 232.09,318.15 232.52,317.25C232.95,316.35 233.38,315.45 233.82,314.55C234.25,313.65 234.69,312.75 235.14,311.85C235.58,310.95 236.02,310.06 236.47,309.16C236.92,308.27 237.38,307.38 237.83,306.49C238.29,305.60 238.75,304.71 239.21,303.82C239.68,302.94 240.14,302.05 240.61,301.17C241.08,300.29 241.56,299.41 242.03,298.53C242.51,297.65 242.99,296.77 243.48,295.90C243.96,295.02 244.45,294.15 244.94,293.28C245.43,292.41 245.93,291.54 246.43,290.67C246.93,289.81 247.43,288.94 247.94,288.08C248.45,287.22 248.96,286.36 249.47,285.50C249.99,284.64 250.51,283.79 251.03,282.93C251.56,282.08 252.08,281.23 252.61,280.38C253.14,279.54 253.68,278.69 254.22,277.85C254.76,277.01 255.30,276.17 255.85,275.33C256.39,274.49 256.94,273.66 257.50,272.82C258.05,271.99 258.61,271.16 259.18,270.34C259.74,269.51 260.31,268.69 260.88,267.86C261.45,267.04 262.03,266.23 262.61,265.41C263.19,264.60 263.77,263.78 264.36,262.98C264.95,262.17 265.54,261.36 266.14,260.56C266.74,259.76 267.34,258.96 267.94,258.16C268.55,257.37 269.16,256.57 269.77,255.78C270.39,254.99 271.01,254.21 271.63,253.43C272.25,252.64 272.88,251.86 273.51,251.09C274.14,250.31 274.78,249.54 275.42,248.77C276.06,248.00 276.71,247.24 277.36,246.48C278.01,245.72 278.66,244.96 279.32,244.21C279.98,243.45 280.64,242.71 281.30,241.96C281.97,241.21 282.64,240.47 283.32,239.74C283.99,239.00 284.68,238.27 285.36,237.54C286.05,236.81 286.73,236.08 287.43,235.36C288.12,234.64 288.82,233.92 289.52,233.21C290.23,232.50 290.93,231.79 291.65,231.09C292.36,230.39 293.07,229.69 293.79,229.00C294.52,228.30 295.24,227.61 295.97,226.93C296.70,226.25 297.43,225.57 298.17,224.89C298.91,224.22 299.66,223.55 300.41,222.89C301.15,222.22 301.91,221.57 302.66,220.91C303.42,220.26 304.18,219.61 304.95,218.97C305.72,218.33 306.49,217.69 307.26,217.06C308.04,216.43 308.82,215.80 309.61,215.18C310.39,214.56 311.18,213.95 311.98,213.34C312.77,212.73 313.57,212.13 314.37,211.54C315.18,210.94 315.99,210.35 316.80,209.77C317.61,209.19 318.43,208.61 319.25,208.05C320.08,207.48 320.91,206.91 321.74,206.36C322.57,205.80 323.41,205.26 324.25,204.72C325.09,204.18 325.94,203.64 326.79,203.12C327.64,202.59 328.49,202.07 329.35,201.56C330.21,201.05 331.08,200.55 331.95,200.05C332.82,199.56 333.69,199.07 334.57,198.60C335.45,198.12 336.33,197.65 337.22,197.19C338.11,196.73 339.00,196.28 339.90,195.83C340.80,195.39 341.70,194.96 342.60,194.53C343.51,194.11 344.42,193.70 345.33,193.29C346.25,192.89 347.17,192.49 348.09,192.11C349.01,191.72 349.94,191.35 350.87,190.98C351.80,190.62 352.74,190.26 353.68,189.92C354.62,189.58 355.56,189.24 356.51,188.92C357.46,188.60 358.41,188.29 359.36,187.99C360.32,187.70 361.28,187.41 362.24,187.13C363.20,186.86 364.16,186.60 365.13,186.34C366.10,186.09 367.07,185.85 368.05,185.63C369.02,185.40 370.00,185.19 370.98,184.99C371.96,184.79 372.94,184.60 373.93,184.42C374.91,184.25 375.90,184.08 376.89,183.93C377.88,183.79 378.87,183.65 379.86,183.53C380.85,183.41 381.85,183.30 382.84,183.20C383.84,183.11 384.84,183.02 385.83,182.96C386.83,182.89 387.83,182.84 388.83,182.80C389.83,182.76 390.83,182.73 391.83,182.72C392.83,182.70 393.83,182.71 394.83,182.72C395.83,182.74 396.83,182.77 397.83,182.81C398.83,182.86 399.83,182.91 400.82,182.98C401.82,183.06 402.82,183.14 403.81,183.24C404.81,183.34 405.80,183.45 406.80,183.58C407.79,183.71 408.78,183.85 409.77,184.00C410.75,184.16 411.74,184.33 412.72,184.51C413.71,184.69 414.69,184.88 415.67,185.09C416.65,185.30 417.62,185.52 418.59,185.75C419.57,185.99 420.54,186.24 421.50,186.50C422.47,186.75 423.43,187.03 424.39,187.31C425.35,187.60 426.30,187.89 427.26,188.20C428.21,188.51 429.15,188.83 430.10,189.16C431.04,189.49 431.98,189.84 432.92,190.19C433.85,190.55 434.78,190.91 435.71,191.29C436.64,191.67 437.56,192.06 438.47,192.45C439.39,192.85 440.31,193.26 441.21,193.68C442.12,194.10 443.03,194.53 443.92,194.97C444.82,195.41 445.72,195.86 446.61,196.31C447.50,196.77 448.38,197.24 449.26,197.72C450.14,198.19 451.01,198.68 451.88,199.17C452.75,199.66 453.62,200.17 454.48,200.68C455.34,201.19 456.19,201.72 457.04,202.23C457.90,202.75 458.76,203.26 459.61,203.79C460.46,204.31 461.31,204.84 462.15,205.38C463.00,205.92 463.83,206.47 464.67,207.02C465.50,207.57 466.33,208.14 467.15,208.70C467.98,209.27 468.79,209.85 469.61,210.43C470.42,211.01 471.23,211.60 472.03,212.19C472.84,212.79 473.64,213.39 474.43,213.99C475.23,214.60 476.02,215.21 476.81,215.83C477.59,216.45 478.37,217.08 479.15,217.71C479.93,218.34 480.70,218.97 481.47,219.61C482.24,220.25 483.00,220.90 483.76,221.55C484.52,222.20 485.28,222.85 486.03,223.51C486.78,224.17 487.53,224.84 488.27,225.51C489.01,226.18 489.75,226.85 490.49,227.53C491.23,228.21 491.96,228.89 492.68,229.57C493.41,230.26 494.14,230.95 494.86,231.64C495.58,232.34 496.29,233.04 497.01,233.74C497.72,234.44 498.43,235.14 499.14,235.85C499.84,236.56 500.54,237.27 501.24,237.99C501.94,238.70 502.64,239.42 503.33,240.14C504.02,240.86 504.71,241.59 505.40,242.32C506.09,243.04 506.77,243.77 507.45,244.51C508.13,245.24 508.81,245.98 509.48,246.72C510.16,247.46 510.83,248.20 511.50,248.94C512.16,249.69 512.84,250.42 513.49,251.18C514.15,251.94 514.78,252.71 515.42,253.49C516.05,254.26 516.69,255.03 517.32,255.80C517.95,256.58 518.58,257.35 519.21,258.13C519.84,258.91 520.47,259.69 521.09,260.47C521.71,261.25 522.34,262.04 522.96,262.82C523.58,263.61 524.19,264.40 524.81,265.18C525.42,265.97 526.04,266.76 526.65,267.55C527.26,268.35 527.87,269.14 528.48,269.93C529.09,270.73 529.69,271.52 530.30,272.32C530.90,273.12 531.50,273.92 532.10,274.72C532.70,275.52 533.30,276.32 533.90,277.12C534.50,277.92 535.09,278.72 535.69,279.53C536.28,280.33 536.88,281.14 537.47,281.95C538.06,282.75 538.65,283.56 539.24,284.37C539.83,285.18 540.41,285.99 541.00,286.80C541.59,287.61 542.17,288.42 542.76,289.23C543.34,290.04 543.92,290.86 544.50,291.67C545.08,292.49 545.66,293.30 546.24,294.12C546.82,294.93 547.40,295.75 547.98,296.56C548.55,297.38 549.13,298.20 549.70,299.02C550.28,299.84 550.85,300.66 551.43,301.48C552.00,302.29 552.57,303.12 553.14,303.94C553.72,304.76 554.29,305.58 554.86,306.40C555.43,307.22 556.00,308.04 556.57,308.87C557.13,309.69 557.70,310.51 558.27,311.34C558.84,312.16 559.40,312.98 559.97,313.81C560.54,314.63 561.10,315.46 561.67,316.28C562.23,317.11 562.80,317.93 563.36,318.76C563.93,319.59 564.49,320.41 565.06,321.24C565.62,322.06 566.18,322.89 566.75,323.72C567.31,324.54 567.87,325.37 568.44,326.20C569.00,327.02 569.56,327.85 570.13,328.67C570.70,329.50 571.27,330.32 571.84,331.14C572.41,331.96 572.98,332.78 573.56,333.60C574.13,334.42 574.70,335.25 575.27,336.07C575.84,336.89 576.41,337.71 576.98,338.53C577.55,339.35 578.12,340.17 578.69,340.99C579.26,341.82 579.84,342.64 580.41,343.46C580.98,344.28 581.55,345.10 582.12,345.92C582.70,346.74 583.27,347.56 583.84,348.38C584.42,349.20 584.99,350.02 585.56,350.84C586.14,351.66 586.71,352.47 587.29,353.29C587.86,354.11 588.44,354.93 589.01,355.75C589.59,356.56 590.17,357.38 590.75,358.20C591.32,359.01 591.90,359.83 592.48,360.65C593.06,361.46 593.64,362.28 594.22,363.09C594.80,363.91 595.38,364.72 595.97,365.53C596.55,366.34 597.13,367.16 597.72,367.97C598.30,368.78 598.89,369.59 599.47,370.40C600.06,371.21 600.65,372.02 601.24,372.83C601.83,373.64 602.42,374.45 603.01,375.25C603.60,376.06 604.19,376.86 604.79,377.67C605.38,378.47 605.98,379.28 606.57,380.08C607.17,380.88 607.77,381.69 608.37,382.49C608.97,383.29 609.57,384.09 610.17,384.88C610.77,385.68 611.38,386.48 611.98,387.28C612.59,388.07 613.20,388.87 613.81,389.66C614.42,390.45 615.03,391.24 615.64,392.03C616.25,392.83 616.87,393.61 617.48,394.40C618.10,395.19 618.72,395.98 619.34,396.76C619.96,397.54 620.58,398.33 621.21,399.11C621.83,399.89 622.46,400.67 623.09,401.45C623.72,402.22 624.35,403.00 624.98,403.77C625.62,404.55 626.25,405.32 626.89,406.09C627.53,406.86 628.17,407.63 628.81,408.40C629.46,409.16 630.10,409.93 630.75,410.69C631.40,411.45 632.05,412.21 632.70,412.97C633.35,413.72 634.01,414.48 634.67,415.23C635.33,415.98 635.99,416.73 636.65,417.48C637.32,418.23 637.99,418.97 638.66,419.72C639.33,420.46 640.00,421.20 640.68,421.94C641.35,422.67 642.03,423.41 642.72,424.14C643.40,424.87 644.08,425.60 644.77,426.32C645.46,427.05 646.15,427.77 646.85,428.49C647.55,429.21 648.25,429.92 648.95,430.63C649.65,431.35 650.36,432.05 651.07,432.76C651.78,433.46 652.49,434.17 653.21,434.86C653.92,435.56 654.64,436.25 655.37,436.95C656.09,437.64 656.82,438.32 657.55,439.00C658.28,439.69 659.02,440.36 659.76,441.04C660.50,441.71 661.24,442.38 661.99,443.05C662.73,443.71 663.48,444.37 664.24,445.03C664.99,445.68 665.75,446.34 666.52,446.98C667.28,447.63 668.05,448.27 668.82,448.91C669.59,449.54 670.37,450.17 671.15,450.80C671.93,451.43 672.71,452.05 673.50,452.66C674.29,453.28 675.08,453.89 675.88,454.49C676.67,455.10 677.47,455.70 678.28,456.29C679.09,456.88 679.90,457.47 680.71,458.05C681.53,458.63 682.34,459.21 683.17,459.77C683.99,460.34 684.82,460.90 685.65,461.46C686.48,462.01 687.32,462.56 688.16,463.11C689.00,463.65 689.84,464.18 690.69,464.71C691.54,465.24 692.40,465.76 693.25,466.28C694.11,466.79 694.97,467.30 695.84,467.80C696.71,468.30 697.58,468.79 698.45,469.28C699.33,469.76 700.21,470.24 701.09,470.71C701.97,471.18 702.86,471.64 703.75,472.10C704.64,472.55 705.53,473.00 706.43,473.44C707.33,473.88 708.24,474.31 709.14,474.73C710.05,475.15 710.96,475.57 711.87,475.98C712.79,476.38 713.70,476.78 714.62,477.17C715.54,477.56 716.47,477.95 717.40,478.32C718.32,478.69 719.25,479.06 720.19,479.42C721.12,479.78 722.06,480.13 723.00,480.47C723.94,480.81 724.88,481.15 725.83,481.47C726.77,481.80 727.72,482.12 728.67,482.43C729.62,482.74 730.58,483.04 731.53,483.33C732.49,483.63 733.45,483.91 734.41,484.19C735.37,484.47 736.33,484.74 737.30,485.00C738.26,485.27 739.23,485.52 740.20,485.77C741.17,486.02 742.14,486.26 743.11,486.49C744.08,486.72 745.06,486.95 746.03,487.17C747.01,487.39 747.99,487.60 748.97,487.81C749.95,488.01 750.93,488.21 751.91,488.40C752.89,488.59 753.87,488.78 754.86,488.96C755.84,489.13 756.83,489.31 757.81,489.47C758.80,489.64 759.79,489.80 760.77,489.95C761.76,490.11 762.75,490.25 763.74,490.40C764.73,490.54 765.72,490.68 766.72,490.81C767.71,490.94 768.70,491.06 769.69,491.18C770.68,491.31 771.68,491.42 772.67,491.53C773.67,491.64 774.66,491.75 775.66,491.85C776.65,491.95 777.65,492.05 778.64,492.14C779.64,492.24 780.64,492.33 781.63,492.41C782.63,492.50 783.63,492.58 784.62,492.65C785.62,492.73 786.62,492.81 787.62,492.88C788.61,492.95 789.61,493.02 790.61,493.08C791.61,493.14 792.61,493.21 793.60,493.27C794.60,493.32 796.10,493.41 796.60,493.44" stroke="#0000ff" stroke-dasharray="4.2 3.5"/>
</g>
<g stroke="#000" stroke-width="1" stroke-opacity="0.46" fill="none" shape-rendering="crispEdges">
<line x1="0" y1="494.5" x2="810.5" y2="494.5"/>
<line x1="176.5" y1="22" x2="176.5" y2="524"/>
<path d="M19.5,494.5v-2.4M41.5,494.5v-2.4M64.5,494.5v-4.0M86.5,494.5v-2.4M109.5,494.5v-2.4M131.5,494.5v-2.4M154.5,494.5v-2.4M198.5,494.5v-2.4M221.5,494.5v-2.4M243.5,494.5v-2.4M266.5,494.5v-2.4M288.5,494.5v-4.0M311.5,494.5v-2.4M333.5,494.5v-2.4M356.5,494.5v-2.4M378.5,494.5v-2.4M401.5,494.5v-4.0M423.5,494.5v-2.4M446.5,494.5v-2.4M468.5,494.5v-2.4M491.5,494.5v-2.4M513.5,494.5v-4.0M536.5,494.5v-2.4M558.5,494.5v-2.4M580.5,494.5v-2.4M603.5,494.5v-2.4M625.5,494.5v-4.0M648.5,494.5v-2.4M670.5,494.5v-2.4M693.5,494.5v-2.4M715.5,494.5v-2.4M738.5,494.5v-4.0M760.5,494.5v-2.4M783.5,494.5v-2.4M805.5,494.5v-2.4" stroke-opacity="0.36"/>
<path d="M176.5,519.5h2.4M176.5,506.5h2.4M176.5,481.5h2.4M176.5,469.5h2.4M176.5,456.5h2.4M176.5,443.5h2.4M176.5,431.5h4.0M176.5,418.5h2.4M176.5,406.5h2.4M176.5,393.5h2.4M176.5,380.5h2.4M176.5,368.5h4.0M176.5,355.5h2.4M176.5,343.5h2.4M176.5,330.5h2.4M176.5,317.5h2.4M176.5,305.5h4.0M176.5,292.5h2.4M176.5,280.5h2.4M176.5,267.5h2.4M176.5,254.5h2.4M176.5,242.5h4.0M176.5,229.5h2.4M176.5,217.5h2.4M176.5,204.5h2.4M176.5,191.5h2.4M176.5,179.5h4.0M176.5,166.5h2.4M176.5,154.5h2.4M176.5,141.5h2.4M176.5,128.5h2.4M176.5,116.5h4.0M176.5,103.5h2.4M176.5,91.5h2.4M176.5,78.5h2.4M176.5,65.5h2.4M176.5,53.5h4.0M176.5,40.5h2.4M176.5,28.5h2.4" stroke-opacity="0.36"/>
</g>
<g font-family="Liberation Sans, sans-serif" font-size="13.3" fill="#000">
<text x="63.7" y="510.2" text-anchor="middle">−1</text>
<text x="288.9" y="510.2" text-anchor="middle">1</text>
<text x="401.2" y="510.2" text-anchor="middle">2</text>
<text x="513.5" y="510.2" text-anchor="middle">3</text>
<text x="625.9" y="510.2" text-anchor="middle">4</text>
<text x="738.2" y="510.2" text-anchor="middle">5</text>
<text x="173.3" y="436.1" text-anchor="end">0.05</text>
<text x="173.3" y="373.1" text-anchor="end">0.10</text>
<text x="173.3" y="310.1" text-anchor="end">0.15</text>
<text x="173.3" y="247.1" text-anchor="end">0.20</text>
<text x="173.3" y="184.1" text-anchor="end">0.25</text>
<text x="173.3" y="121.1" text-anchor="end">0.30</text>
<text x="173.3" y="58.1" text-anchor="end">0.35</text>
<text x="162.5" y="12.3">g(<tspan font-style="italic" font-size="14" dx="0.7">ω</tspan>)</text>
<text x="819.6" y="499.6" font-style="italic" font-size="15.5">ω</text>
</g>
<g font-family="Liberation Sans, sans-serif" font-weight="bold" font-size="17.55">
<text x="227" y="97.6" fill="#e60000">T= 2<tspan font-style="italic" dx="0">T</tspan><tspan font-style="italic" font-size="12.6" dy="3.8" dx="-0.5">g</tspan></text>
<text x="334.7" y="235.6" fill="#1a1aff">T= 10<tspan font-style="italic" dx="-0.3">T</tspan><tspan font-style="italic" font-size="12.6" dy="3.8" dx="-0.5">g</tspan></text>
<text x="586.3" y="75.3" fill="#4d0000">gaussian distribution</text>
<text x="587.8" y="110.8" fill="#4d0000">no single wells</text>
<text x="587" y="145.5" fill="#4d0000"><tspan font-style="italic">D</tspan><tspan font-size="12.5" dy="3.5">1</tspan><tspan dy="-3.5" dx="0.8"> = </tspan><tspan dx="1">0</tspan></text>
</g>
<line x1="530.2" y1="70.3" x2="561.5" y2="70.3" stroke="#000" stroke-width="4.6"/>
<line x1="530.2" y1="105.2" x2="561.5" y2="105.2" stroke="#888" stroke-width="4.6"/>
<line x1="532.9" y1="139.45" x2="561.5" y2="139.45" stroke="#000" stroke-width="4.6" stroke-dasharray="3.1 4.6"/>
</svg>
</body></html>
